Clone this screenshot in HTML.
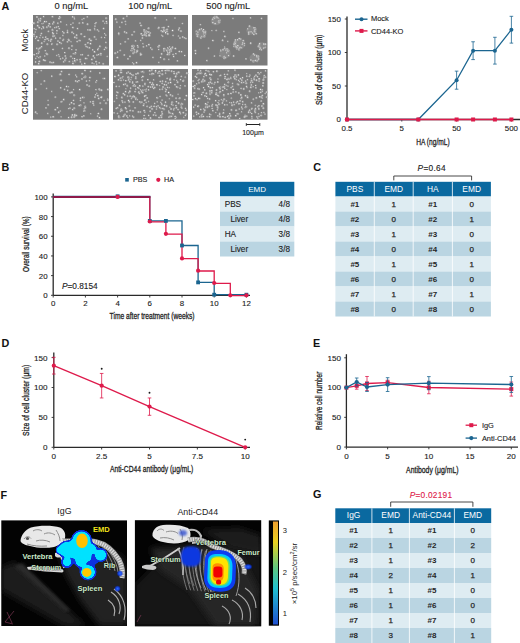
<!DOCTYPE html>
<html><head><meta charset="utf-8"><style>
html,body{margin:0;padding:0;background:#fff;}
svg{display:block;font-family:"Liberation Sans",sans-serif;}
</style></head><body>
<svg width="520" height="643" viewBox="0 0 520 643" font-family="Liberation Sans, sans-serif">
<clipPath id="c1"><rect x="1.3" y="520.4" width="125.7" height="105.6"/></clipPath>
<clipPath id="c2"><rect x="134.9" y="520.2" width="126.3" height="106.1"/></clipPath>
<defs>
<radialGradient id="bl"><stop offset="0" stop-color="#2a6cff"/><stop offset="0.55" stop-color="#1040f0" stop-opacity="0.85"/><stop offset="1" stop-color="#0020c0" stop-opacity="0"/></radialGradient>
<linearGradient id="cbar" x1="0" y1="0" x2="0" y2="1"><stop offset="0" stop-color="#f0a030"/><stop offset="0.2" stop-color="#e8d020"/><stop offset="0.45" stop-color="#60c880"/><stop offset="0.65" stop-color="#20c0d0"/><stop offset="1" stop-color="#2050d0"/></linearGradient>
<linearGradient id="bed1" x1="0" y1="0" x2="1" y2="1"><stop offset="0" stop-color="#2c2c2c"/><stop offset="1" stop-color="#0c0c0c"/></linearGradient>
<filter id="b15" x="-50%" y="-50%" width="200%" height="200%"><feGaussianBlur stdDeviation="1.5"/></filter>
<filter id="b1" x="-50%" y="-50%" width="200%" height="200%"><feGaussianBlur stdDeviation="1"/></filter>
<filter id="b06" x="-50%" y="-50%" width="200%" height="200%"><feGaussianBlur stdDeviation="0.6"/></filter>
<filter id="goo" x="-20%" y="-20%" width="140%" height="140%"><feGaussianBlur stdDeviation="1.6"/><feColorMatrix type="matrix" values="1 0 0 0 0  0 1 0 0 0  0 0 1 0 0  0 0 0 10 -4"/><feGaussianBlur stdDeviation="0.5"/></filter>
<filter id="b3" x="-50%" y="-50%" width="200%" height="200%"><feGaussianBlur stdDeviation="3"/></filter>
</defs>
<rect x="1.3" y="520.4" width="125.7" height="105.6" fill="#030303"/>
<g clip-path="url(#c1)">
<path d="M1,568 L14,562 L86,626 L64,626 L1,590 Z" fill="#1e1e1e" filter="url(#b3)"/>
<path d="M14,566 L22,563 L70,610 L66,612 Z" fill="#2c2c2c" filter="url(#b15)"/>
<path d="M58,552 L98,545 L122,556 L127,575 L127,626 L100,626 L80,600 L66,575 Z" fill="#242424" filter="url(#b3)"/>
<path d="M20.5,541 C21,535 25,530 31,527.5 C40,525 53,525.3 60,527.5 C64,529.5 66,533 65,538 C64,542 60,545 54,547 C46,548.5 37,548 30,546 C25,545 21.5,543.5 20.5,541 Z" fill="#e8e8e8" filter="url(#b06)"/>
<path d="M24,539 C26,536 29,536 31,538.5 M33,531 C36,529 40,529.5 42,531 M44,534 C48,532 52,533 55,535 M36,541 C40,539.5 46,540 50,542 M56,530 C58,533 60,537 60,541 M27,544 C33,546 40,546.5 47,546" stroke="#8c8c8c" stroke-width="1" fill="none" filter="url(#b06)"/>
<circle cx="27.5" cy="538.5" r="1.6" fill="#555" filter="url(#b06)"/>
<path d="M62,541 C72,542 85,540 96,542 C106,544 114,552 119,560 C122,566 123,572 122,578" stroke="#9a9a9a" stroke-width="5.5" fill="none" filter="url(#b06)"/>
<path d="M62,541 C72,542 85,540 96,542 C106,544 114,552 119,560 C122,566 123,572 122,578" stroke="#dddddd" stroke-width="4" fill="none" stroke-dasharray="1.3 1.1" filter="url(#b06)"/>
<path d="M55,553 C58,552 61,553 62,556 C60,558 57,558 55,556 Z" fill="#d8d8d8" filter="url(#b06)"/>
<path d="M98,546 C104,554 108,562 110,570 M103,547 C109,555 113,563 115,571 M108,550 C113,557 117,564 118,572" stroke="#8a8a8a" stroke-width="1" fill="none" filter="url(#b06)"/>
<path d="M27,567 C38,566 52,567 62,569 C64,570 64,572 62,572.5 C52,572 38,571 28,569.5 Z" fill="#d8d8d8" filter="url(#b06)"/>
<path d="M58,546 C60,552 62,560 64,568 M62,547 C66,553 68,560 68,568" stroke="#d0d0d0" stroke-width="1.6" fill="none" filter="url(#b06)"/>
<path d="M111,592 C119,597 122,606 119,614 M114,589 C124,596 127,608 124,620 M108,600 C114,604 116,610 114,616" stroke="#b0b0b0" stroke-width="1.1" fill="none" filter="url(#b06)"/>
<g filter="url(#goo)">
<circle cx="81.5" cy="540.5" r="10.5" fill="#0830e0"/>
<circle cx="67" cy="549.5" r="9" fill="#0830e0"/>
<circle cx="80" cy="550" r="7.5" fill="#0830e0"/>
<circle cx="91" cy="549" r="6.5" fill="#0830e0"/>
<circle cx="100.5" cy="555" r="7" fill="#0830e0"/>
<circle cx="81" cy="561" r="7" fill="#0830e0"/>
<circle cx="67" cy="562" r="6" fill="#0830e0"/>
<circle cx="88" cy="572" r="8.5" fill="#0830e0"/>
<circle cx="60" cy="550" r="4.5" fill="#0830e0"/>
<circle cx="93" cy="560" r="5" fill="#0830e0"/>
<circle cx="75" cy="553" r="7" fill="#0830e0"/>
<circle cx="87" cy="557" r="6" fill="#0830e0"/>
<circle cx="73" cy="545" r="6" fill="#0830e0"/>
</g><g filter="url(#goo)">
<circle cx="81.5" cy="540.5" r="9" fill="#00e2ff"/>
<circle cx="67" cy="549.5" r="7.5" fill="#00e2ff"/>
<circle cx="80" cy="550" r="6" fill="#00e2ff"/>
<circle cx="91" cy="549" r="5" fill="#00e2ff"/>
<circle cx="100.5" cy="555" r="5.5" fill="#00e2ff"/>
<circle cx="81" cy="561" r="5.5" fill="#00e2ff"/>
<circle cx="67" cy="562" r="4.3" fill="#00e2ff"/>
<circle cx="88" cy="572" r="6.8" fill="#00e2ff"/>
<circle cx="60" cy="550" r="3.5" fill="#00e2ff"/>
<circle cx="75" cy="553" r="5.5" fill="#00e2ff"/>
<circle cx="87" cy="557" r="4.5" fill="#00e2ff"/>
<circle cx="73" cy="545" r="4.5" fill="#00e2ff"/>
</g><g filter="url(#b06)">
<ellipse cx="82" cy="540.8" rx="5.8" ry="7.2" fill="#ffc000"/>
<ellipse cx="86.8" cy="572.4" rx="4.7" ry="4.5" fill="#ffc800"/>
</g>
<circle cx="119.9" cy="573.5" r="3.4" fill="url(#bl)"/>
<circle cx="117.5" cy="588.7" r="3.4" fill="url(#bl)"/>
</g>
<path d="M5,622 L14,611 M5,622 L13,624 M7,612 L12,623" stroke="#904060" stroke-width="0.6" fill="none"/>
<rect x="134.9" y="520.2" width="126.3" height="106.1" fill="#030303"/>
<g clip-path="url(#c2)">
<path d="M134.9,585 L160,560 L200,545 L240,540 L261,545 L261,626 L134.9,626 Z" fill="#141414" filter="url(#b3)"/>
<path d="M150,548 L200,545 L240,555 L258,590 L255,626 L215,626 L190,590 L160,570 Z" fill="#262626" filter="url(#b3)"/>
<path d="M200,530 L240,528 L261,535 L261,555 L230,548 Z" fill="#1a1a1a" filter="url(#b3)"/>
<path d="M152.5,536 C152,530 156,526 163,525 C172,524 182,525 188,528 C191,531 191.5,537 188.5,540 C184,543 176,544 168,543 C161,542 155,540 152.5,536 Z" fill="#e8e8e8" filter="url(#b06)"/>
<path d="M157,531 C159,528.5 162,528.5 164,530.5 M166,532 C170,530.5 175,531 178,533.5 M160,538 C165,537 170,538 174,540 M180,529 C182,532 183,536 182,540" stroke="#8c8c8c" stroke-width="1" fill="none" filter="url(#b06)"/>
<path d="M189,530 C194,529 199,531 201,536 C201,540 197,543 192,543" stroke="#bdbdbd" stroke-width="2.2" fill="none" filter="url(#b06)"/>
<ellipse cx="183" cy="533" rx="4" ry="3" fill="#3050d0" opacity="0.8" filter="url(#b1)"/>
<path d="M188,540 C196,538 204,540 212,546 C222,550 232,552 240,560 C244,565 245,570 244,574" stroke="#9a9a9a" stroke-width="5" fill="none" filter="url(#b06)"/>
<path d="M188,540 C196,538 204,540 212,546 C222,550 232,552 240,560 C244,565 245,570 244,574" stroke="#dddddd" stroke-width="3.6" fill="none" stroke-dasharray="1.3 1.1" filter="url(#b06)"/>
<path d="M184.0,547.0 C180.0,560.0 182.0,575.0 187.0,590.0 M187.6,547.6 C183.6,560.5 185.6,575.5 190.6,590.3 M191.2,548.2 C187.2,561.0 189.2,576.0 194.2,590.6 M194.8,548.8 C190.8,561.5 192.8,576.5 197.8,590.9 M198.4,549.4 C194.4,562.0 196.4,577.0 201.4,591.2 M202.0,550.0 C198.0,562.5 200.0,577.5 205.0,591.5 M205.6,550.6 C201.6,563.0 203.6,578.0 208.6,591.8 M209.2,551.2 C205.2,563.5 207.2,578.5 212.2,592.1" stroke="#a0a0a0" stroke-width="0.9" fill="none" opacity="0.75" filter="url(#b06)"/>
<path d="M148,567 C158,562 170,555 180,548" stroke="#d0d0d0" stroke-width="1.8" fill="none" filter="url(#b06)"/>
<path d="M186,549 C183,560 185,572 190,584 M190,548 C187,560 189,573 194,586 M211,550 C208,563 210,578 214,592" stroke="#8a8a8a" stroke-width="0.9" fill="none" opacity="0.8" filter="url(#b06)"/>
<path d="M197,548 C193,560 195,575 201,588 M202,549 C198,562 200,577 206,590 M207,549 C203,563 205,578 211,592 M236,560 C240,572 240,585 236,596" stroke="#9a9a9a" stroke-width="1" fill="none" filter="url(#b06)"/>
<path d="M142,566 C146,564 152,564.5 156,566.5 C157,568 156,569.5 153,570 C149,570 145,569 142,568 Z" fill="#c8c8c8" filter="url(#b06)"/>
<path d="M178,548 C182,556 184,565 183,575" stroke="#c0c0c0" stroke-width="1.5" fill="none" filter="url(#b06)"/>
<path d="M232,600 C240,604 244,612 242,620 M238,594 C248,600 252,610 250,622 M222,606 C230,610 232,618 229,624 M245,588 C252,592 256,600 256,608" stroke="#a8a8a8" stroke-width="1.1" fill="none" filter="url(#b06)"/>
<rect x="181" y="546.5" width="20" height="20" rx="8" fill="#1038e0" filter="url(#b1)"/>
<ellipse cx="248.2" cy="566.8" rx="4.5" ry="3.2" fill="url(#bl)"/>
<g filter="url(#b06)">
<path d="M205,560 C205,552 212,549.5 220,550 C230,550.5 236,556 236,566 L235.5,580 C235,588 229,592 220,591.8 C210,591.5 204,587 204,578 Z" fill="#0c3cf0"/>
<path d="M208,561 C208,555 213,553.5 220,554 C228,554.5 232.5,558 232.5,566 L232,579 C231.5,585 227,588 220,588 C212,588 207.5,585 207.3,578 Z" fill="#00c8ff"/>
<path d="M209.8,562 C209.8,557 214,555.8 219.5,556 C226,556.3 230,559.5 230,566 L229.6,578 C229.2,583 226,586 220,586 C213.5,586 209.5,583 209.4,577 Z" fill="#60e070"/>
<path d="M211,562.5 C211,558 214.5,557 219.5,557.2 C225,557.5 228.4,560 228.4,566 L228,577 C227.6,582 225,584.8 220,584.8 C214.5,584.8 211,582 210.8,577 Z" fill="#ffe400"/>
<path d="M212.5,567 C212.5,564 215,563 218,563.2 C222,563.5 224,565.5 223.8,569 L223.5,577 C223.2,580 221,581.5 218,581.5 C215,581.5 212.6,580 212.5,577 Z" fill="#ff9000"/>
</g>
<rect x="213.4" y="566.5" width="9" height="11" rx="3.2" fill="#f20000" filter="url(#b06)"/>
<circle cx="218.6" cy="582" r="2.6" fill="#f00000" filter="url(#b06)"/>
</g>
<path d="M137,622 L141,615" stroke="#904060" stroke-width="0.6" fill="none"/>
<text x="93" y="532.3" font-size="7.6" text-anchor="start" fill="#f2e21c" font-weight="bold" stroke="#000" stroke-width="0.6" paint-order="stroke" textLength="16.8" lengthAdjust="spacingAndGlyphs">EMD</text>
<text x="22.5" y="558.8" font-size="7.4" text-anchor="start" fill="#cdeccb" font-weight="bold" stroke="#000" stroke-width="0.6" paint-order="stroke" textLength="30" lengthAdjust="spacingAndGlyphs">Vertebra</text>
<text x="31.3" y="570" font-size="7.4" text-anchor="start" fill="#cdeccb" font-weight="bold" stroke="#000" stroke-width="0.6" paint-order="stroke" textLength="30" lengthAdjust="spacingAndGlyphs">Sternum</text>
<text x="103.7" y="568.2" font-size="7.2" text-anchor="start" fill="#cdeccb" font-weight="bold" stroke="#000" stroke-width="0.6" paint-order="stroke">Rib</text>
<text x="77.5" y="590.5" font-size="7.4" text-anchor="start" fill="#cdeccb" font-weight="bold" stroke="#000" stroke-width="0.6" paint-order="stroke" textLength="25" lengthAdjust="spacingAndGlyphs">Spleen</text>
<text x="195.2" y="544.9" font-size="7.4" text-anchor="start" fill="#cdeccb" font-weight="bold" stroke="#000" stroke-width="0.6" paint-order="stroke" textLength="30.8" lengthAdjust="spacingAndGlyphs">Vertebra</text>
<text x="150.4" y="561.6" font-size="7.4" text-anchor="start" fill="#cdeccb" font-weight="bold" stroke="#000" stroke-width="0.6" paint-order="stroke" textLength="30.3" lengthAdjust="spacingAndGlyphs">Sternum</text>
<text x="237.4" y="555.1" font-size="7.4" text-anchor="start" fill="#cdeccb" font-weight="bold" stroke="#000" stroke-width="0.6" paint-order="stroke" textLength="22.2" lengthAdjust="spacingAndGlyphs">Femur</text>
<text x="204.4" y="598.2" font-size="7.4" text-anchor="start" fill="#cdeccb" font-weight="bold" stroke="#000" stroke-width="0.6" paint-order="stroke" textLength="24.2" lengthAdjust="spacingAndGlyphs">Spleen</text>
<text x="64.4" y="513.9" font-size="8.8" text-anchor="middle" fill="#222" font-weight="normal" >IgG</text>
<text x="197.8" y="514.8" font-size="8.8" text-anchor="middle" fill="#222" font-weight="normal" >Anti-CD44</text>
<rect x="268.8" y="520.4" width="10.2" height="105.3" fill="#000"/>
<rect x="273" y="521.5" width="5" height="103" fill="url(#cbar)"/>
<text x="282.7" y="533" font-size="7.6" text-anchor="start" fill="#222" font-weight="normal" >3</text>
<text x="282.7" y="574.5" font-size="7.6" text-anchor="start" fill="#222" font-weight="normal" >2</text>
<text x="282.7" y="615.5" font-size="7.6" text-anchor="start" fill="#222" font-weight="normal" >1</text>
<text transform="translate(297,573.5) rotate(-90)" font-size="7.8" text-anchor="middle" fill="#222">×10<tspan font-size="5.5" dy="-3">5</tspan><tspan dy="3"> p/sec/cm</tspan><tspan font-size="5.5" dy="-3">2</tspan><tspan dy="3">/sr</tspan></text>
<text x="1.5" y="9.6" font-size="10.8" text-anchor="start" fill="#111" font-weight="bold" >A</text>
<text x="1.5" y="171.3" font-size="10.8" text-anchor="start" fill="#111" font-weight="bold" >B</text>
<text x="313.2" y="171.4" font-size="10.8" text-anchor="start" fill="#111" font-weight="bold" >C</text>
<text x="1.5" y="347.3" font-size="10.8" text-anchor="start" fill="#111" font-weight="bold" >D</text>
<text x="313" y="346.7" font-size="10.8" text-anchor="start" fill="#111" font-weight="bold" >E</text>
<text x="0.6" y="498.8" font-size="10.8" text-anchor="start" fill="#111" font-weight="bold" >F</text>
<text x="313" y="498" font-size="10.8" text-anchor="start" fill="#111" font-weight="bold" >G</text>
<rect x="33" y="15" width="76.0" height="50.5" fill="#7b7b7b"/>
<circle cx="58.0" cy="23.3" r="1.1" fill="#9a9a9a"/>
<circle cx="57.8" cy="23.1" r="0.55" fill="rgb(229,229,229)"/>
<circle cx="82.2" cy="19.5" r="0.9" fill="#9a9a9a"/>
<circle cx="82.0" cy="19.3" r="0.46" fill="rgb(217,217,217)"/>
<circle cx="73.7" cy="33.7" r="0.9" fill="#9a9a9a"/>
<circle cx="73.5" cy="33.5" r="0.47" fill="rgb(238,238,238)"/>
<circle cx="38.3" cy="40.6" r="1.2" fill="#9a9a9a"/>
<circle cx="38.1" cy="40.4" r="0.62" fill="rgb(239,239,239)"/>
<circle cx="36.8" cy="37.0" r="1.2" fill="#9a9a9a"/>
<circle cx="36.6" cy="36.8" r="0.60" fill="rgb(250,250,250)"/>
<circle cx="39.2" cy="20.4" r="0.9" fill="#9a9a9a"/>
<circle cx="39.0" cy="20.2" r="0.46" fill="rgb(216,216,216)"/>
<circle cx="65.4" cy="56.1" r="1.1" fill="#9a9a9a"/>
<circle cx="65.2" cy="55.9" r="0.56" fill="rgb(230,230,230)"/>
<circle cx="43.2" cy="26.8" r="1.1" fill="#9a9a9a"/>
<circle cx="43.0" cy="26.6" r="0.54" fill="rgb(215,215,215)"/>
<circle cx="80.4" cy="62.0" r="1.1" fill="#9a9a9a"/>
<circle cx="80.2" cy="61.8" r="0.53" fill="rgb(219,219,219)"/>
<circle cx="76.7" cy="35.2" r="1.2" fill="#9a9a9a"/>
<circle cx="76.5" cy="35.0" r="0.58" fill="rgb(247,247,247)"/>
<circle cx="106.2" cy="18.3" r="1.2" fill="#9a9a9a"/>
<circle cx="106.0" cy="18.1" r="0.61" fill="rgb(220,220,220)"/>
<circle cx="97.5" cy="30.0" r="1.1" fill="#9a9a9a"/>
<circle cx="97.3" cy="29.8" r="0.57" fill="rgb(219,219,219)"/>
<circle cx="44.7" cy="21.7" r="1.2" fill="#9a9a9a"/>
<circle cx="44.5" cy="21.5" r="0.58" fill="rgb(245,245,245)"/>
<circle cx="56.8" cy="55.6" r="1.0" fill="#9a9a9a"/>
<circle cx="56.6" cy="55.4" r="0.49" fill="rgb(219,219,219)"/>
<circle cx="47.4" cy="44.2" r="1.2" fill="#9a9a9a"/>
<circle cx="47.2" cy="44.0" r="0.60" fill="rgb(230,230,230)"/>
<circle cx="81.3" cy="34.1" r="1.2" fill="#9a9a9a"/>
<circle cx="81.1" cy="33.9" r="0.58" fill="rgb(228,228,228)"/>
<circle cx="74.5" cy="19.0" r="1.0" fill="#9a9a9a"/>
<circle cx="74.3" cy="18.8" r="0.49" fill="rgb(244,244,244)"/>
<circle cx="38.4" cy="26.0" r="1.1" fill="#9a9a9a"/>
<circle cx="38.2" cy="25.8" r="0.54" fill="rgb(239,239,239)"/>
<circle cx="84.3" cy="36.7" r="0.9" fill="#9a9a9a"/>
<circle cx="84.1" cy="36.5" r="0.46" fill="rgb(233,233,233)"/>
<circle cx="57.2" cy="44.4" r="1.2" fill="#9a9a9a"/>
<circle cx="57.0" cy="44.2" r="0.58" fill="rgb(227,227,227)"/>
<circle cx="67.5" cy="30.5" r="0.9" fill="#9a9a9a"/>
<circle cx="67.3" cy="30.3" r="0.46" fill="rgb(224,224,224)"/>
<circle cx="92.8" cy="49.9" r="1.0" fill="#9a9a9a"/>
<circle cx="92.6" cy="49.7" r="0.51" fill="rgb(234,234,234)"/>
<circle cx="52.1" cy="43.9" r="1.1" fill="#9a9a9a"/>
<circle cx="51.9" cy="43.7" r="0.56" fill="rgb(223,223,223)"/>
<circle cx="72.9" cy="58.4" r="0.9" fill="#9a9a9a"/>
<circle cx="72.7" cy="58.2" r="0.45" fill="rgb(218,218,218)"/>
<circle cx="88.0" cy="30.0" r="1.1" fill="#9a9a9a"/>
<circle cx="87.8" cy="29.8" r="0.54" fill="rgb(221,221,221)"/>
<circle cx="106.5" cy="21.7" r="1.1" fill="#9a9a9a"/>
<circle cx="106.3" cy="21.5" r="0.57" fill="rgb(246,246,246)"/>
<circle cx="64.9" cy="52.7" r="1.0" fill="#9a9a9a"/>
<circle cx="64.7" cy="52.5" r="0.50" fill="rgb(248,248,248)"/>
<circle cx="45.2" cy="39.7" r="1.0" fill="#9a9a9a"/>
<circle cx="45.0" cy="39.5" r="0.50" fill="rgb(244,244,244)"/>
<circle cx="36.9" cy="48.4" r="1.1" fill="#9a9a9a"/>
<circle cx="36.7" cy="48.2" r="0.53" fill="rgb(222,222,222)"/>
<circle cx="90.6" cy="43.8" r="1.2" fill="#9a9a9a"/>
<circle cx="90.4" cy="43.6" r="0.62" fill="rgb(250,250,250)"/>
<circle cx="98.8" cy="31.2" r="1.0" fill="#9a9a9a"/>
<circle cx="98.6" cy="31.0" r="0.48" fill="rgb(220,220,220)"/>
<circle cx="85.5" cy="44.8" r="1.2" fill="#9a9a9a"/>
<circle cx="85.3" cy="44.6" r="0.61" fill="rgb(216,216,216)"/>
<circle cx="76.9" cy="38.1" r="1.0" fill="#9a9a9a"/>
<circle cx="76.7" cy="37.9" r="0.50" fill="rgb(219,219,219)"/>
<circle cx="96.2" cy="61.8" r="1.2" fill="#9a9a9a"/>
<circle cx="96.0" cy="61.6" r="0.59" fill="rgb(243,243,243)"/>
<circle cx="69.1" cy="48.2" r="1.2" fill="#9a9a9a"/>
<circle cx="68.9" cy="48.0" r="0.62" fill="rgb(239,239,239)"/>
<circle cx="38.5" cy="50.0" r="1.0" fill="#9a9a9a"/>
<circle cx="38.3" cy="49.8" r="0.49" fill="rgb(228,228,228)"/>
<circle cx="81.9" cy="64.2" r="0.9" fill="#9a9a9a"/>
<circle cx="81.7" cy="64.0" r="0.46" fill="rgb(220,220,220)"/>
<circle cx="94.8" cy="29.8" r="0.9" fill="#9a9a9a"/>
<circle cx="94.6" cy="29.6" r="0.47" fill="rgb(248,248,248)"/>
<circle cx="62.5" cy="48.4" r="1.0" fill="#9a9a9a"/>
<circle cx="62.3" cy="48.2" r="0.50" fill="rgb(238,238,238)"/>
<circle cx="35.7" cy="38.4" r="0.9" fill="#9a9a9a"/>
<circle cx="35.5" cy="38.2" r="0.47" fill="rgb(247,247,247)"/>
<circle cx="46.4" cy="21.7" r="1.0" fill="#9a9a9a"/>
<circle cx="46.2" cy="21.5" r="0.50" fill="rgb(222,222,222)"/>
<circle cx="38.4" cy="53.3" r="1.1" fill="#9a9a9a"/>
<circle cx="38.2" cy="53.1" r="0.57" fill="rgb(229,229,229)"/>
<circle cx="43.6" cy="28.0" r="1.1" fill="#9a9a9a"/>
<circle cx="43.4" cy="27.8" r="0.54" fill="rgb(246,246,246)"/>
<circle cx="62.9" cy="58.3" r="1.0" fill="#9a9a9a"/>
<circle cx="62.7" cy="58.1" r="0.52" fill="rgb(225,225,225)"/>
<circle cx="40.0" cy="37.8" r="0.9" fill="#9a9a9a"/>
<circle cx="39.8" cy="37.6" r="0.45" fill="rgb(246,246,246)"/>
<circle cx="74.7" cy="58.8" r="1.1" fill="#9a9a9a"/>
<circle cx="74.5" cy="58.6" r="0.57" fill="rgb(240,240,240)"/>
<circle cx="94.6" cy="57.9" r="1.0" fill="#9a9a9a"/>
<circle cx="94.4" cy="57.7" r="0.50" fill="rgb(224,224,224)"/>
<circle cx="54.6" cy="36.1" r="1.0" fill="#9a9a9a"/>
<circle cx="54.4" cy="35.9" r="0.52" fill="rgb(239,239,239)"/>
<circle cx="60.5" cy="58.9" r="1.0" fill="#9a9a9a"/>
<circle cx="60.3" cy="58.7" r="0.51" fill="rgb(236,236,236)"/>
<circle cx="104.9" cy="23.3" r="0.9" fill="#9a9a9a"/>
<circle cx="104.7" cy="23.1" r="0.45" fill="rgb(236,236,236)"/>
<circle cx="47.0" cy="27.2" r="1.2" fill="#9a9a9a"/>
<circle cx="46.8" cy="27.0" r="0.60" fill="rgb(222,222,222)"/>
<circle cx="51.3" cy="39.5" r="1.2" fill="#9a9a9a"/>
<circle cx="51.1" cy="39.3" r="0.61" fill="rgb(227,227,227)"/>
<circle cx="77.6" cy="28.7" r="1.1" fill="#9a9a9a"/>
<circle cx="77.4" cy="28.5" r="0.57" fill="rgb(233,233,233)"/>
<circle cx="34.3" cy="36.3" r="1.0" fill="#9a9a9a"/>
<circle cx="34.1" cy="36.1" r="0.49" fill="rgb(219,219,219)"/>
<circle cx="61.3" cy="43.5" r="1.0" fill="#9a9a9a"/>
<circle cx="61.1" cy="43.3" r="0.52" fill="rgb(219,219,219)"/>
<circle cx="104.5" cy="49.5" r="1.0" fill="#9a9a9a"/>
<circle cx="104.3" cy="49.3" r="0.51" fill="rgb(242,242,242)"/>
<circle cx="72.1" cy="46.0" r="1.2" fill="#9a9a9a"/>
<circle cx="71.9" cy="45.8" r="0.58" fill="rgb(218,218,218)"/>
<circle cx="84.0" cy="18.6" r="1.0" fill="#9a9a9a"/>
<circle cx="83.8" cy="18.4" r="0.50" fill="rgb(218,218,218)"/>
<circle cx="100.6" cy="53.8" r="1.2" fill="#9a9a9a"/>
<circle cx="100.4" cy="53.6" r="0.60" fill="rgb(233,233,233)"/>
<circle cx="98.7" cy="54.7" r="1.1" fill="#9a9a9a"/>
<circle cx="98.5" cy="54.5" r="0.56" fill="rgb(224,224,224)"/>
<circle cx="63.0" cy="35.4" r="1.0" fill="#9a9a9a"/>
<circle cx="62.8" cy="35.2" r="0.49" fill="rgb(232,232,232)"/>
<circle cx="41.7" cy="46.8" r="1.1" fill="#9a9a9a"/>
<circle cx="41.5" cy="46.6" r="0.53" fill="rgb(235,235,235)"/>
<circle cx="38.6" cy="19.3" r="1.0" fill="#9a9a9a"/>
<circle cx="38.4" cy="19.1" r="0.48" fill="rgb(238,238,238)"/>
<circle cx="49.4" cy="23.9" r="1.2" fill="#9a9a9a"/>
<circle cx="49.2" cy="23.7" r="0.59" fill="rgb(242,242,242)"/>
<circle cx="59.2" cy="18.5" r="1.2" fill="#9a9a9a"/>
<circle cx="59.0" cy="18.3" r="0.60" fill="rgb(240,240,240)"/>
<circle cx="34.0" cy="23.3" r="1.2" fill="#9a9a9a"/>
<circle cx="33.8" cy="23.1" r="0.61" fill="rgb(250,250,250)"/>
<circle cx="41.5" cy="33.6" r="1.1" fill="#9a9a9a"/>
<circle cx="41.3" cy="33.4" r="0.55" fill="rgb(220,220,220)"/>
<circle cx="35.9" cy="58.4" r="0.9" fill="#9a9a9a"/>
<circle cx="35.7" cy="58.2" r="0.46" fill="rgb(241,241,241)"/>
<circle cx="79.4" cy="23.2" r="1.1" fill="#9a9a9a"/>
<circle cx="79.2" cy="23.0" r="0.53" fill="rgb(223,223,223)"/>
<circle cx="52.7" cy="32.8" r="1.1" fill="#9a9a9a"/>
<circle cx="52.5" cy="32.6" r="0.56" fill="rgb(233,233,233)"/>
<circle cx="60.9" cy="22.0" r="1.1" fill="#9a9a9a"/>
<circle cx="60.7" cy="21.8" r="0.53" fill="rgb(250,250,250)"/>
<circle cx="96.8" cy="64.2" r="0.9" fill="#9a9a9a"/>
<circle cx="96.6" cy="64.0" r="0.47" fill="rgb(245,245,245)"/>
<circle cx="68.5" cy="39.5" r="1.0" fill="#9a9a9a"/>
<circle cx="68.3" cy="39.3" r="0.52" fill="rgb(233,233,233)"/>
<circle cx="40.4" cy="21.0" r="1.0" fill="#9a9a9a"/>
<circle cx="40.2" cy="20.8" r="0.50" fill="rgb(231,231,231)"/>
<circle cx="59.4" cy="28.8" r="1.0" fill="#9a9a9a"/>
<circle cx="59.2" cy="28.6" r="0.52" fill="rgb(230,230,230)"/>
<circle cx="95.3" cy="23.8" r="1.0" fill="#9a9a9a"/>
<circle cx="95.1" cy="23.6" r="0.50" fill="rgb(250,250,250)"/>
<circle cx="35.7" cy="62.1" r="1.1" fill="#9a9a9a"/>
<circle cx="35.5" cy="61.9" r="0.57" fill="rgb(222,222,222)"/>
<circle cx="73.1" cy="23.1" r="1.0" fill="#9a9a9a"/>
<circle cx="72.9" cy="22.9" r="0.48" fill="rgb(225,225,225)"/>
<circle cx="74.2" cy="17.3" r="0.9" fill="#9a9a9a"/>
<circle cx="74.0" cy="17.1" r="0.46" fill="rgb(247,247,247)"/>
<circle cx="73.1" cy="63.5" r="1.2" fill="#9a9a9a"/>
<circle cx="72.9" cy="63.3" r="0.61" fill="rgb(246,246,246)"/>
<circle cx="97.9" cy="49.8" r="1.1" fill="#9a9a9a"/>
<circle cx="97.7" cy="49.6" r="0.55" fill="rgb(243,243,243)"/>
<circle cx="53.3" cy="33.8" r="1.2" fill="#9a9a9a"/>
<circle cx="53.1" cy="33.6" r="0.61" fill="rgb(243,243,243)"/>
<circle cx="46.4" cy="53.4" r="1.0" fill="#9a9a9a"/>
<circle cx="46.2" cy="53.2" r="0.52" fill="rgb(250,250,250)"/>
<circle cx="73.4" cy="53.8" r="1.0" fill="#9a9a9a"/>
<circle cx="73.2" cy="53.6" r="0.48" fill="rgb(220,220,220)"/>
<circle cx="58.4" cy="26.8" r="1.0" fill="#9a9a9a"/>
<circle cx="58.2" cy="26.6" r="0.48" fill="rgb(250,250,250)"/>
<circle cx="94.1" cy="63.8" r="0.9" fill="#9a9a9a"/>
<circle cx="93.9" cy="63.6" r="0.47" fill="rgb(230,230,230)"/>
<circle cx="97.1" cy="55.1" r="1.0" fill="#9a9a9a"/>
<circle cx="96.9" cy="54.9" r="0.51" fill="rgb(227,227,227)"/>
<circle cx="94.6" cy="51.9" r="1.2" fill="#9a9a9a"/>
<circle cx="94.4" cy="51.7" r="0.61" fill="rgb(241,241,241)"/>
<circle cx="50.8" cy="41.1" r="1.0" fill="#9a9a9a"/>
<circle cx="50.6" cy="40.9" r="0.52" fill="rgb(248,248,248)"/>
<circle cx="60.3" cy="17.4" r="1.0" fill="#9a9a9a"/>
<circle cx="60.1" cy="17.2" r="0.49" fill="rgb(232,232,232)"/>
<circle cx="36.1" cy="29.6" r="1.0" fill="#9a9a9a"/>
<circle cx="35.9" cy="29.4" r="0.51" fill="rgb(218,218,218)"/>
<circle cx="53.2" cy="49.6" r="1.1" fill="#9a9a9a"/>
<circle cx="53.0" cy="49.4" r="0.54" fill="rgb(238,238,238)"/>
<circle cx="104.8" cy="37.7" r="0.9" fill="#9a9a9a"/>
<circle cx="104.6" cy="37.5" r="0.47" fill="rgb(247,247,247)"/>
<circle cx="103.3" cy="63.9" r="1.1" fill="#9a9a9a"/>
<circle cx="103.1" cy="63.7" r="0.54" fill="rgb(228,228,228)"/>
<circle cx="104.7" cy="33.7" r="0.9" fill="#9a9a9a"/>
<circle cx="104.5" cy="33.5" r="0.47" fill="rgb(230,230,230)"/>
<circle cx="50.3" cy="27.0" r="1.0" fill="#9a9a9a"/>
<circle cx="50.1" cy="26.8" r="0.52" fill="rgb(243,243,243)"/>
<circle cx="48.6" cy="25.9" r="1.1" fill="#9a9a9a"/>
<circle cx="48.4" cy="25.7" r="0.53" fill="rgb(234,234,234)"/>
<circle cx="80.2" cy="59.7" r="1.2" fill="#9a9a9a"/>
<circle cx="80.0" cy="59.5" r="0.60" fill="rgb(216,216,216)"/>
<circle cx="96.2" cy="39.3" r="0.9" fill="#9a9a9a"/>
<circle cx="96.0" cy="39.1" r="0.47" fill="rgb(242,242,242)"/>
<circle cx="82.3" cy="54.8" r="1.1" fill="#9a9a9a"/>
<circle cx="82.1" cy="54.6" r="0.57" fill="rgb(245,245,245)"/>
<circle cx="40.3" cy="48.0" r="1.2" fill="#9a9a9a"/>
<circle cx="40.1" cy="47.8" r="0.62" fill="rgb(246,246,246)"/>
<circle cx="101.3" cy="53.9" r="0.9" fill="#9a9a9a"/>
<circle cx="101.1" cy="53.7" r="0.45" fill="rgb(240,240,240)"/>
<circle cx="89.5" cy="39.2" r="1.2" fill="#9a9a9a"/>
<circle cx="89.3" cy="39.0" r="0.61" fill="rgb(248,248,248)"/>
<circle cx="47.2" cy="54.3" r="1.2" fill="#9a9a9a"/>
<circle cx="47.0" cy="54.1" r="0.60" fill="rgb(243,243,243)"/>
<circle cx="58.6" cy="54.8" r="1.0" fill="#9a9a9a"/>
<circle cx="58.4" cy="54.6" r="0.49" fill="rgb(221,221,221)"/>
<circle cx="105.9" cy="35.2" r="1.0" fill="#9a9a9a"/>
<circle cx="105.7" cy="35.0" r="0.49" fill="rgb(224,224,224)"/>
<circle cx="63.7" cy="61.9" r="1.1" fill="#9a9a9a"/>
<circle cx="63.5" cy="61.7" r="0.54" fill="rgb(221,221,221)"/>
<circle cx="87.6" cy="24.2" r="1.2" fill="#9a9a9a"/>
<circle cx="87.4" cy="24.0" r="0.61" fill="rgb(244,244,244)"/>
<circle cx="43.4" cy="23.3" r="0.9" fill="#9a9a9a"/>
<circle cx="43.2" cy="23.1" r="0.46" fill="rgb(217,217,217)"/>
<circle cx="101.0" cy="55.1" r="0.9" fill="#9a9a9a"/>
<circle cx="100.8" cy="54.9" r="0.45" fill="rgb(223,223,223)"/>
<circle cx="44.8" cy="56.1" r="1.0" fill="#9a9a9a"/>
<circle cx="44.6" cy="55.9" r="0.49" fill="rgb(217,217,217)"/>
<circle cx="106.5" cy="47.9" r="1.1" fill="#9a9a9a"/>
<circle cx="106.3" cy="47.7" r="0.56" fill="rgb(234,234,234)"/>
<circle cx="59.9" cy="42.6" r="1.2" fill="#9a9a9a"/>
<circle cx="59.7" cy="42.4" r="0.62" fill="rgb(231,231,231)"/>
<circle cx="43.7" cy="16.7" r="1.1" fill="#9a9a9a"/>
<circle cx="43.5" cy="16.5" r="0.54" fill="rgb(242,242,242)"/>
<circle cx="105.8" cy="47.5" r="1.1" fill="#9a9a9a"/>
<circle cx="105.6" cy="47.3" r="0.57" fill="rgb(222,222,222)"/>
<circle cx="73.0" cy="61.3" r="0.9" fill="#9a9a9a"/>
<circle cx="72.8" cy="61.1" r="0.47" fill="rgb(234,234,234)"/>
<circle cx="66.1" cy="58.3" r="1.1" fill="#9a9a9a"/>
<circle cx="65.9" cy="58.1" r="0.54" fill="rgb(227,227,227)"/>
<circle cx="95.1" cy="26.2" r="1.0" fill="#9a9a9a"/>
<circle cx="94.9" cy="26.0" r="0.52" fill="rgb(229,229,229)"/>
<circle cx="52.6" cy="30.2" r="1.2" fill="#9a9a9a"/>
<circle cx="52.4" cy="30.0" r="0.59" fill="rgb(215,215,215)"/>
<circle cx="51.8" cy="44.4" r="0.9" fill="#9a9a9a"/>
<circle cx="51.6" cy="44.2" r="0.45" fill="rgb(234,234,234)"/>
<circle cx="53.2" cy="36.3" r="1.2" fill="#9a9a9a"/>
<circle cx="53.0" cy="36.1" r="0.62" fill="rgb(232,232,232)"/>
<circle cx="43.7" cy="60.1" r="1.2" fill="#9a9a9a"/>
<circle cx="43.5" cy="59.9" r="0.62" fill="rgb(230,230,230)"/>
<circle cx="60.2" cy="38.2" r="1.1" fill="#9a9a9a"/>
<circle cx="60.0" cy="38.0" r="0.53" fill="rgb(230,230,230)"/>
<circle cx="77.2" cy="59.9" r="1.1" fill="#9a9a9a"/>
<circle cx="77.0" cy="59.7" r="0.55" fill="rgb(216,216,216)"/>
<circle cx="65.1" cy="60.5" r="1.2" fill="#9a9a9a"/>
<circle cx="64.9" cy="60.3" r="0.62" fill="rgb(234,234,234)"/>
<circle cx="71.1" cy="41.8" r="0.9" fill="#9a9a9a"/>
<circle cx="70.9" cy="41.6" r="0.46" fill="rgb(227,227,227)"/>
<circle cx="72.7" cy="16.9" r="1.1" fill="#9a9a9a"/>
<circle cx="72.5" cy="16.7" r="0.54" fill="rgb(241,241,241)"/>
<circle cx="66.6" cy="24.9" r="0.9" fill="#9a9a9a"/>
<circle cx="66.4" cy="24.7" r="0.46" fill="rgb(229,229,229)"/>
<circle cx="34.3" cy="54.8" r="1.1" fill="#9a9a9a"/>
<circle cx="34.1" cy="54.6" r="0.57" fill="rgb(238,238,238)"/>
<circle cx="46.8" cy="39.0" r="1.0" fill="#9a9a9a"/>
<circle cx="46.6" cy="38.8" r="0.49" fill="rgb(217,217,217)"/>
<circle cx="87.7" cy="43.0" r="1.1" fill="#9a9a9a"/>
<circle cx="87.5" cy="42.8" r="0.57" fill="rgb(241,241,241)"/>
<circle cx="58.1" cy="41.1" r="1.0" fill="#9a9a9a"/>
<circle cx="57.9" cy="40.9" r="0.51" fill="rgb(240,240,240)"/>
<circle cx="75.1" cy="54.0" r="1.0" fill="#9a9a9a"/>
<circle cx="74.9" cy="53.8" r="0.48" fill="rgb(233,233,233)"/>
<circle cx="41.9" cy="43.2" r="1.2" fill="#9a9a9a"/>
<circle cx="41.7" cy="43.0" r="0.58" fill="rgb(247,247,247)"/>
<circle cx="52.4" cy="29.4" r="0.9" fill="#9a9a9a"/>
<circle cx="52.2" cy="29.2" r="0.46" fill="rgb(246,246,246)"/>
<circle cx="91.1" cy="40.6" r="1.2" fill="#9a9a9a"/>
<circle cx="90.9" cy="40.4" r="0.62" fill="rgb(234,234,234)"/>
<circle cx="75.6" cy="52.9" r="1.2" fill="#9a9a9a"/>
<circle cx="75.4" cy="52.7" r="0.58" fill="rgb(227,227,227)"/>
<circle cx="101.5" cy="37.5" r="1.0" fill="#9a9a9a"/>
<circle cx="101.3" cy="37.3" r="0.49" fill="rgb(229,229,229)"/>
<circle cx="79.3" cy="40.5" r="1.0" fill="#9a9a9a"/>
<circle cx="79.1" cy="40.3" r="0.50" fill="rgb(233,233,233)"/>
<circle cx="71.9" cy="49.6" r="0.9" fill="#9a9a9a"/>
<circle cx="71.7" cy="49.4" r="0.47" fill="rgb(246,246,246)"/>
<circle cx="67.5" cy="41.9" r="1.1" fill="#9a9a9a"/>
<circle cx="67.3" cy="41.7" r="0.56" fill="rgb(229,229,229)"/>
<circle cx="69.4" cy="61.7" r="1.1" fill="#9a9a9a"/>
<circle cx="69.2" cy="61.5" r="0.53" fill="rgb(218,218,218)"/>
<circle cx="85.7" cy="58.5" r="1.2" fill="#9a9a9a"/>
<circle cx="85.5" cy="58.3" r="0.62" fill="rgb(224,224,224)"/>
<circle cx="103.7" cy="28.6" r="1.2" fill="#9a9a9a"/>
<circle cx="103.5" cy="28.4" r="0.61" fill="rgb(218,218,218)"/>
<circle cx="75.4" cy="61.7" r="1.0" fill="#9a9a9a"/>
<circle cx="75.2" cy="61.5" r="0.49" fill="rgb(224,224,224)"/>
<circle cx="96.2" cy="22.7" r="1.0" fill="#9a9a9a"/>
<circle cx="96.0" cy="22.5" r="0.52" fill="rgb(218,218,218)"/>
<circle cx="43.0" cy="37.4" r="1.0" fill="#9a9a9a"/>
<circle cx="42.8" cy="37.2" r="0.48" fill="rgb(243,243,243)"/>
<circle cx="39.4" cy="27.7" r="1.2" fill="#9a9a9a"/>
<circle cx="39.2" cy="27.5" r="0.61" fill="rgb(235,235,235)"/>
<circle cx="39.4" cy="48.5" r="1.2" fill="#9a9a9a"/>
<circle cx="39.2" cy="48.3" r="0.58" fill="rgb(220,220,220)"/>
<circle cx="92.0" cy="59.5" r="1.2" fill="#9a9a9a"/>
<circle cx="91.8" cy="59.3" r="0.61" fill="rgb(236,236,236)"/>
<circle cx="45.4" cy="50.7" r="1.0" fill="#9a9a9a"/>
<circle cx="45.2" cy="50.5" r="0.48" fill="rgb(248,248,248)"/>
<circle cx="82.9" cy="22.9" r="1.2" fill="#9a9a9a"/>
<circle cx="82.7" cy="22.7" r="0.58" fill="rgb(217,217,217)"/>
<circle cx="99.3" cy="62.9" r="1.0" fill="#9a9a9a"/>
<circle cx="99.1" cy="62.7" r="0.50" fill="rgb(239,239,239)"/>
<circle cx="50.2" cy="62.2" r="1.2" fill="#9a9a9a"/>
<circle cx="50.0" cy="62.0" r="0.60" fill="rgb(236,236,236)"/>
<circle cx="63.5" cy="39.6" r="1.1" fill="#9a9a9a"/>
<circle cx="63.3" cy="39.4" r="0.53" fill="rgb(221,221,221)"/>
<circle cx="107.3" cy="56.4" r="0.9" fill="#9a9a9a"/>
<circle cx="107.1" cy="56.2" r="0.45" fill="rgb(232,232,232)"/>
<circle cx="45.9" cy="36.9" r="0.9" fill="#9a9a9a"/>
<circle cx="45.7" cy="36.7" r="0.46" fill="rgb(241,241,241)"/>
<circle cx="72.2" cy="32.4" r="1.2" fill="#9a9a9a"/>
<circle cx="72.0" cy="32.2" r="0.62" fill="rgb(222,222,222)"/>
<circle cx="48.5" cy="31.4" r="1.1" fill="#9a9a9a"/>
<circle cx="48.3" cy="31.2" r="0.55" fill="rgb(228,228,228)"/>
<circle cx="87.4" cy="16.9" r="1.0" fill="#9a9a9a"/>
<circle cx="87.2" cy="16.7" r="0.52" fill="rgb(234,234,234)"/>
<circle cx="75.0" cy="37.4" r="1.2" fill="#9a9a9a"/>
<circle cx="74.8" cy="37.2" r="0.59" fill="rgb(242,242,242)"/>
<circle cx="35.3" cy="32.1" r="0.9" fill="#9a9a9a"/>
<circle cx="35.1" cy="31.9" r="0.47" fill="rgb(245,245,245)"/>
<circle cx="80.2" cy="40.8" r="1.0" fill="#9a9a9a"/>
<circle cx="80.0" cy="40.6" r="0.48" fill="rgb(249,249,249)"/>
<circle cx="38.8" cy="63.8" r="1.2" fill="#9a9a9a"/>
<circle cx="38.6" cy="63.6" r="0.61" fill="rgb(227,227,227)"/>
<circle cx="92.3" cy="63.1" r="1.0" fill="#9a9a9a"/>
<circle cx="92.1" cy="62.9" r="0.51" fill="rgb(245,245,245)"/>
<circle cx="41.8" cy="28.9" r="0.9" fill="#9a9a9a"/>
<circle cx="41.6" cy="28.7" r="0.46" fill="rgb(241,241,241)"/>
<circle cx="36.9" cy="53.8" r="1.0" fill="#9a9a9a"/>
<circle cx="36.7" cy="53.6" r="0.49" fill="rgb(240,240,240)"/>
<circle cx="54.0" cy="22.3" r="0.9" fill="#9a9a9a"/>
<circle cx="53.8" cy="22.1" r="0.46" fill="rgb(217,217,217)"/>
<circle cx="65.2" cy="60.2" r="1.1" fill="#9a9a9a"/>
<circle cx="65.0" cy="60.0" r="0.53" fill="rgb(218,218,218)"/>
<circle cx="94.6" cy="28.5" r="1.0" fill="#9a9a9a"/>
<circle cx="94.4" cy="28.3" r="0.49" fill="rgb(219,219,219)"/>
<circle cx="45.1" cy="60.6" r="1.2" fill="#9a9a9a"/>
<circle cx="44.9" cy="60.4" r="0.61" fill="rgb(236,236,236)"/>
<circle cx="76.2" cy="50.0" r="1.0" fill="#9a9a9a"/>
<circle cx="76.0" cy="49.8" r="0.51" fill="rgb(236,236,236)"/>
<circle cx="40.6" cy="18.8" r="1.2" fill="#9a9a9a"/>
<circle cx="40.4" cy="18.6" r="0.62" fill="rgb(217,217,217)"/>
<circle cx="84.9" cy="36.6" r="1.0" fill="#9a9a9a"/>
<circle cx="84.7" cy="36.4" r="0.50" fill="rgb(235,235,235)"/>
<circle cx="39.4" cy="61.5" r="1.2" fill="#9a9a9a"/>
<circle cx="39.2" cy="61.3" r="0.61" fill="rgb(234,234,234)"/>
<circle cx="80.9" cy="54.9" r="0.9" fill="#9a9a9a"/>
<circle cx="80.7" cy="54.7" r="0.45" fill="rgb(219,219,219)"/>
<circle cx="40.2" cy="57.5" r="0.9" fill="#9a9a9a"/>
<circle cx="40.0" cy="57.3" r="0.45" fill="rgb(229,229,229)"/>
<circle cx="38.9" cy="57.8" r="0.9" fill="#9a9a9a"/>
<circle cx="38.7" cy="57.6" r="0.47" fill="rgb(244,244,244)"/>
<circle cx="67.6" cy="32.4" r="1.2" fill="#9a9a9a"/>
<circle cx="67.4" cy="32.2" r="0.62" fill="rgb(239,239,239)"/>
<circle cx="74.9" cy="60.9" r="1.2" fill="#9a9a9a"/>
<circle cx="74.7" cy="60.7" r="0.59" fill="rgb(242,242,242)"/>
<circle cx="53.8" cy="22.3" r="1.2" fill="#9a9a9a"/>
<circle cx="53.6" cy="22.1" r="0.59" fill="rgb(223,223,223)"/>
<circle cx="73.0" cy="27.6" r="1.2" fill="#9a9a9a"/>
<circle cx="72.8" cy="27.4" r="0.61" fill="rgb(226,226,226)"/>
<circle cx="42.1" cy="23.8" r="0.9" fill="#9a9a9a"/>
<circle cx="41.9" cy="23.6" r="0.45" fill="rgb(234,234,234)"/>
<circle cx="37.7" cy="25.8" r="1.2" fill="#9a9a9a"/>
<circle cx="37.5" cy="25.6" r="0.59" fill="rgb(224,224,224)"/>
<circle cx="57.1" cy="30.8" r="1.1" fill="#9a9a9a"/>
<circle cx="56.9" cy="30.6" r="0.56" fill="rgb(235,235,235)"/>
<circle cx="90.2" cy="30.1" r="1.2" fill="#9a9a9a"/>
<circle cx="90.0" cy="29.9" r="0.60" fill="rgb(244,244,244)"/>
<circle cx="71.0" cy="24.6" r="1.0" fill="#9a9a9a"/>
<circle cx="70.8" cy="24.4" r="0.51" fill="rgb(220,220,220)"/>
<circle cx="59.7" cy="16.9" r="1.1" fill="#9a9a9a"/>
<circle cx="59.5" cy="16.7" r="0.54" fill="rgb(240,240,240)"/>
<circle cx="52.5" cy="16.7" r="1.2" fill="#9a9a9a"/>
<circle cx="52.3" cy="16.5" r="0.58" fill="rgb(230,230,230)"/>
<circle cx="88.2" cy="42.7" r="1.0" fill="#9a9a9a"/>
<circle cx="88.0" cy="42.5" r="0.52" fill="rgb(217,217,217)"/>
<circle cx="48.0" cy="39.0" r="1.1" fill="#9a9a9a"/>
<circle cx="47.8" cy="38.8" r="0.53" fill="rgb(249,249,249)"/>
<circle cx="103.2" cy="21.2" r="1.0" fill="#9a9a9a"/>
<circle cx="103.0" cy="21.0" r="0.51" fill="rgb(242,242,242)"/>
<circle cx="94.6" cy="37.0" r="1.2" fill="#9a9a9a"/>
<circle cx="94.4" cy="36.8" r="0.60" fill="rgb(219,219,219)"/>
<circle cx="70.6" cy="56.5" r="1.0" fill="#9a9a9a"/>
<circle cx="70.4" cy="56.3" r="0.50" fill="rgb(220,220,220)"/>
<circle cx="63.1" cy="40.6" r="1.0" fill="#9a9a9a"/>
<circle cx="62.9" cy="40.4" r="0.49" fill="rgb(241,241,241)"/>
<circle cx="84.9" cy="63.6" r="1.1" fill="#9a9a9a"/>
<circle cx="84.7" cy="63.4" r="0.54" fill="rgb(243,243,243)"/>
<circle cx="59.4" cy="56.4" r="1.0" fill="#9a9a9a"/>
<circle cx="59.2" cy="56.2" r="0.48" fill="rgb(223,223,223)"/>
<circle cx="86.3" cy="46.8" r="1.0" fill="#9a9a9a"/>
<circle cx="86.1" cy="46.6" r="0.52" fill="rgb(230,230,230)"/>
<circle cx="63.9" cy="32.9" r="1.2" fill="#9a9a9a"/>
<circle cx="63.7" cy="32.7" r="0.58" fill="rgb(222,222,222)"/>
<circle cx="38.0" cy="22.3" r="1.2" fill="#9a9a9a"/>
<circle cx="37.8" cy="22.1" r="0.59" fill="rgb(233,233,233)"/>
<circle cx="39.2" cy="51.9" r="1.0" fill="#9a9a9a"/>
<circle cx="39.0" cy="51.7" r="0.50" fill="rgb(232,232,232)"/>
<circle cx="52.9" cy="23.9" r="1.0" fill="#9a9a9a"/>
<circle cx="52.7" cy="23.7" r="0.52" fill="rgb(231,231,231)"/>
<circle cx="40.3" cy="56.8" r="1.0" fill="#9a9a9a"/>
<circle cx="40.1" cy="56.6" r="0.48" fill="rgb(230,230,230)"/>
<circle cx="98.4" cy="48.5" r="1.0" fill="#9a9a9a"/>
<circle cx="98.2" cy="48.3" r="0.48" fill="rgb(230,230,230)"/>
<circle cx="54.9" cy="27.7" r="1.0" fill="#9a9a9a"/>
<circle cx="54.7" cy="27.5" r="0.48" fill="rgb(227,227,227)"/>
<circle cx="55.7" cy="38.3" r="1.0" fill="#9a9a9a"/>
<circle cx="55.5" cy="38.1" r="0.51" fill="rgb(240,240,240)"/>
<circle cx="45.7" cy="37.6" r="1.0" fill="#9a9a9a"/>
<circle cx="45.5" cy="37.4" r="0.49" fill="rgb(230,230,230)"/>
<circle cx="53.5" cy="62.6" r="1.1" fill="#9a9a9a"/>
<circle cx="53.3" cy="62.4" r="0.54" fill="rgb(229,229,229)"/>
<circle cx="106.0" cy="42.5" r="1.1" fill="#9a9a9a"/>
<circle cx="105.8" cy="42.3" r="0.56" fill="rgb(221,221,221)"/>
<circle cx="52.1" cy="62.8" r="1.1" fill="#9a9a9a"/>
<circle cx="51.9" cy="62.6" r="0.56" fill="rgb(217,217,217)"/>
<circle cx="56.9" cy="33.3" r="0.9" fill="#9a9a9a"/>
<circle cx="56.7" cy="33.1" r="0.47" fill="rgb(245,245,245)"/>
<circle cx="34.1" cy="34.5" r="1.2" fill="#9a9a9a"/>
<circle cx="33.9" cy="34.3" r="0.60" fill="rgb(229,229,229)"/>
<circle cx="69.1" cy="40.4" r="1.2" fill="#9a9a9a"/>
<circle cx="68.9" cy="40.2" r="0.60" fill="rgb(238,238,238)"/>
<circle cx="48.9" cy="40.5" r="0.9" fill="#9a9a9a"/>
<circle cx="48.7" cy="40.3" r="0.46" fill="rgb(233,233,233)"/>
<circle cx="34.4" cy="28.8" r="1.0" fill="#9a9a9a"/>
<circle cx="34.2" cy="28.6" r="0.49" fill="rgb(218,218,218)"/>
<circle cx="40.6" cy="35.4" r="1.0" fill="#9a9a9a"/>
<circle cx="40.4" cy="35.2" r="0.48" fill="rgb(227,227,227)"/>
<circle cx="37.1" cy="17.1" r="1.2" fill="#9a9a9a"/>
<circle cx="36.9" cy="16.9" r="0.61" fill="rgb(238,238,238)"/>
<circle cx="56.5" cy="27.3" r="1.1" fill="#9a9a9a"/>
<circle cx="56.3" cy="27.1" r="0.54" fill="rgb(226,226,226)"/>
<circle cx="77.3" cy="41.7" r="1.1" fill="#9a9a9a"/>
<circle cx="77.1" cy="41.5" r="0.53" fill="rgb(231,231,231)"/>
<circle cx="89.5" cy="47.9" r="1.2" fill="#9a9a9a"/>
<circle cx="89.3" cy="47.7" r="0.59" fill="rgb(215,215,215)"/>
<circle cx="87.0" cy="58.6" r="0.9" fill="#9a9a9a"/>
<circle cx="86.8" cy="58.4" r="0.47" fill="rgb(237,237,237)"/>
<circle cx="62.8" cy="31.8" r="1.0" fill="#9a9a9a"/>
<circle cx="62.6" cy="31.6" r="0.49" fill="rgb(238,238,238)"/>
<circle cx="106.9" cy="23.2" r="1.0" fill="#9a9a9a"/>
<circle cx="106.7" cy="23.0" r="0.51" fill="rgb(217,217,217)"/>
<circle cx="87.6" cy="47.2" r="1.0" fill="#9a9a9a"/>
<circle cx="87.4" cy="47.0" r="0.49" fill="rgb(231,231,231)"/>
<circle cx="37.2" cy="56.5" r="0.9" fill="#9a9a9a"/>
<circle cx="37.0" cy="56.3" r="0.46" fill="rgb(228,228,228)"/>
<circle cx="100.0" cy="46.4" r="1.2" fill="#9a9a9a"/>
<circle cx="99.8" cy="46.2" r="0.59" fill="rgb(235,235,235)"/>
<circle cx="88.3" cy="55.4" r="1.0" fill="#9a9a9a"/>
<circle cx="88.1" cy="55.2" r="0.52" fill="rgb(238,238,238)"/>
<circle cx="44.3" cy="41.4" r="1.0" fill="#9a9a9a"/>
<circle cx="44.1" cy="41.2" r="0.48" fill="rgb(234,234,234)"/>
<circle cx="71.3" cy="56.5" r="0.9" fill="#9a9a9a"/>
<circle cx="71.1" cy="56.3" r="0.46" fill="rgb(217,217,217)"/>
<circle cx="93.5" cy="56.1" r="1.2" fill="#9a9a9a"/>
<circle cx="93.3" cy="55.9" r="0.59" fill="rgb(250,250,250)"/>
<rect x="113" y="15" width="75.0" height="50.5" fill="#7b7b7b"/>
<circle cx="149.3" cy="35.8" r="1.2" fill="#9a9a9a"/>
<circle cx="149.1" cy="35.6" r="0.58" fill="rgb(220,220,220)"/>
<circle cx="172.1" cy="48.2" r="1.2" fill="#9a9a9a"/>
<circle cx="171.9" cy="48.0" r="0.59" fill="rgb(233,233,233)"/>
<circle cx="125.3" cy="41.9" r="1.1" fill="#9a9a9a"/>
<circle cx="125.1" cy="41.7" r="0.53" fill="rgb(223,223,223)"/>
<circle cx="161.7" cy="35.3" r="0.9" fill="#9a9a9a"/>
<circle cx="161.5" cy="35.1" r="0.47" fill="rgb(228,228,228)"/>
<circle cx="133.8" cy="63.9" r="1.0" fill="#9a9a9a"/>
<circle cx="133.6" cy="63.7" r="0.50" fill="rgb(236,236,236)"/>
<circle cx="162.8" cy="36.3" r="1.0" fill="#9a9a9a"/>
<circle cx="162.6" cy="36.1" r="0.52" fill="rgb(216,216,216)"/>
<circle cx="117.7" cy="52.1" r="1.0" fill="#9a9a9a"/>
<circle cx="117.5" cy="51.9" r="0.51" fill="rgb(233,233,233)"/>
<circle cx="178.5" cy="36.1" r="0.9" fill="#9a9a9a"/>
<circle cx="178.3" cy="35.9" r="0.46" fill="rgb(238,238,238)"/>
<circle cx="115.3" cy="53.2" r="1.2" fill="#9a9a9a"/>
<circle cx="115.1" cy="53.0" r="0.61" fill="rgb(247,247,247)"/>
<circle cx="172.6" cy="47.3" r="1.1" fill="#9a9a9a"/>
<circle cx="172.4" cy="47.1" r="0.53" fill="rgb(233,233,233)"/>
<circle cx="142.5" cy="35.6" r="1.1" fill="#9a9a9a"/>
<circle cx="142.3" cy="35.4" r="0.56" fill="rgb(216,216,216)"/>
<circle cx="182.8" cy="37.1" r="1.2" fill="#9a9a9a"/>
<circle cx="182.6" cy="36.9" r="0.59" fill="rgb(216,216,216)"/>
<circle cx="125.4" cy="21.5" r="1.1" fill="#9a9a9a"/>
<circle cx="125.2" cy="21.3" r="0.53" fill="rgb(221,221,221)"/>
<circle cx="120.6" cy="44.0" r="1.0" fill="#9a9a9a"/>
<circle cx="120.4" cy="43.8" r="0.51" fill="rgb(218,218,218)"/>
<circle cx="140.6" cy="53.5" r="1.1" fill="#9a9a9a"/>
<circle cx="140.4" cy="53.3" r="0.54" fill="rgb(228,228,228)"/>
<circle cx="123.5" cy="18.5" r="1.2" fill="#9a9a9a"/>
<circle cx="123.3" cy="18.3" r="0.58" fill="rgb(220,220,220)"/>
<circle cx="124.4" cy="55.1" r="1.1" fill="#9a9a9a"/>
<circle cx="124.2" cy="54.9" r="0.55" fill="rgb(233,233,233)"/>
<circle cx="143.0" cy="43.8" r="1.0" fill="#9a9a9a"/>
<circle cx="142.8" cy="43.6" r="0.48" fill="rgb(215,215,215)"/>
<circle cx="181.7" cy="51.8" r="1.1" fill="#9a9a9a"/>
<circle cx="181.5" cy="51.6" r="0.54" fill="rgb(233,233,233)"/>
<circle cx="126.5" cy="32.9" r="1.2" fill="#9a9a9a"/>
<circle cx="126.3" cy="32.7" r="0.58" fill="rgb(218,218,218)"/>
<circle cx="125.8" cy="24.3" r="0.9" fill="#9a9a9a"/>
<circle cx="125.6" cy="24.1" r="0.45" fill="rgb(246,246,246)"/>
<circle cx="118.9" cy="34.6" r="0.9" fill="#9a9a9a"/>
<circle cx="118.7" cy="34.4" r="0.47" fill="rgb(226,226,226)"/>
<circle cx="169.0" cy="54.4" r="1.2" fill="#9a9a9a"/>
<circle cx="168.8" cy="54.2" r="0.62" fill="rgb(237,237,237)"/>
<circle cx="172.7" cy="30.6" r="1.2" fill="#9a9a9a"/>
<circle cx="172.5" cy="30.4" r="0.62" fill="rgb(247,247,247)"/>
<circle cx="175.1" cy="18.1" r="1.0" fill="#9a9a9a"/>
<circle cx="174.9" cy="17.9" r="0.50" fill="rgb(225,225,225)"/>
<circle cx="180.6" cy="31.3" r="1.0" fill="#9a9a9a"/>
<circle cx="180.4" cy="31.1" r="0.50" fill="rgb(228,228,228)"/>
<circle cx="158.4" cy="46.9" r="1.2" fill="#9a9a9a"/>
<circle cx="158.2" cy="46.7" r="0.61" fill="rgb(229,229,229)"/>
<circle cx="120.3" cy="50.5" r="1.1" fill="#9a9a9a"/>
<circle cx="120.1" cy="50.3" r="0.54" fill="rgb(222,222,222)"/>
<circle cx="164.2" cy="59.2" r="1.2" fill="#9a9a9a"/>
<circle cx="164.0" cy="59.0" r="0.61" fill="rgb(220,220,220)"/>
<circle cx="160.7" cy="57.5" r="1.1" fill="#9a9a9a"/>
<circle cx="160.5" cy="57.3" r="0.54" fill="rgb(250,250,250)"/>
<circle cx="159.3" cy="45.8" r="1.2" fill="#9a9a9a"/>
<circle cx="159.1" cy="45.6" r="0.59" fill="rgb(235,235,235)"/>
<circle cx="128.3" cy="38.9" r="1.0" fill="#9a9a9a"/>
<circle cx="128.1" cy="38.7" r="0.51" fill="rgb(240,240,240)"/>
<circle cx="155.3" cy="18.0" r="1.2" fill="#9a9a9a"/>
<circle cx="155.1" cy="17.8" r="0.61" fill="rgb(220,220,220)"/>
<circle cx="182.5" cy="23.6" r="1.0" fill="#9a9a9a"/>
<circle cx="182.3" cy="23.4" r="0.52" fill="rgb(216,216,216)"/>
<circle cx="140.2" cy="23.2" r="1.0" fill="#9a9a9a"/>
<circle cx="140.0" cy="23.0" r="0.52" fill="rgb(234,234,234)"/>
<circle cx="184.9" cy="55.6" r="1.0" fill="#9a9a9a"/>
<circle cx="184.7" cy="55.4" r="0.50" fill="rgb(249,249,249)"/>
<circle cx="128.1" cy="58.9" r="1.1" fill="#9a9a9a"/>
<circle cx="127.9" cy="58.7" r="0.54" fill="rgb(239,239,239)"/>
<circle cx="175.5" cy="48.6" r="1.2" fill="#9a9a9a"/>
<circle cx="175.3" cy="48.4" r="0.62" fill="rgb(229,229,229)"/>
<circle cx="162.8" cy="31.7" r="1.2" fill="#9a9a9a"/>
<circle cx="162.6" cy="31.5" r="0.62" fill="rgb(223,223,223)"/>
<circle cx="142.5" cy="38.1" r="1.1" fill="#9a9a9a"/>
<circle cx="142.3" cy="37.9" r="0.54" fill="rgb(217,217,217)"/>
<circle cx="176.0" cy="53.7" r="1.0" fill="#9a9a9a"/>
<circle cx="175.8" cy="53.5" r="0.51" fill="rgb(235,235,235)"/>
<circle cx="161.4" cy="30.9" r="1.1" fill="#9a9a9a"/>
<circle cx="161.2" cy="30.7" r="0.54" fill="rgb(243,243,243)"/>
<circle cx="132.2" cy="34.9" r="1.1" fill="#9a9a9a"/>
<circle cx="132.0" cy="34.7" r="0.57" fill="rgb(235,235,235)"/>
<circle cx="140.8" cy="40.4" r="1.0" fill="#9a9a9a"/>
<circle cx="140.6" cy="40.2" r="0.48" fill="rgb(243,243,243)"/>
<circle cx="127.0" cy="16.2" r="1.1" fill="#9a9a9a"/>
<circle cx="126.8" cy="16.0" r="0.57" fill="rgb(231,231,231)"/>
<circle cx="186.0" cy="38.6" r="1.1" fill="#9a9a9a"/>
<circle cx="185.8" cy="38.4" r="0.55" fill="rgb(223,223,223)"/>
<circle cx="146.6" cy="46.0" r="1.0" fill="#9a9a9a"/>
<circle cx="146.4" cy="45.8" r="0.51" fill="rgb(230,230,230)"/>
<circle cx="173.8" cy="56.6" r="1.1" fill="#9a9a9a"/>
<circle cx="173.6" cy="56.4" r="0.54" fill="rgb(232,232,232)"/>
<circle cx="173.2" cy="35.4" r="1.0" fill="#9a9a9a"/>
<circle cx="173.0" cy="35.2" r="0.50" fill="rgb(224,224,224)"/>
<circle cx="118.9" cy="33.4" r="1.2" fill="#9a9a9a"/>
<circle cx="118.7" cy="33.2" r="0.58" fill="rgb(230,230,230)"/>
<circle cx="140.7" cy="54.9" r="1.2" fill="#9a9a9a"/>
<circle cx="140.5" cy="54.7" r="0.58" fill="rgb(248,248,248)"/>
<circle cx="150.8" cy="47.9" r="1.0" fill="#9a9a9a"/>
<circle cx="150.6" cy="47.7" r="0.51" fill="rgb(230,230,230)"/>
<circle cx="117.0" cy="22.3" r="1.0" fill="#9a9a9a"/>
<circle cx="116.8" cy="22.1" r="0.51" fill="rgb(227,227,227)"/>
<circle cx="181.3" cy="31.2" r="1.0" fill="#9a9a9a"/>
<circle cx="181.1" cy="31.0" r="0.50" fill="rgb(221,221,221)"/>
<circle cx="166.6" cy="19.9" r="1.0" fill="#9a9a9a"/>
<circle cx="166.4" cy="19.7" r="0.48" fill="rgb(221,221,221)"/>
<circle cx="168.9" cy="59.4" r="1.0" fill="#9a9a9a"/>
<circle cx="168.7" cy="59.2" r="0.48" fill="rgb(224,224,224)"/>
<circle cx="161.7" cy="54.0" r="1.2" fill="#9a9a9a"/>
<circle cx="161.5" cy="53.8" r="0.62" fill="rgb(234,234,234)"/>
<circle cx="115.9" cy="19.2" r="1.2" fill="#9a9a9a"/>
<circle cx="115.7" cy="19.0" r="0.58" fill="rgb(242,242,242)"/>
<circle cx="158.8" cy="49.6" r="1.0" fill="#9a9a9a"/>
<circle cx="158.6" cy="49.4" r="0.50" fill="rgb(221,221,221)"/>
<circle cx="122.0" cy="22.4" r="1.1" fill="#9a9a9a"/>
<circle cx="121.8" cy="22.2" r="0.56" fill="rgb(221,221,221)"/>
<circle cx="178.7" cy="30.0" r="1.0" fill="#9a9a9a"/>
<circle cx="178.5" cy="29.8" r="0.50" fill="rgb(239,239,239)"/>
<circle cx="173.2" cy="54.6" r="1.1" fill="#9a9a9a"/>
<circle cx="173.0" cy="54.4" r="0.53" fill="rgb(215,215,215)"/>
<circle cx="164.1" cy="51.0" r="1.0" fill="#9a9a9a"/>
<circle cx="163.9" cy="50.8" r="0.52" fill="rgb(242,242,242)"/>
<circle cx="130.1" cy="56.4" r="1.1" fill="#9a9a9a"/>
<circle cx="129.9" cy="56.2" r="0.57" fill="rgb(247,247,247)"/>
<circle cx="158.6" cy="28.2" r="1.2" fill="#9a9a9a"/>
<circle cx="158.4" cy="28.0" r="0.62" fill="rgb(233,233,233)"/>
<circle cx="137.6" cy="45.8" r="1.1" fill="#9a9a9a"/>
<circle cx="137.4" cy="45.6" r="0.53" fill="rgb(224,224,224)"/>
<circle cx="180.1" cy="38.1" r="1.0" fill="#9a9a9a"/>
<circle cx="179.9" cy="37.9" r="0.50" fill="rgb(240,240,240)"/>
<circle cx="132.6" cy="62.8" r="0.9" fill="#9a9a9a"/>
<circle cx="132.4" cy="62.6" r="0.45" fill="rgb(230,230,230)"/>
<circle cx="149.0" cy="44.7" r="1.2" fill="#9a9a9a"/>
<circle cx="148.8" cy="44.5" r="0.61" fill="rgb(242,242,242)"/>
<circle cx="159.0" cy="27.5" r="1.1" fill="#9a9a9a"/>
<circle cx="158.8" cy="27.3" r="0.57" fill="rgb(241,241,241)"/>
<circle cx="141.2" cy="25.6" r="1.2" fill="#9a9a9a"/>
<circle cx="141.0" cy="25.4" r="0.60" fill="rgb(229,229,229)"/>
<circle cx="143.5" cy="46.9" r="1.1" fill="#9a9a9a"/>
<circle cx="143.3" cy="46.7" r="0.57" fill="rgb(222,222,222)"/>
<circle cx="134.3" cy="31.9" r="1.1" fill="#9a9a9a"/>
<circle cx="134.1" cy="31.7" r="0.53" fill="rgb(235,235,235)"/>
<circle cx="141.5" cy="54.4" r="1.0" fill="#9a9a9a"/>
<circle cx="141.3" cy="54.2" r="0.50" fill="rgb(221,221,221)"/>
<circle cx="133.3" cy="53.3" r="1.2" fill="#9a9a9a"/>
<circle cx="133.1" cy="53.1" r="0.61" fill="rgb(230,230,230)"/>
<circle cx="117.5" cy="57.6" r="1.2" fill="#9a9a9a"/>
<circle cx="117.3" cy="57.4" r="0.59" fill="rgb(225,225,225)"/>
<circle cx="184.5" cy="38.0" r="1.0" fill="#9a9a9a"/>
<circle cx="184.3" cy="37.8" r="0.49" fill="rgb(242,242,242)"/>
<circle cx="152.1" cy="49.4" r="1.1" fill="#9a9a9a"/>
<circle cx="151.9" cy="49.2" r="0.53" fill="rgb(216,216,216)"/>
<circle cx="179.4" cy="28.2" r="1.1" fill="#9a9a9a"/>
<circle cx="179.2" cy="28.0" r="0.56" fill="rgb(241,241,241)"/>
<circle cx="153.1" cy="57.5" r="1.1" fill="#9a9a9a"/>
<circle cx="152.9" cy="57.3" r="0.54" fill="rgb(226,226,226)"/>
<circle cx="167.9" cy="34.0" r="1.2" fill="#9a9a9a"/>
<circle cx="167.7" cy="33.8" r="0.61" fill="rgb(235,235,235)"/>
<circle cx="141.4" cy="33.9" r="1.2" fill="#9a9a9a"/>
<circle cx="141.2" cy="33.7" r="0.59" fill="rgb(239,239,239)"/>
<circle cx="124.7" cy="32.0" r="1.2" fill="#9a9a9a"/>
<circle cx="124.5" cy="31.8" r="0.60" fill="rgb(221,221,221)"/>
<circle cx="119.9" cy="27.2" r="0.9" fill="#9a9a9a"/>
<circle cx="119.7" cy="27.0" r="0.46" fill="rgb(249,249,249)"/>
<circle cx="158.9" cy="62.5" r="1.0" fill="#9a9a9a"/>
<circle cx="158.7" cy="62.3" r="0.49" fill="rgb(227,227,227)"/>
<circle cx="135.6" cy="41.0" r="1.1" fill="#9a9a9a"/>
<circle cx="135.4" cy="40.8" r="0.54" fill="rgb(221,221,221)"/>
<circle cx="136.6" cy="62.8" r="1.2" fill="#9a9a9a"/>
<circle cx="136.4" cy="62.6" r="0.60" fill="rgb(244,244,244)"/>
<circle cx="177.5" cy="61.0" r="1.1" fill="#9a9a9a"/>
<circle cx="177.3" cy="60.8" r="0.54" fill="rgb(245,245,245)"/>
<circle cx="179.4" cy="51.6" r="1.1" fill="#9a9a9a"/>
<circle cx="179.2" cy="51.4" r="0.54" fill="rgb(238,238,238)"/>
<circle cx="168.5" cy="26.7" r="1.1" fill="#9a9a9a"/>
<circle cx="168.3" cy="26.5" r="0.54" fill="rgb(241,241,241)"/>
<circle cx="146.1" cy="35.4" r="1.2" fill="#9a9a9a"/>
<circle cx="145.9" cy="35.2" r="0.58" fill="rgb(244,244,244)"/>
<circle cx="144.6" cy="33.3" r="1.0" fill="#9a9a9a"/>
<circle cx="144.4" cy="33.1" r="0.49" fill="rgb(226,226,226)"/>
<circle cx="150.0" cy="32.9" r="1.0" fill="#9a9a9a"/>
<circle cx="149.8" cy="32.7" r="0.52" fill="rgb(222,222,222)"/>
<circle cx="146.3" cy="31.4" r="1.2" fill="#9a9a9a"/>
<circle cx="146.1" cy="31.2" r="0.58" fill="rgb(237,237,237)"/>
<circle cx="150.2" cy="33.1" r="1.1" fill="#9a9a9a"/>
<circle cx="150.0" cy="32.9" r="0.56" fill="rgb(231,231,231)"/>
<circle cx="145.9" cy="35.1" r="1.0" fill="#9a9a9a"/>
<circle cx="145.7" cy="34.9" r="0.50" fill="rgb(240,240,240)"/>
<circle cx="144.2" cy="31.4" r="0.9" fill="#9a9a9a"/>
<circle cx="144.0" cy="31.2" r="0.46" fill="rgb(219,219,219)"/>
<circle cx="146.5" cy="33.6" r="1.0" fill="#9a9a9a"/>
<circle cx="146.3" cy="33.4" r="0.52" fill="rgb(241,241,241)"/>
<circle cx="144.3" cy="35.1" r="1.1" fill="#9a9a9a"/>
<circle cx="144.1" cy="34.9" r="0.56" fill="rgb(237,237,237)"/>
<circle cx="147.3" cy="32.4" r="1.1" fill="#9a9a9a"/>
<circle cx="147.1" cy="32.2" r="0.55" fill="rgb(221,221,221)"/>
<circle cx="148.2" cy="28.4" r="1.0" fill="#9a9a9a"/>
<circle cx="148.0" cy="28.2" r="0.49" fill="rgb(240,240,240)"/>
<circle cx="145.9" cy="32.3" r="1.2" fill="#9a9a9a"/>
<circle cx="145.7" cy="32.1" r="0.61" fill="rgb(248,248,248)"/>
<circle cx="149.3" cy="34.9" r="1.2" fill="#9a9a9a"/>
<circle cx="149.1" cy="34.7" r="0.62" fill="rgb(240,240,240)"/>
<circle cx="146.5" cy="36.0" r="1.1" fill="#9a9a9a"/>
<circle cx="146.3" cy="35.8" r="0.53" fill="rgb(225,225,225)"/>
<circle cx="148.0" cy="31.8" r="0.9" fill="#9a9a9a"/>
<circle cx="147.8" cy="31.6" r="0.47" fill="rgb(219,219,219)"/>
<circle cx="148.8" cy="28.2" r="1.2" fill="#9a9a9a"/>
<circle cx="148.6" cy="28.0" r="0.59" fill="rgb(227,227,227)"/>
<circle cx="144.2" cy="30.1" r="1.1" fill="#9a9a9a"/>
<circle cx="144.0" cy="29.9" r="0.53" fill="rgb(250,250,250)"/>
<circle cx="144.4" cy="30.1" r="1.2" fill="#9a9a9a"/>
<circle cx="144.2" cy="29.9" r="0.58" fill="rgb(224,224,224)"/>
<circle cx="145.2" cy="32.1" r="1.0" fill="#9a9a9a"/>
<circle cx="145.0" cy="31.9" r="0.51" fill="rgb(241,241,241)"/>
<circle cx="148.1" cy="32.0" r="1.1" fill="#9a9a9a"/>
<circle cx="147.9" cy="31.8" r="0.53" fill="rgb(233,233,233)"/>
<circle cx="148.9" cy="32.3" r="1.2" fill="#9a9a9a"/>
<circle cx="148.7" cy="32.1" r="0.58" fill="rgb(223,223,223)"/>
<circle cx="149.3" cy="35.6" r="1.2" fill="#9a9a9a"/>
<circle cx="149.1" cy="35.4" r="0.59" fill="rgb(245,245,245)"/>
<circle cx="137.1" cy="50.9" r="1.0" fill="#9a9a9a"/>
<circle cx="136.9" cy="50.7" r="0.51" fill="rgb(229,229,229)"/>
<circle cx="133.6" cy="47.5" r="1.0" fill="#9a9a9a"/>
<circle cx="133.4" cy="47.3" r="0.50" fill="rgb(239,239,239)"/>
<circle cx="132.1" cy="50.5" r="1.1" fill="#9a9a9a"/>
<circle cx="131.9" cy="50.3" r="0.57" fill="rgb(242,242,242)"/>
<circle cx="132.6" cy="46.5" r="1.1" fill="#9a9a9a"/>
<circle cx="132.4" cy="46.3" r="0.57" fill="rgb(245,245,245)"/>
<circle cx="131.9" cy="50.6" r="0.9" fill="#9a9a9a"/>
<circle cx="131.7" cy="50.4" r="0.45" fill="rgb(232,232,232)"/>
<circle cx="133.6" cy="48.9" r="1.0" fill="#9a9a9a"/>
<circle cx="133.4" cy="48.7" r="0.51" fill="rgb(234,234,234)"/>
<circle cx="131.8" cy="46.2" r="1.0" fill="#9a9a9a"/>
<circle cx="131.6" cy="46.0" r="0.51" fill="rgb(246,246,246)"/>
<circle cx="134.2" cy="46.3" r="1.0" fill="#9a9a9a"/>
<circle cx="134.0" cy="46.1" r="0.52" fill="rgb(220,220,220)"/>
<circle cx="132.2" cy="48.4" r="1.1" fill="#9a9a9a"/>
<circle cx="132.0" cy="48.2" r="0.57" fill="rgb(238,238,238)"/>
<circle cx="131.1" cy="50.5" r="1.0" fill="#9a9a9a"/>
<circle cx="130.9" cy="50.3" r="0.48" fill="rgb(234,234,234)"/>
<circle cx="137.4" cy="50.6" r="1.2" fill="#9a9a9a"/>
<circle cx="137.2" cy="50.4" r="0.60" fill="rgb(218,218,218)"/>
<circle cx="136.4" cy="52.6" r="0.9" fill="#9a9a9a"/>
<circle cx="136.2" cy="52.4" r="0.46" fill="rgb(235,235,235)"/>
<circle cx="134.4" cy="52.2" r="1.2" fill="#9a9a9a"/>
<circle cx="134.2" cy="52.0" r="0.59" fill="rgb(223,223,223)"/>
<circle cx="137.3" cy="51.6" r="1.1" fill="#9a9a9a"/>
<circle cx="137.1" cy="51.4" r="0.54" fill="rgb(237,237,237)"/>
<circle cx="138.1" cy="47.2" r="1.1" fill="#9a9a9a"/>
<circle cx="137.9" cy="47.0" r="0.56" fill="rgb(215,215,215)"/>
<circle cx="134.5" cy="49.9" r="1.1" fill="#9a9a9a"/>
<circle cx="134.3" cy="49.7" r="0.57" fill="rgb(228,228,228)"/>
<circle cx="132.4" cy="46.5" r="1.2" fill="#9a9a9a"/>
<circle cx="132.2" cy="46.3" r="0.62" fill="rgb(233,233,233)"/>
<circle cx="133.1" cy="45.5" r="1.0" fill="#9a9a9a"/>
<circle cx="132.9" cy="45.3" r="0.49" fill="rgb(221,221,221)"/>
<circle cx="169.4" cy="50.1" r="1.1" fill="#9a9a9a"/>
<circle cx="169.2" cy="49.9" r="0.55" fill="rgb(229,229,229)"/>
<circle cx="170.8" cy="48.7" r="1.0" fill="#9a9a9a"/>
<circle cx="170.6" cy="48.5" r="0.48" fill="rgb(243,243,243)"/>
<circle cx="169.8" cy="52.1" r="1.0" fill="#9a9a9a"/>
<circle cx="169.6" cy="51.9" r="0.51" fill="rgb(224,224,224)"/>
<circle cx="169.1" cy="54.2" r="1.0" fill="#9a9a9a"/>
<circle cx="168.9" cy="54.0" r="0.49" fill="rgb(240,240,240)"/>
<circle cx="168.1" cy="48.8" r="1.2" fill="#9a9a9a"/>
<circle cx="167.9" cy="48.6" r="0.59" fill="rgb(225,225,225)"/>
<circle cx="169.3" cy="54.1" r="1.1" fill="#9a9a9a"/>
<circle cx="169.1" cy="53.9" r="0.56" fill="rgb(220,220,220)"/>
<circle cx="168.0" cy="53.1" r="1.1" fill="#9a9a9a"/>
<circle cx="167.8" cy="52.9" r="0.57" fill="rgb(250,250,250)"/>
<circle cx="164.8" cy="48.9" r="1.2" fill="#9a9a9a"/>
<circle cx="164.6" cy="48.7" r="0.59" fill="rgb(234,234,234)"/>
<circle cx="169.6" cy="47.0" r="1.0" fill="#9a9a9a"/>
<circle cx="169.4" cy="46.8" r="0.48" fill="rgb(228,228,228)"/>
<circle cx="171.1" cy="50.0" r="1.1" fill="#9a9a9a"/>
<circle cx="170.9" cy="49.8" r="0.54" fill="rgb(243,243,243)"/>
<circle cx="164.0" cy="49.8" r="1.1" fill="#9a9a9a"/>
<circle cx="163.8" cy="49.6" r="0.57" fill="rgb(222,222,222)"/>
<circle cx="166.6" cy="50.4" r="1.1" fill="#9a9a9a"/>
<circle cx="166.4" cy="50.2" r="0.55" fill="rgb(231,231,231)"/>
<circle cx="171.3" cy="51.2" r="1.0" fill="#9a9a9a"/>
<circle cx="171.1" cy="51.0" r="0.52" fill="rgb(223,223,223)"/>
<circle cx="167.4" cy="54.7" r="1.1" fill="#9a9a9a"/>
<circle cx="167.2" cy="54.5" r="0.53" fill="rgb(250,250,250)"/>
<circle cx="167.7" cy="47.8" r="0.9" fill="#9a9a9a"/>
<circle cx="167.5" cy="47.6" r="0.46" fill="rgb(244,244,244)"/>
<circle cx="164.1" cy="48.8" r="1.2" fill="#9a9a9a"/>
<circle cx="163.9" cy="48.6" r="0.61" fill="rgb(246,246,246)"/>
<circle cx="167.4" cy="51.2" r="1.0" fill="#9a9a9a"/>
<circle cx="167.2" cy="51.0" r="0.49" fill="rgb(225,225,225)"/>
<circle cx="169.7" cy="52.8" r="1.1" fill="#9a9a9a"/>
<circle cx="169.5" cy="52.6" r="0.54" fill="rgb(215,215,215)"/>
<circle cx="165.8" cy="33.4" r="1.0" fill="#9a9a9a"/>
<circle cx="165.6" cy="33.2" r="0.48" fill="rgb(235,235,235)"/>
<circle cx="163.8" cy="29.9" r="1.1" fill="#9a9a9a"/>
<circle cx="163.6" cy="29.7" r="0.53" fill="rgb(246,246,246)"/>
<circle cx="165.8" cy="32.6" r="1.1" fill="#9a9a9a"/>
<circle cx="165.6" cy="32.4" r="0.57" fill="rgb(244,244,244)"/>
<circle cx="164.9" cy="30.7" r="1.0" fill="#9a9a9a"/>
<circle cx="164.7" cy="30.5" r="0.52" fill="rgb(241,241,241)"/>
<circle cx="167.1" cy="31.4" r="1.2" fill="#9a9a9a"/>
<circle cx="166.9" cy="31.2" r="0.62" fill="rgb(219,219,219)"/>
<circle cx="164.1" cy="28.9" r="1.0" fill="#9a9a9a"/>
<circle cx="163.9" cy="28.7" r="0.48" fill="rgb(238,238,238)"/>
<circle cx="166.5" cy="29.8" r="1.1" fill="#9a9a9a"/>
<circle cx="166.3" cy="29.6" r="0.56" fill="rgb(216,216,216)"/>
<circle cx="162.3" cy="27.7" r="0.9" fill="#9a9a9a"/>
<circle cx="162.1" cy="27.5" r="0.45" fill="rgb(217,217,217)"/>
<circle cx="164.1" cy="27.6" r="1.1" fill="#9a9a9a"/>
<circle cx="163.9" cy="27.4" r="0.57" fill="rgb(236,236,236)"/>
<circle cx="162.7" cy="31.7" r="1.2" fill="#9a9a9a"/>
<circle cx="162.5" cy="31.5" r="0.59" fill="rgb(221,221,221)"/>
<circle cx="164.2" cy="31.1" r="1.1" fill="#9a9a9a"/>
<circle cx="164.0" cy="30.9" r="0.54" fill="rgb(246,246,246)"/>
<circle cx="167.2" cy="29.5" r="1.2" fill="#9a9a9a"/>
<circle cx="167.0" cy="29.3" r="0.58" fill="rgb(224,224,224)"/>
<rect x="192" y="15" width="75.5" height="50.5" fill="#7b7b7b"/>
<ellipse cx="200.8" cy="33.5" rx="5.8" ry="4.8" fill="#8a8a8a"/>
<ellipse cx="216" cy="21" rx="5.2" ry="4.3" fill="#8a8a8a"/>
<ellipse cx="225" cy="53.5" rx="5.8" ry="4.8" fill="#8a8a8a"/>
<ellipse cx="239" cy="44" rx="6.3" ry="5.2" fill="#8a8a8a"/>
<ellipse cx="251.5" cy="30.5" rx="5.2" ry="4.3" fill="#8a8a8a"/>
<ellipse cx="254.6" cy="58" rx="5.2" ry="4.3" fill="#8a8a8a"/>
<ellipse cx="262" cy="46" rx="4.6" ry="3.8" fill="#8a8a8a"/>
<circle cx="195.5" cy="50.8" r="1.2" fill="#9a9a9a"/>
<circle cx="195.3" cy="50.6" r="0.62" fill="rgb(218,218,218)"/>
<circle cx="239.0" cy="32.4" r="1.1" fill="#9a9a9a"/>
<circle cx="238.8" cy="32.2" r="0.56" fill="rgb(228,228,228)"/>
<circle cx="256.3" cy="33.8" r="1.1" fill="#9a9a9a"/>
<circle cx="256.1" cy="33.6" r="0.55" fill="rgb(233,233,233)"/>
<circle cx="227.9" cy="41.5" r="0.9" fill="#9a9a9a"/>
<circle cx="227.7" cy="41.3" r="0.47" fill="rgb(227,227,227)"/>
<circle cx="249.6" cy="26.2" r="1.2" fill="#9a9a9a"/>
<circle cx="249.4" cy="26.0" r="0.62" fill="rgb(242,242,242)"/>
<circle cx="225.0" cy="36.5" r="1.2" fill="#9a9a9a"/>
<circle cx="224.8" cy="36.3" r="0.62" fill="rgb(230,230,230)"/>
<circle cx="233.7" cy="56.1" r="1.2" fill="#9a9a9a"/>
<circle cx="233.5" cy="55.9" r="0.61" fill="rgb(221,221,221)"/>
<circle cx="214.5" cy="56.1" r="1.0" fill="#9a9a9a"/>
<circle cx="214.3" cy="55.9" r="0.52" fill="rgb(241,241,241)"/>
<circle cx="222.7" cy="40.4" r="1.2" fill="#9a9a9a"/>
<circle cx="222.5" cy="40.2" r="0.61" fill="rgb(218,218,218)"/>
<circle cx="213.0" cy="40.6" r="1.2" fill="#9a9a9a"/>
<circle cx="212.8" cy="40.4" r="0.60" fill="rgb(233,233,233)"/>
<circle cx="264.7" cy="47.7" r="1.0" fill="#9a9a9a"/>
<circle cx="264.5" cy="47.5" r="0.48" fill="rgb(216,216,216)"/>
<circle cx="251.2" cy="32.0" r="1.1" fill="#9a9a9a"/>
<circle cx="251.0" cy="31.8" r="0.53" fill="rgb(247,247,247)"/>
<circle cx="216.3" cy="30.5" r="1.0" fill="#9a9a9a"/>
<circle cx="216.1" cy="30.3" r="0.51" fill="rgb(223,223,223)"/>
<circle cx="236.1" cy="46.8" r="1.1" fill="#9a9a9a"/>
<circle cx="235.9" cy="46.6" r="0.53" fill="rgb(248,248,248)"/>
<circle cx="250.6" cy="17.9" r="1.0" fill="#9a9a9a"/>
<circle cx="250.4" cy="17.7" r="0.50" fill="rgb(238,238,238)"/>
<circle cx="246.1" cy="59.0" r="1.1" fill="#9a9a9a"/>
<circle cx="245.9" cy="58.8" r="0.53" fill="rgb(241,241,241)"/>
<circle cx="233.1" cy="18.4" r="1.0" fill="#9a9a9a"/>
<circle cx="232.9" cy="18.2" r="0.49" fill="rgb(226,226,226)"/>
<circle cx="215.1" cy="16.3" r="0.9" fill="#9a9a9a"/>
<circle cx="214.9" cy="16.1" r="0.47" fill="rgb(226,226,226)"/>
<circle cx="207.0" cy="60.7" r="1.1" fill="#9a9a9a"/>
<circle cx="206.8" cy="60.5" r="0.54" fill="rgb(229,229,229)"/>
<circle cx="237.7" cy="47.9" r="1.1" fill="#9a9a9a"/>
<circle cx="237.5" cy="47.7" r="0.57" fill="rgb(227,227,227)"/>
<circle cx="251.0" cy="60.1" r="1.1" fill="#9a9a9a"/>
<circle cx="250.8" cy="59.9" r="0.56" fill="rgb(220,220,220)"/>
<circle cx="238.0" cy="45.9" r="1.2" fill="#9a9a9a"/>
<circle cx="237.8" cy="45.7" r="0.61" fill="rgb(246,246,246)"/>
<circle cx="239.1" cy="49.8" r="1.2" fill="#9a9a9a"/>
<circle cx="238.9" cy="49.6" r="0.58" fill="rgb(226,226,226)"/>
<circle cx="236.8" cy="49.0" r="1.0" fill="#9a9a9a"/>
<circle cx="236.6" cy="48.8" r="0.49" fill="rgb(227,227,227)"/>
<circle cx="208.6" cy="48.3" r="1.1" fill="#9a9a9a"/>
<circle cx="208.4" cy="48.1" r="0.55" fill="rgb(227,227,227)"/>
<circle cx="226.7" cy="53.0" r="0.9" fill="#9a9a9a"/>
<circle cx="226.5" cy="52.8" r="0.45" fill="rgb(248,248,248)"/>
<circle cx="200.5" cy="24.8" r="1.0" fill="#9a9a9a"/>
<circle cx="200.3" cy="24.6" r="0.52" fill="rgb(218,218,218)"/>
<circle cx="195.7" cy="53.6" r="1.1" fill="#9a9a9a"/>
<circle cx="195.5" cy="53.4" r="0.54" fill="rgb(237,237,237)"/>
<circle cx="260.2" cy="47.8" r="1.0" fill="#9a9a9a"/>
<circle cx="260.0" cy="47.6" r="0.51" fill="rgb(246,246,246)"/>
<circle cx="220.1" cy="55.9" r="0.9" fill="#9a9a9a"/>
<circle cx="219.9" cy="55.7" r="0.47" fill="rgb(241,241,241)"/>
<circle cx="250.8" cy="43.3" r="1.2" fill="#9a9a9a"/>
<circle cx="250.6" cy="43.1" r="0.61" fill="rgb(245,245,245)"/>
<circle cx="212.0" cy="30.6" r="0.9" fill="#9a9a9a"/>
<circle cx="211.8" cy="30.4" r="0.47" fill="rgb(232,232,232)"/>
<circle cx="224.0" cy="31.4" r="1.0" fill="#9a9a9a"/>
<circle cx="223.8" cy="31.2" r="0.49" fill="rgb(238,238,238)"/>
<circle cx="224.7" cy="47.1" r="0.9" fill="#9a9a9a"/>
<circle cx="224.5" cy="46.9" r="0.46" fill="rgb(238,238,238)"/>
<circle cx="261.6" cy="18.6" r="1.1" fill="#9a9a9a"/>
<circle cx="261.4" cy="18.4" r="0.55" fill="rgb(215,215,215)"/>
<circle cx="198.0" cy="32.2" r="1.0" fill="#9a9a9a"/>
<circle cx="197.8" cy="32.0" r="0.51" fill="rgb(243,243,243)"/>
<circle cx="204.3" cy="36.8" r="1.2" fill="#9a9a9a"/>
<circle cx="204.1" cy="36.6" r="0.62" fill="rgb(219,219,219)"/>
<circle cx="196.3" cy="31.2" r="0.9" fill="#9a9a9a"/>
<circle cx="196.1" cy="31.0" r="0.47" fill="rgb(230,230,230)"/>
<circle cx="197.9" cy="34.5" r="1.2" fill="#9a9a9a"/>
<circle cx="197.7" cy="34.3" r="0.59" fill="rgb(235,235,235)"/>
<circle cx="197.5" cy="36.3" r="1.2" fill="#9a9a9a"/>
<circle cx="197.3" cy="36.1" r="0.59" fill="rgb(239,239,239)"/>
<circle cx="205.6" cy="31.5" r="1.1" fill="#9a9a9a"/>
<circle cx="205.4" cy="31.3" r="0.55" fill="rgb(218,218,218)"/>
<circle cx="196.9" cy="34.1" r="1.0" fill="#9a9a9a"/>
<circle cx="196.7" cy="33.9" r="0.50" fill="rgb(221,221,221)"/>
<circle cx="204.4" cy="36.2" r="1.2" fill="#9a9a9a"/>
<circle cx="204.2" cy="36.0" r="0.62" fill="rgb(246,246,246)"/>
<circle cx="201.6" cy="36.7" r="1.1" fill="#9a9a9a"/>
<circle cx="201.4" cy="36.5" r="0.53" fill="rgb(216,216,216)"/>
<circle cx="203.8" cy="33.8" r="1.1" fill="#9a9a9a"/>
<circle cx="203.6" cy="33.6" r="0.54" fill="rgb(249,249,249)"/>
<circle cx="199.5" cy="30.5" r="0.9" fill="#9a9a9a"/>
<circle cx="199.3" cy="30.3" r="0.47" fill="rgb(230,230,230)"/>
<circle cx="203.9" cy="32.8" r="1.2" fill="#9a9a9a"/>
<circle cx="203.7" cy="32.6" r="0.62" fill="rgb(229,229,229)"/>
<circle cx="203.0" cy="31.1" r="1.1" fill="#9a9a9a"/>
<circle cx="202.8" cy="30.9" r="0.56" fill="rgb(225,225,225)"/>
<circle cx="205.4" cy="34.0" r="0.9" fill="#9a9a9a"/>
<circle cx="205.2" cy="33.8" r="0.47" fill="rgb(231,231,231)"/>
<circle cx="201.0" cy="38.1" r="1.1" fill="#9a9a9a"/>
<circle cx="200.8" cy="37.9" r="0.55" fill="rgb(216,216,216)"/>
<circle cx="202.0" cy="36.4" r="0.9" fill="#9a9a9a"/>
<circle cx="201.8" cy="36.2" r="0.45" fill="rgb(227,227,227)"/>
<circle cx="201.5" cy="28.9" r="1.0" fill="#9a9a9a"/>
<circle cx="201.3" cy="28.7" r="0.50" fill="rgb(244,244,244)"/>
<circle cx="203.7" cy="29.8" r="1.1" fill="#9a9a9a"/>
<circle cx="203.5" cy="29.6" r="0.54" fill="rgb(243,243,243)"/>
<circle cx="204.6" cy="35.7" r="0.9" fill="#9a9a9a"/>
<circle cx="204.4" cy="35.5" r="0.47" fill="rgb(221,221,221)"/>
<circle cx="199.8" cy="29.6" r="1.2" fill="#9a9a9a"/>
<circle cx="199.6" cy="29.4" r="0.58" fill="rgb(217,217,217)"/>
<circle cx="204.1" cy="32.0" r="1.0" fill="#9a9a9a"/>
<circle cx="203.9" cy="31.8" r="0.50" fill="rgb(244,244,244)"/>
<circle cx="205.3" cy="32.5" r="1.1" fill="#9a9a9a"/>
<circle cx="205.1" cy="32.3" r="0.54" fill="rgb(247,247,247)"/>
<circle cx="218.7" cy="21.2" r="1.2" fill="#9a9a9a"/>
<circle cx="218.5" cy="21.0" r="0.58" fill="rgb(222,222,222)"/>
<circle cx="213.5" cy="17.5" r="0.9" fill="#9a9a9a"/>
<circle cx="213.3" cy="17.3" r="0.47" fill="rgb(240,240,240)"/>
<circle cx="218.9" cy="22.6" r="1.2" fill="#9a9a9a"/>
<circle cx="218.7" cy="22.4" r="0.60" fill="rgb(249,249,249)"/>
<circle cx="215.6" cy="18.0" r="1.1" fill="#9a9a9a"/>
<circle cx="215.4" cy="17.8" r="0.55" fill="rgb(229,229,229)"/>
<circle cx="218.4" cy="18.2" r="1.0" fill="#9a9a9a"/>
<circle cx="218.2" cy="18.0" r="0.48" fill="rgb(244,244,244)"/>
<circle cx="219.2" cy="22.3" r="1.2" fill="#9a9a9a"/>
<circle cx="219.0" cy="22.1" r="0.58" fill="rgb(225,225,225)"/>
<circle cx="212.8" cy="19.4" r="1.2" fill="#9a9a9a"/>
<circle cx="212.6" cy="19.2" r="0.62" fill="rgb(216,216,216)"/>
<circle cx="214.7" cy="18.3" r="1.2" fill="#9a9a9a"/>
<circle cx="214.5" cy="18.1" r="0.61" fill="rgb(239,239,239)"/>
<circle cx="217.0" cy="17.7" r="1.1" fill="#9a9a9a"/>
<circle cx="216.8" cy="17.5" r="0.57" fill="rgb(248,248,248)"/>
<circle cx="213.6" cy="17.9" r="0.9" fill="#9a9a9a"/>
<circle cx="213.4" cy="17.7" r="0.46" fill="rgb(218,218,218)"/>
<circle cx="213.0" cy="22.7" r="1.2" fill="#9a9a9a"/>
<circle cx="212.8" cy="22.5" r="0.59" fill="rgb(236,236,236)"/>
<circle cx="217.0" cy="16.5" r="1.0" fill="#9a9a9a"/>
<circle cx="216.8" cy="16.3" r="0.52" fill="rgb(236,236,236)"/>
<circle cx="216.8" cy="17.2" r="1.2" fill="#9a9a9a"/>
<circle cx="216.6" cy="17.0" r="0.58" fill="rgb(235,235,235)"/>
<circle cx="215.3" cy="23.7" r="1.2" fill="#9a9a9a"/>
<circle cx="215.1" cy="23.5" r="0.59" fill="rgb(250,250,250)"/>
<circle cx="220.1" cy="20.3" r="0.9" fill="#9a9a9a"/>
<circle cx="219.9" cy="20.1" r="0.46" fill="rgb(248,248,248)"/>
<circle cx="217.6" cy="18.0" r="1.0" fill="#9a9a9a"/>
<circle cx="217.4" cy="17.8" r="0.48" fill="rgb(237,237,237)"/>
<circle cx="220.9" cy="50.3" r="1.0" fill="#9a9a9a"/>
<circle cx="220.7" cy="50.1" r="0.49" fill="rgb(242,242,242)"/>
<circle cx="227.1" cy="49.7" r="1.1" fill="#9a9a9a"/>
<circle cx="226.9" cy="49.5" r="0.57" fill="rgb(215,215,215)"/>
<circle cx="223.6" cy="57.2" r="1.0" fill="#9a9a9a"/>
<circle cx="223.4" cy="57.0" r="0.51" fill="rgb(248,248,248)"/>
<circle cx="227.9" cy="51.0" r="1.0" fill="#9a9a9a"/>
<circle cx="227.7" cy="50.8" r="0.48" fill="rgb(235,235,235)"/>
<circle cx="223.3" cy="49.5" r="1.1" fill="#9a9a9a"/>
<circle cx="223.1" cy="49.3" r="0.53" fill="rgb(247,247,247)"/>
<circle cx="228.8" cy="50.6" r="1.1" fill="#9a9a9a"/>
<circle cx="228.6" cy="50.4" r="0.57" fill="rgb(229,229,229)"/>
<circle cx="224.4" cy="56.4" r="0.9" fill="#9a9a9a"/>
<circle cx="224.2" cy="56.2" r="0.47" fill="rgb(240,240,240)"/>
<circle cx="224.7" cy="57.4" r="1.2" fill="#9a9a9a"/>
<circle cx="224.5" cy="57.2" r="0.59" fill="rgb(244,244,244)"/>
<circle cx="220.9" cy="51.0" r="1.1" fill="#9a9a9a"/>
<circle cx="220.7" cy="50.8" r="0.56" fill="rgb(217,217,217)"/>
<circle cx="227.4" cy="51.5" r="0.9" fill="#9a9a9a"/>
<circle cx="227.2" cy="51.3" r="0.46" fill="rgb(232,232,232)"/>
<circle cx="227.4" cy="49.3" r="1.2" fill="#9a9a9a"/>
<circle cx="227.2" cy="49.1" r="0.61" fill="rgb(232,232,232)"/>
<circle cx="227.9" cy="50.3" r="1.1" fill="#9a9a9a"/>
<circle cx="227.7" cy="50.1" r="0.56" fill="rgb(217,217,217)"/>
<circle cx="224.3" cy="58.4" r="1.1" fill="#9a9a9a"/>
<circle cx="224.1" cy="58.2" r="0.56" fill="rgb(231,231,231)"/>
<circle cx="226.6" cy="49.2" r="0.9" fill="#9a9a9a"/>
<circle cx="226.4" cy="49.0" r="0.47" fill="rgb(215,215,215)"/>
<circle cx="228.2" cy="51.5" r="1.1" fill="#9a9a9a"/>
<circle cx="228.0" cy="51.3" r="0.53" fill="rgb(217,217,217)"/>
<circle cx="228.7" cy="55.7" r="1.0" fill="#9a9a9a"/>
<circle cx="228.5" cy="55.5" r="0.50" fill="rgb(234,234,234)"/>
<circle cx="226.0" cy="50.2" r="1.0" fill="#9a9a9a"/>
<circle cx="225.8" cy="50.0" r="0.51" fill="rgb(225,225,225)"/>
<circle cx="225.0" cy="48.4" r="0.9" fill="#9a9a9a"/>
<circle cx="224.8" cy="48.2" r="0.47" fill="rgb(247,247,247)"/>
<circle cx="225.4" cy="57.8" r="1.2" fill="#9a9a9a"/>
<circle cx="225.2" cy="57.6" r="0.61" fill="rgb(220,220,220)"/>
<circle cx="223.2" cy="49.9" r="1.1" fill="#9a9a9a"/>
<circle cx="223.0" cy="49.7" r="0.53" fill="rgb(249,249,249)"/>
<circle cx="240.1" cy="47.8" r="1.2" fill="#9a9a9a"/>
<circle cx="239.9" cy="47.6" r="0.61" fill="rgb(243,243,243)"/>
<circle cx="239.0" cy="38.7" r="0.9" fill="#9a9a9a"/>
<circle cx="238.8" cy="38.5" r="0.47" fill="rgb(223,223,223)"/>
<circle cx="235.6" cy="44.9" r="1.2" fill="#9a9a9a"/>
<circle cx="235.4" cy="44.7" r="0.60" fill="rgb(241,241,241)"/>
<circle cx="240.8" cy="39.1" r="1.1" fill="#9a9a9a"/>
<circle cx="240.6" cy="38.9" r="0.55" fill="rgb(232,232,232)"/>
<circle cx="239.5" cy="48.7" r="1.0" fill="#9a9a9a"/>
<circle cx="239.3" cy="48.5" r="0.49" fill="rgb(220,220,220)"/>
<circle cx="243.4" cy="40.7" r="1.2" fill="#9a9a9a"/>
<circle cx="243.2" cy="40.5" r="0.58" fill="rgb(233,233,233)"/>
<circle cx="234.6" cy="43.4" r="1.2" fill="#9a9a9a"/>
<circle cx="234.4" cy="43.2" r="0.60" fill="rgb(229,229,229)"/>
<circle cx="235.8" cy="42.0" r="1.1" fill="#9a9a9a"/>
<circle cx="235.6" cy="41.8" r="0.56" fill="rgb(227,227,227)"/>
<circle cx="240.3" cy="47.5" r="1.1" fill="#9a9a9a"/>
<circle cx="240.1" cy="47.3" r="0.55" fill="rgb(238,238,238)"/>
<circle cx="237.7" cy="40.0" r="1.1" fill="#9a9a9a"/>
<circle cx="237.5" cy="39.8" r="0.53" fill="rgb(250,250,250)"/>
<circle cx="235.1" cy="42.3" r="1.0" fill="#9a9a9a"/>
<circle cx="234.9" cy="42.1" r="0.50" fill="rgb(245,245,245)"/>
<circle cx="235.4" cy="43.6" r="1.1" fill="#9a9a9a"/>
<circle cx="235.2" cy="43.4" r="0.53" fill="rgb(234,234,234)"/>
<circle cx="244.5" cy="45.6" r="0.9" fill="#9a9a9a"/>
<circle cx="244.3" cy="45.4" r="0.46" fill="rgb(236,236,236)"/>
<circle cx="236.5" cy="46.5" r="1.0" fill="#9a9a9a"/>
<circle cx="236.3" cy="46.3" r="0.49" fill="rgb(247,247,247)"/>
<circle cx="235.5" cy="40.1" r="1.1" fill="#9a9a9a"/>
<circle cx="235.3" cy="39.9" r="0.55" fill="rgb(240,240,240)"/>
<circle cx="241.7" cy="48.0" r="0.9" fill="#9a9a9a"/>
<circle cx="241.5" cy="47.8" r="0.45" fill="rgb(237,237,237)"/>
<circle cx="236.4" cy="47.8" r="1.0" fill="#9a9a9a"/>
<circle cx="236.2" cy="47.6" r="0.48" fill="rgb(230,230,230)"/>
<circle cx="242.4" cy="44.4" r="1.0" fill="#9a9a9a"/>
<circle cx="242.2" cy="44.2" r="0.51" fill="rgb(235,235,235)"/>
<circle cx="244.4" cy="43.7" r="1.1" fill="#9a9a9a"/>
<circle cx="244.2" cy="43.5" r="0.54" fill="rgb(233,233,233)"/>
<circle cx="234.3" cy="44.4" r="1.2" fill="#9a9a9a"/>
<circle cx="234.1" cy="44.2" r="0.60" fill="rgb(228,228,228)"/>
<circle cx="238.6" cy="49.2" r="1.0" fill="#9a9a9a"/>
<circle cx="238.4" cy="49.0" r="0.50" fill="rgb(216,216,216)"/>
<circle cx="234.0" cy="46.5" r="1.0" fill="#9a9a9a"/>
<circle cx="233.8" cy="46.3" r="0.48" fill="rgb(219,219,219)"/>
<circle cx="239.6" cy="38.7" r="1.1" fill="#9a9a9a"/>
<circle cx="239.4" cy="38.5" r="0.56" fill="rgb(237,237,237)"/>
<circle cx="242.8" cy="43.1" r="1.1" fill="#9a9a9a"/>
<circle cx="242.6" cy="42.9" r="0.53" fill="rgb(218,218,218)"/>
<circle cx="254.5" cy="31.2" r="1.1" fill="#9a9a9a"/>
<circle cx="254.3" cy="31.0" r="0.54" fill="rgb(243,243,243)"/>
<circle cx="252.7" cy="33.1" r="1.0" fill="#9a9a9a"/>
<circle cx="252.5" cy="32.9" r="0.51" fill="rgb(221,221,221)"/>
<circle cx="255.1" cy="31.7" r="1.1" fill="#9a9a9a"/>
<circle cx="254.9" cy="31.5" r="0.54" fill="rgb(224,224,224)"/>
<circle cx="254.0" cy="27.9" r="1.0" fill="#9a9a9a"/>
<circle cx="253.8" cy="27.7" r="0.52" fill="rgb(237,237,237)"/>
<circle cx="255.8" cy="29.0" r="0.9" fill="#9a9a9a"/>
<circle cx="255.6" cy="28.8" r="0.47" fill="rgb(227,227,227)"/>
<circle cx="255.1" cy="32.0" r="1.1" fill="#9a9a9a"/>
<circle cx="254.9" cy="31.8" r="0.56" fill="rgb(232,232,232)"/>
<circle cx="249.1" cy="32.3" r="1.2" fill="#9a9a9a"/>
<circle cx="248.9" cy="32.1" r="0.59" fill="rgb(248,248,248)"/>
<circle cx="254.6" cy="29.7" r="0.9" fill="#9a9a9a"/>
<circle cx="254.4" cy="29.5" r="0.47" fill="rgb(245,245,245)"/>
<circle cx="247.8" cy="28.9" r="1.0" fill="#9a9a9a"/>
<circle cx="247.6" cy="28.7" r="0.50" fill="rgb(223,223,223)"/>
<circle cx="255.4" cy="29.4" r="1.0" fill="#9a9a9a"/>
<circle cx="255.2" cy="29.2" r="0.52" fill="rgb(221,221,221)"/>
<circle cx="248.7" cy="32.7" r="0.9" fill="#9a9a9a"/>
<circle cx="248.5" cy="32.5" r="0.45" fill="rgb(250,250,250)"/>
<circle cx="254.0" cy="34.4" r="1.1" fill="#9a9a9a"/>
<circle cx="253.8" cy="34.2" r="0.55" fill="rgb(246,246,246)"/>
<circle cx="254.6" cy="30.3" r="1.0" fill="#9a9a9a"/>
<circle cx="254.4" cy="30.1" r="0.52" fill="rgb(224,224,224)"/>
<circle cx="254.6" cy="31.3" r="1.0" fill="#9a9a9a"/>
<circle cx="254.4" cy="31.1" r="0.52" fill="rgb(232,232,232)"/>
<circle cx="248.8" cy="34.1" r="1.2" fill="#9a9a9a"/>
<circle cx="248.6" cy="33.9" r="0.60" fill="rgb(222,222,222)"/>
<circle cx="255.1" cy="28.0" r="1.0" fill="#9a9a9a"/>
<circle cx="254.9" cy="27.8" r="0.52" fill="rgb(243,243,243)"/>
<circle cx="258.7" cy="59.3" r="1.1" fill="#9a9a9a"/>
<circle cx="258.5" cy="59.1" r="0.57" fill="rgb(233,233,233)"/>
<circle cx="253.6" cy="54.1" r="1.2" fill="#9a9a9a"/>
<circle cx="253.4" cy="53.9" r="0.58" fill="rgb(233,233,233)"/>
<circle cx="257.4" cy="57.7" r="1.0" fill="#9a9a9a"/>
<circle cx="257.2" cy="57.5" r="0.51" fill="rgb(248,248,248)"/>
<circle cx="257.2" cy="61.3" r="1.1" fill="#9a9a9a"/>
<circle cx="257.0" cy="61.1" r="0.55" fill="rgb(239,239,239)"/>
<circle cx="258.4" cy="56.5" r="1.1" fill="#9a9a9a"/>
<circle cx="258.2" cy="56.3" r="0.56" fill="rgb(215,215,215)"/>
<circle cx="253.4" cy="61.7" r="1.2" fill="#9a9a9a"/>
<circle cx="253.2" cy="61.5" r="0.59" fill="rgb(246,246,246)"/>
<circle cx="254.7" cy="55.1" r="1.0" fill="#9a9a9a"/>
<circle cx="254.5" cy="54.9" r="0.52" fill="rgb(234,234,234)"/>
<circle cx="253.2" cy="60.9" r="1.0" fill="#9a9a9a"/>
<circle cx="253.0" cy="60.7" r="0.48" fill="rgb(234,234,234)"/>
<circle cx="257.2" cy="60.6" r="1.2" fill="#9a9a9a"/>
<circle cx="257.0" cy="60.4" r="0.59" fill="rgb(242,242,242)"/>
<circle cx="256.2" cy="60.8" r="1.1" fill="#9a9a9a"/>
<circle cx="256.0" cy="60.6" r="0.55" fill="rgb(229,229,229)"/>
<circle cx="257.1" cy="61.2" r="0.9" fill="#9a9a9a"/>
<circle cx="256.9" cy="61.0" r="0.47" fill="rgb(236,236,236)"/>
<circle cx="258.7" cy="58.3" r="1.0" fill="#9a9a9a"/>
<circle cx="258.5" cy="58.1" r="0.51" fill="rgb(230,230,230)"/>
<circle cx="255.5" cy="60.6" r="1.2" fill="#9a9a9a"/>
<circle cx="255.3" cy="60.4" r="0.62" fill="rgb(228,228,228)"/>
<circle cx="257.4" cy="56.6" r="1.2" fill="#9a9a9a"/>
<circle cx="257.2" cy="56.4" r="0.62" fill="rgb(215,215,215)"/>
<circle cx="258.7" cy="56.2" r="0.9" fill="#9a9a9a"/>
<circle cx="258.5" cy="56.0" r="0.45" fill="rgb(231,231,231)"/>
<circle cx="256.9" cy="56.1" r="1.1" fill="#9a9a9a"/>
<circle cx="256.7" cy="55.9" r="0.55" fill="rgb(246,246,246)"/>
<circle cx="259.6" cy="46.8" r="1.0" fill="#9a9a9a"/>
<circle cx="259.4" cy="46.6" r="0.50" fill="rgb(249,249,249)"/>
<circle cx="265.5" cy="44.3" r="1.2" fill="#9a9a9a"/>
<circle cx="265.3" cy="44.1" r="0.59" fill="rgb(249,249,249)"/>
<circle cx="259.8" cy="43.7" r="1.1" fill="#9a9a9a"/>
<circle cx="259.6" cy="43.5" r="0.56" fill="rgb(242,242,242)"/>
<circle cx="259.9" cy="49.3" r="1.1" fill="#9a9a9a"/>
<circle cx="259.7" cy="49.1" r="0.54" fill="rgb(248,248,248)"/>
<circle cx="258.5" cy="46.5" r="1.2" fill="#9a9a9a"/>
<circle cx="258.3" cy="46.3" r="0.58" fill="rgb(242,242,242)"/>
<circle cx="263.7" cy="48.2" r="1.0" fill="#9a9a9a"/>
<circle cx="263.5" cy="48.0" r="0.52" fill="rgb(237,237,237)"/>
<circle cx="265.5" cy="47.3" r="0.9" fill="#9a9a9a"/>
<circle cx="265.3" cy="47.1" r="0.46" fill="rgb(237,237,237)"/>
<circle cx="259.5" cy="45.1" r="1.1" fill="#9a9a9a"/>
<circle cx="259.3" cy="44.9" r="0.53" fill="rgb(215,215,215)"/>
<circle cx="264.0" cy="43.9" r="1.1" fill="#9a9a9a"/>
<circle cx="263.8" cy="43.7" r="0.57" fill="rgb(248,248,248)"/>
<circle cx="259.7" cy="47.4" r="1.0" fill="#9a9a9a"/>
<circle cx="259.5" cy="47.2" r="0.49" fill="rgb(241,241,241)"/>
<circle cx="261.5" cy="49.9" r="1.0" fill="#9a9a9a"/>
<circle cx="261.3" cy="49.7" r="0.52" fill="rgb(240,240,240)"/>
<circle cx="260.6" cy="48.3" r="1.1" fill="#9a9a9a"/>
<circle cx="260.4" cy="48.1" r="0.56" fill="rgb(224,224,224)"/>
<circle cx="259.0" cy="46.2" r="1.2" fill="#9a9a9a"/>
<circle cx="258.8" cy="46.0" r="0.60" fill="rgb(241,241,241)"/>
<circle cx="264.1" cy="44.5" r="1.1" fill="#9a9a9a"/>
<circle cx="263.9" cy="44.3" r="0.54" fill="rgb(243,243,243)"/>
<rect x="33" y="69" width="76.0" height="50.7" fill="#7b7b7b"/>
<circle cx="90.8" cy="113.8" r="0.9" fill="#9a9a9a"/>
<circle cx="90.6" cy="113.6" r="0.46" fill="rgb(228,228,228)"/>
<circle cx="85.2" cy="106.4" r="1.1" fill="#9a9a9a"/>
<circle cx="85.0" cy="106.2" r="0.53" fill="rgb(222,222,222)"/>
<circle cx="60.8" cy="87.9" r="1.1" fill="#9a9a9a"/>
<circle cx="60.6" cy="87.7" r="0.57" fill="rgb(242,242,242)"/>
<circle cx="71.7" cy="117.3" r="1.2" fill="#9a9a9a"/>
<circle cx="71.5" cy="117.1" r="0.61" fill="rgb(220,220,220)"/>
<circle cx="72.8" cy="109.7" r="1.1" fill="#9a9a9a"/>
<circle cx="72.6" cy="109.5" r="0.56" fill="rgb(227,227,227)"/>
<circle cx="100.1" cy="90.1" r="1.1" fill="#9a9a9a"/>
<circle cx="99.9" cy="89.9" r="0.55" fill="rgb(237,237,237)"/>
<circle cx="75.8" cy="75.2" r="1.0" fill="#9a9a9a"/>
<circle cx="75.6" cy="75.0" r="0.48" fill="rgb(236,236,236)"/>
<circle cx="80.7" cy="105.2" r="1.2" fill="#9a9a9a"/>
<circle cx="80.5" cy="105.0" r="0.59" fill="rgb(215,215,215)"/>
<circle cx="74.9" cy="114.7" r="1.2" fill="#9a9a9a"/>
<circle cx="74.7" cy="114.5" r="0.59" fill="rgb(222,222,222)"/>
<circle cx="41.3" cy="70.8" r="1.0" fill="#9a9a9a"/>
<circle cx="41.1" cy="70.6" r="0.49" fill="rgb(247,247,247)"/>
<circle cx="98.5" cy="113.6" r="1.2" fill="#9a9a9a"/>
<circle cx="98.3" cy="113.4" r="0.58" fill="rgb(237,237,237)"/>
<circle cx="70.3" cy="92.8" r="1.2" fill="#9a9a9a"/>
<circle cx="70.1" cy="92.6" r="0.58" fill="rgb(217,217,217)"/>
<circle cx="93.2" cy="101.7" r="1.2" fill="#9a9a9a"/>
<circle cx="93.0" cy="101.5" r="0.59" fill="rgb(237,237,237)"/>
<circle cx="76.8" cy="77.0" r="0.9" fill="#9a9a9a"/>
<circle cx="76.6" cy="76.8" r="0.47" fill="rgb(250,250,250)"/>
<circle cx="97.6" cy="116.2" r="1.0" fill="#9a9a9a"/>
<circle cx="97.4" cy="116.0" r="0.51" fill="rgb(222,222,222)"/>
<circle cx="48.2" cy="100.4" r="0.9" fill="#9a9a9a"/>
<circle cx="48.0" cy="100.2" r="0.46" fill="rgb(230,230,230)"/>
<circle cx="37.3" cy="72.7" r="1.0" fill="#9a9a9a"/>
<circle cx="37.1" cy="72.5" r="0.49" fill="rgb(227,227,227)"/>
<circle cx="67.7" cy="90.4" r="1.1" fill="#9a9a9a"/>
<circle cx="67.5" cy="90.2" r="0.57" fill="rgb(216,216,216)"/>
<circle cx="99.6" cy="117.7" r="1.2" fill="#9a9a9a"/>
<circle cx="99.4" cy="117.5" r="0.60" fill="rgb(243,243,243)"/>
<circle cx="84.1" cy="102.9" r="0.9" fill="#9a9a9a"/>
<circle cx="83.9" cy="102.7" r="0.47" fill="rgb(216,216,216)"/>
<circle cx="64.6" cy="89.4" r="1.1" fill="#9a9a9a"/>
<circle cx="64.4" cy="89.2" r="0.54" fill="rgb(219,219,219)"/>
<circle cx="35.7" cy="112.3" r="1.2" fill="#9a9a9a"/>
<circle cx="35.5" cy="112.1" r="0.59" fill="rgb(226,226,226)"/>
<circle cx="46.6" cy="88.5" r="1.0" fill="#9a9a9a"/>
<circle cx="46.4" cy="88.3" r="0.48" fill="rgb(233,233,233)"/>
<circle cx="99.3" cy="89.3" r="1.2" fill="#9a9a9a"/>
<circle cx="99.1" cy="89.1" r="0.60" fill="rgb(239,239,239)"/>
<circle cx="58.8" cy="112.4" r="1.2" fill="#9a9a9a"/>
<circle cx="58.6" cy="112.2" r="0.60" fill="rgb(231,231,231)"/>
<circle cx="82.2" cy="116.8" r="1.1" fill="#9a9a9a"/>
<circle cx="82.0" cy="116.6" r="0.54" fill="rgb(232,232,232)"/>
<circle cx="101.6" cy="97.0" r="1.2" fill="#9a9a9a"/>
<circle cx="101.4" cy="96.8" r="0.62" fill="rgb(215,215,215)"/>
<circle cx="68.6" cy="86.8" r="0.9" fill="#9a9a9a"/>
<circle cx="68.4" cy="86.6" r="0.45" fill="rgb(224,224,224)"/>
<circle cx="51.9" cy="76.3" r="1.1" fill="#9a9a9a"/>
<circle cx="51.7" cy="76.1" r="0.54" fill="rgb(245,245,245)"/>
<circle cx="74.3" cy="108.3" r="1.2" fill="#9a9a9a"/>
<circle cx="74.1" cy="108.1" r="0.60" fill="rgb(217,217,217)"/>
<circle cx="68.6" cy="108.7" r="0.9" fill="#9a9a9a"/>
<circle cx="68.4" cy="108.5" r="0.46" fill="rgb(240,240,240)"/>
<circle cx="61.2" cy="80.5" r="1.2" fill="#9a9a9a"/>
<circle cx="61.0" cy="80.3" r="0.60" fill="rgb(225,225,225)"/>
<circle cx="80.6" cy="98.3" r="1.1" fill="#9a9a9a"/>
<circle cx="80.4" cy="98.1" r="0.57" fill="rgb(243,243,243)"/>
<circle cx="84.0" cy="115.9" r="1.0" fill="#9a9a9a"/>
<circle cx="83.8" cy="115.7" r="0.52" fill="rgb(248,248,248)"/>
<circle cx="73.6" cy="89.7" r="0.9" fill="#9a9a9a"/>
<circle cx="73.4" cy="89.5" r="0.46" fill="rgb(236,236,236)"/>
<circle cx="90.6" cy="71.4" r="1.1" fill="#9a9a9a"/>
<circle cx="90.4" cy="71.2" r="0.54" fill="rgb(234,234,234)"/>
<circle cx="85.4" cy="107.8" r="1.2" fill="#9a9a9a"/>
<circle cx="85.2" cy="107.6" r="0.61" fill="rgb(217,217,217)"/>
<circle cx="47.9" cy="113.4" r="1.0" fill="#9a9a9a"/>
<circle cx="47.7" cy="113.2" r="0.49" fill="rgb(238,238,238)"/>
<circle cx="101.6" cy="109.2" r="1.2" fill="#9a9a9a"/>
<circle cx="101.4" cy="109.0" r="0.58" fill="rgb(236,236,236)"/>
<circle cx="48.3" cy="105.0" r="1.1" fill="#9a9a9a"/>
<circle cx="48.1" cy="104.8" r="0.55" fill="rgb(239,239,239)"/>
<circle cx="55.4" cy="109.8" r="1.2" fill="#9a9a9a"/>
<circle cx="55.2" cy="109.6" r="0.61" fill="rgb(235,235,235)"/>
<circle cx="60.3" cy="111.1" r="0.9" fill="#9a9a9a"/>
<circle cx="60.1" cy="110.9" r="0.45" fill="rgb(245,245,245)"/>
<circle cx="80.5" cy="100.6" r="1.0" fill="#9a9a9a"/>
<circle cx="80.3" cy="100.4" r="0.51" fill="rgb(216,216,216)"/>
<circle cx="103.3" cy="78.6" r="1.0" fill="#9a9a9a"/>
<circle cx="103.1" cy="78.4" r="0.49" fill="rgb(217,217,217)"/>
<circle cx="93.2" cy="103.6" r="1.1" fill="#9a9a9a"/>
<circle cx="93.0" cy="103.4" r="0.56" fill="rgb(224,224,224)"/>
<circle cx="108.0" cy="89.5" r="1.0" fill="#9a9a9a"/>
<circle cx="107.8" cy="89.3" r="0.50" fill="rgb(232,232,232)"/>
<circle cx="41.2" cy="84.2" r="0.9" fill="#9a9a9a"/>
<circle cx="41.0" cy="84.0" r="0.46" fill="rgb(231,231,231)"/>
<circle cx="79.1" cy="80.7" r="1.0" fill="#9a9a9a"/>
<circle cx="78.9" cy="80.5" r="0.51" fill="rgb(248,248,248)"/>
<circle cx="63.9" cy="99.6" r="1.1" fill="#9a9a9a"/>
<circle cx="63.7" cy="99.4" r="0.55" fill="rgb(223,223,223)"/>
<circle cx="90.0" cy="77.6" r="1.2" fill="#9a9a9a"/>
<circle cx="89.8" cy="77.4" r="0.62" fill="rgb(217,217,217)"/>
<circle cx="75.8" cy="81.1" r="1.2" fill="#9a9a9a"/>
<circle cx="75.6" cy="80.9" r="0.61" fill="rgb(221,221,221)"/>
<circle cx="72.5" cy="115.1" r="1.2" fill="#9a9a9a"/>
<circle cx="72.3" cy="114.9" r="0.60" fill="rgb(242,242,242)"/>
<circle cx="76.6" cy="115.6" r="1.1" fill="#9a9a9a"/>
<circle cx="76.4" cy="115.4" r="0.56" fill="rgb(221,221,221)"/>
<circle cx="90.5" cy="101.9" r="1.0" fill="#9a9a9a"/>
<circle cx="90.3" cy="101.7" r="0.51" fill="rgb(233,233,233)"/>
<circle cx="98.8" cy="98.5" r="1.2" fill="#9a9a9a"/>
<circle cx="98.6" cy="98.3" r="0.59" fill="rgb(230,230,230)"/>
<circle cx="106.1" cy="103.2" r="1.2" fill="#9a9a9a"/>
<circle cx="105.9" cy="103.0" r="0.60" fill="rgb(224,224,224)"/>
<circle cx="57.6" cy="107.8" r="1.1" fill="#9a9a9a"/>
<circle cx="57.4" cy="107.6" r="0.57" fill="rgb(234,234,234)"/>
<circle cx="101.6" cy="90.3" r="1.2" fill="#9a9a9a"/>
<circle cx="101.4" cy="90.1" r="0.62" fill="rgb(236,236,236)"/>
<circle cx="107.9" cy="100.0" r="1.2" fill="#9a9a9a"/>
<circle cx="107.7" cy="99.8" r="0.58" fill="rgb(247,247,247)"/>
<circle cx="66.7" cy="86.6" r="1.2" fill="#9a9a9a"/>
<circle cx="66.5" cy="86.4" r="0.60" fill="rgb(230,230,230)"/>
<circle cx="84.9" cy="110.9" r="1.0" fill="#9a9a9a"/>
<circle cx="84.7" cy="110.7" r="0.51" fill="rgb(250,250,250)"/>
<circle cx="71.6" cy="102.9" r="1.2" fill="#9a9a9a"/>
<circle cx="71.4" cy="102.7" r="0.58" fill="rgb(236,236,236)"/>
<circle cx="83.8" cy="111.2" r="0.9" fill="#9a9a9a"/>
<circle cx="83.6" cy="111.0" r="0.46" fill="rgb(236,236,236)"/>
<circle cx="95.1" cy="97.2" r="1.1" fill="#9a9a9a"/>
<circle cx="94.9" cy="97.0" r="0.57" fill="rgb(245,245,245)"/>
<circle cx="46.1" cy="108.0" r="1.1" fill="#9a9a9a"/>
<circle cx="45.9" cy="107.8" r="0.54" fill="rgb(230,230,230)"/>
<circle cx="53.3" cy="116.9" r="1.2" fill="#9a9a9a"/>
<circle cx="53.1" cy="116.7" r="0.59" fill="rgb(237,237,237)"/>
<circle cx="59.7" cy="74.5" r="1.0" fill="#9a9a9a"/>
<circle cx="59.5" cy="74.3" r="0.48" fill="rgb(228,228,228)"/>
<circle cx="69.7" cy="104.4" r="0.9" fill="#9a9a9a"/>
<circle cx="69.5" cy="104.2" r="0.45" fill="rgb(244,244,244)"/>
<circle cx="85.2" cy="76.5" r="1.0" fill="#9a9a9a"/>
<circle cx="85.0" cy="76.3" r="0.52" fill="rgb(240,240,240)"/>
<circle cx="85.7" cy="76.5" r="1.1" fill="#9a9a9a"/>
<circle cx="85.5" cy="76.3" r="0.55" fill="rgb(234,234,234)"/>
<circle cx="77.5" cy="81.7" r="1.2" fill="#9a9a9a"/>
<circle cx="77.3" cy="81.5" r="0.61" fill="rgb(219,219,219)"/>
<circle cx="84.1" cy="77.5" r="1.0" fill="#9a9a9a"/>
<circle cx="83.9" cy="77.3" r="0.48" fill="rgb(234,234,234)"/>
<circle cx="96.1" cy="89.8" r="1.0" fill="#9a9a9a"/>
<circle cx="95.9" cy="89.6" r="0.49" fill="rgb(250,250,250)"/>
<circle cx="85.1" cy="70.6" r="1.1" fill="#9a9a9a"/>
<circle cx="84.9" cy="70.4" r="0.57" fill="rgb(236,236,236)"/>
<circle cx="37.2" cy="113.6" r="0.9" fill="#9a9a9a"/>
<circle cx="37.0" cy="113.4" r="0.46" fill="rgb(227,227,227)"/>
<circle cx="55.4" cy="97.2" r="1.1" fill="#9a9a9a"/>
<circle cx="55.2" cy="97.0" r="0.55" fill="rgb(220,220,220)"/>
<circle cx="68.7" cy="117.7" r="1.1" fill="#9a9a9a"/>
<circle cx="68.5" cy="117.5" r="0.55" fill="rgb(234,234,234)"/>
<circle cx="89.3" cy="86.2" r="1.1" fill="#9a9a9a"/>
<circle cx="89.1" cy="86.0" r="0.55" fill="rgb(244,244,244)"/>
<circle cx="70.1" cy="108.2" r="1.0" fill="#9a9a9a"/>
<circle cx="69.9" cy="108.0" r="0.51" fill="rgb(242,242,242)"/>
<circle cx="60.6" cy="74.4" r="1.2" fill="#9a9a9a"/>
<circle cx="60.4" cy="74.2" r="0.58" fill="rgb(219,219,219)"/>
<circle cx="79.4" cy="105.6" r="1.2" fill="#9a9a9a"/>
<circle cx="79.2" cy="105.4" r="0.60" fill="rgb(235,235,235)"/>
<circle cx="82.3" cy="73.8" r="1.2" fill="#9a9a9a"/>
<circle cx="82.1" cy="73.6" r="0.61" fill="rgb(232,232,232)"/>
<circle cx="35.9" cy="89.2" r="1.2" fill="#9a9a9a"/>
<circle cx="35.7" cy="89.0" r="0.61" fill="rgb(249,249,249)"/>
<circle cx="61.2" cy="116.9" r="0.9" fill="#9a9a9a"/>
<circle cx="61.0" cy="116.7" r="0.45" fill="rgb(225,225,225)"/>
<circle cx="100.3" cy="103.2" r="1.1" fill="#9a9a9a"/>
<circle cx="100.1" cy="103.0" r="0.56" fill="rgb(230,230,230)"/>
<circle cx="87.2" cy="85.1" r="1.1" fill="#9a9a9a"/>
<circle cx="87.0" cy="84.9" r="0.57" fill="rgb(228,228,228)"/>
<circle cx="62.1" cy="101.5" r="0.9" fill="#9a9a9a"/>
<circle cx="61.9" cy="101.3" r="0.46" fill="rgb(243,243,243)"/>
<circle cx="96.0" cy="82.3" r="1.0" fill="#9a9a9a"/>
<circle cx="95.8" cy="82.1" r="0.49" fill="rgb(233,233,233)"/>
<circle cx="108.0" cy="89.6" r="1.2" fill="#9a9a9a"/>
<circle cx="107.8" cy="89.4" r="0.60" fill="rgb(221,221,221)"/>
<circle cx="107.7" cy="99.3" r="1.0" fill="#9a9a9a"/>
<circle cx="107.5" cy="99.1" r="0.48" fill="rgb(218,218,218)"/>
<circle cx="44.5" cy="81.1" r="1.2" fill="#9a9a9a"/>
<circle cx="44.3" cy="80.9" r="0.62" fill="rgb(218,218,218)"/>
<circle cx="96.9" cy="93.3" r="0.9" fill="#9a9a9a"/>
<circle cx="96.7" cy="93.1" r="0.46" fill="rgb(236,236,236)"/>
<circle cx="61.6" cy="71.6" r="1.2" fill="#9a9a9a"/>
<circle cx="61.4" cy="71.4" r="0.58" fill="rgb(215,215,215)"/>
<circle cx="95.7" cy="94.9" r="1.0" fill="#9a9a9a"/>
<circle cx="95.5" cy="94.7" r="0.48" fill="rgb(249,249,249)"/>
<circle cx="99.9" cy="73.1" r="1.1" fill="#9a9a9a"/>
<circle cx="99.7" cy="72.9" r="0.56" fill="rgb(215,215,215)"/>
<circle cx="104.7" cy="78.6" r="1.1" fill="#9a9a9a"/>
<circle cx="104.5" cy="78.4" r="0.56" fill="rgb(216,216,216)"/>
<circle cx="84.0" cy="97.6" r="1.0" fill="#9a9a9a"/>
<circle cx="83.8" cy="97.4" r="0.49" fill="rgb(235,235,235)"/>
<circle cx="74.2" cy="95.2" r="1.2" fill="#9a9a9a"/>
<circle cx="74.0" cy="95.0" r="0.60" fill="rgb(216,216,216)"/>
<circle cx="73.6" cy="100.5" r="1.1" fill="#9a9a9a"/>
<circle cx="73.4" cy="100.3" r="0.56" fill="rgb(240,240,240)"/>
<circle cx="63.7" cy="99.7" r="1.1" fill="#9a9a9a"/>
<circle cx="63.5" cy="99.5" r="0.56" fill="rgb(236,236,236)"/>
<circle cx="93.9" cy="105.2" r="1.0" fill="#9a9a9a"/>
<circle cx="93.7" cy="105.0" r="0.48" fill="rgb(241,241,241)"/>
<circle cx="82.7" cy="97.5" r="1.2" fill="#9a9a9a"/>
<circle cx="82.5" cy="97.3" r="0.59" fill="rgb(220,220,220)"/>
<circle cx="61.3" cy="102.0" r="1.1" fill="#9a9a9a"/>
<circle cx="61.1" cy="101.8" r="0.56" fill="rgb(236,236,236)"/>
<circle cx="98.0" cy="95.8" r="1.2" fill="#9a9a9a"/>
<circle cx="97.8" cy="95.6" r="0.59" fill="rgb(240,240,240)"/>
<circle cx="96.8" cy="80.8" r="1.0" fill="#9a9a9a"/>
<circle cx="96.6" cy="80.6" r="0.49" fill="rgb(244,244,244)"/>
<circle cx="85.2" cy="77.2" r="1.2" fill="#9a9a9a"/>
<circle cx="85.0" cy="77.0" r="0.60" fill="rgb(216,216,216)"/>
<circle cx="75.1" cy="115.9" r="1.2" fill="#9a9a9a"/>
<circle cx="74.9" cy="115.7" r="0.61" fill="rgb(235,235,235)"/>
<circle cx="51.8" cy="91.5" r="0.9" fill="#9a9a9a"/>
<circle cx="51.6" cy="91.3" r="0.46" fill="rgb(236,236,236)"/>
<circle cx="50.8" cy="117.2" r="1.0" fill="#9a9a9a"/>
<circle cx="50.6" cy="117.0" r="0.48" fill="rgb(216,216,216)"/>
<circle cx="89.5" cy="80.8" r="1.0" fill="#9a9a9a"/>
<circle cx="89.3" cy="80.6" r="0.48" fill="rgb(224,224,224)"/>
<circle cx="82.1" cy="79.1" r="1.1" fill="#9a9a9a"/>
<circle cx="81.9" cy="78.9" r="0.54" fill="rgb(220,220,220)"/>
<circle cx="86.5" cy="81.1" r="1.0" fill="#9a9a9a"/>
<circle cx="86.3" cy="80.9" r="0.51" fill="rgb(238,238,238)"/>
<circle cx="74.1" cy="103.9" r="1.0" fill="#9a9a9a"/>
<circle cx="73.9" cy="103.7" r="0.52" fill="rgb(249,249,249)"/>
<circle cx="101.3" cy="97.6" r="1.1" fill="#9a9a9a"/>
<circle cx="101.1" cy="97.4" r="0.57" fill="rgb(250,250,250)"/>
<circle cx="84.3" cy="109.0" r="1.0" fill="#9a9a9a"/>
<circle cx="84.1" cy="108.8" r="0.48" fill="rgb(236,236,236)"/>
<circle cx="104.2" cy="100.5" r="1.0" fill="#9a9a9a"/>
<circle cx="104.0" cy="100.3" r="0.49" fill="rgb(231,231,231)"/>
<circle cx="72.1" cy="92.4" r="1.2" fill="#9a9a9a"/>
<circle cx="71.9" cy="92.2" r="0.59" fill="rgb(245,245,245)"/>
<circle cx="74.3" cy="117.1" r="1.2" fill="#9a9a9a"/>
<circle cx="74.1" cy="116.9" r="0.58" fill="rgb(234,234,234)"/>
<circle cx="69.2" cy="74.5" r="1.1" fill="#9a9a9a"/>
<circle cx="69.0" cy="74.3" r="0.56" fill="rgb(250,250,250)"/>
<circle cx="79.8" cy="89.7" r="1.2" fill="#9a9a9a"/>
<circle cx="79.6" cy="89.5" r="0.62" fill="rgb(244,244,244)"/>
<rect x="113" y="69" width="75.0" height="50.7" fill="#7b7b7b"/>
<circle cx="154.8" cy="87.6" r="1.2" fill="#9a9a9a"/>
<circle cx="154.6" cy="87.4" r="0.62" fill="rgb(226,226,226)"/>
<circle cx="152.7" cy="83.3" r="1.1" fill="#9a9a9a"/>
<circle cx="152.5" cy="83.1" r="0.57" fill="rgb(243,243,243)"/>
<circle cx="132.5" cy="97.2" r="1.0" fill="#9a9a9a"/>
<circle cx="132.3" cy="97.0" r="0.52" fill="rgb(249,249,249)"/>
<circle cx="121.3" cy="109.4" r="1.2" fill="#9a9a9a"/>
<circle cx="121.1" cy="109.2" r="0.59" fill="rgb(222,222,222)"/>
<circle cx="185.3" cy="77.3" r="1.0" fill="#9a9a9a"/>
<circle cx="185.1" cy="77.1" r="0.49" fill="rgb(217,217,217)"/>
<circle cx="159.9" cy="89.5" r="1.0" fill="#9a9a9a"/>
<circle cx="159.7" cy="89.3" r="0.52" fill="rgb(226,226,226)"/>
<circle cx="185.5" cy="115.6" r="1.0" fill="#9a9a9a"/>
<circle cx="185.3" cy="115.4" r="0.52" fill="rgb(236,236,236)"/>
<circle cx="159.6" cy="76.0" r="1.2" fill="#9a9a9a"/>
<circle cx="159.4" cy="75.8" r="0.62" fill="rgb(238,238,238)"/>
<circle cx="153.7" cy="80.0" r="1.0" fill="#9a9a9a"/>
<circle cx="153.5" cy="79.8" r="0.48" fill="rgb(237,237,237)"/>
<circle cx="170.7" cy="82.6" r="1.2" fill="#9a9a9a"/>
<circle cx="170.5" cy="82.4" r="0.61" fill="rgb(240,240,240)"/>
<circle cx="158.2" cy="105.9" r="1.0" fill="#9a9a9a"/>
<circle cx="158.0" cy="105.7" r="0.50" fill="rgb(235,235,235)"/>
<circle cx="179.9" cy="112.4" r="1.2" fill="#9a9a9a"/>
<circle cx="179.7" cy="112.2" r="0.62" fill="rgb(247,247,247)"/>
<circle cx="176.5" cy="107.9" r="1.2" fill="#9a9a9a"/>
<circle cx="176.3" cy="107.7" r="0.59" fill="rgb(227,227,227)"/>
<circle cx="152.6" cy="87.1" r="1.2" fill="#9a9a9a"/>
<circle cx="152.4" cy="86.9" r="0.60" fill="rgb(225,225,225)"/>
<circle cx="165.8" cy="91.5" r="1.0" fill="#9a9a9a"/>
<circle cx="165.6" cy="91.3" r="0.52" fill="rgb(215,215,215)"/>
<circle cx="176.8" cy="80.4" r="0.9" fill="#9a9a9a"/>
<circle cx="176.6" cy="80.2" r="0.45" fill="rgb(226,226,226)"/>
<circle cx="180.6" cy="113.9" r="0.9" fill="#9a9a9a"/>
<circle cx="180.4" cy="113.7" r="0.47" fill="rgb(230,230,230)"/>
<circle cx="142.4" cy="80.3" r="1.1" fill="#9a9a9a"/>
<circle cx="142.2" cy="80.1" r="0.53" fill="rgb(231,231,231)"/>
<circle cx="171.7" cy="71.3" r="1.2" fill="#9a9a9a"/>
<circle cx="171.5" cy="71.1" r="0.58" fill="rgb(221,221,221)"/>
<circle cx="162.2" cy="70.8" r="1.2" fill="#9a9a9a"/>
<circle cx="162.0" cy="70.6" r="0.62" fill="rgb(247,247,247)"/>
<circle cx="172.9" cy="114.5" r="1.1" fill="#9a9a9a"/>
<circle cx="172.7" cy="114.3" r="0.57" fill="rgb(223,223,223)"/>
<circle cx="163.2" cy="87.1" r="1.2" fill="#9a9a9a"/>
<circle cx="163.0" cy="86.9" r="0.61" fill="rgb(231,231,231)"/>
<circle cx="130.7" cy="88.3" r="1.1" fill="#9a9a9a"/>
<circle cx="130.5" cy="88.1" r="0.57" fill="rgb(219,219,219)"/>
<circle cx="180.2" cy="88.3" r="1.1" fill="#9a9a9a"/>
<circle cx="180.0" cy="88.1" r="0.54" fill="rgb(236,236,236)"/>
<circle cx="162.0" cy="111.9" r="1.1" fill="#9a9a9a"/>
<circle cx="161.8" cy="111.7" r="0.53" fill="rgb(233,233,233)"/>
<circle cx="116.2" cy="71.0" r="1.0" fill="#9a9a9a"/>
<circle cx="116.0" cy="70.8" r="0.51" fill="rgb(239,239,239)"/>
<circle cx="165.8" cy="81.8" r="1.2" fill="#9a9a9a"/>
<circle cx="165.6" cy="81.6" r="0.61" fill="rgb(218,218,218)"/>
<circle cx="139.9" cy="85.9" r="1.2" fill="#9a9a9a"/>
<circle cx="139.7" cy="85.7" r="0.61" fill="rgb(246,246,246)"/>
<circle cx="145.1" cy="83.6" r="1.1" fill="#9a9a9a"/>
<circle cx="144.9" cy="83.4" r="0.54" fill="rgb(216,216,216)"/>
<circle cx="178.2" cy="94.3" r="0.9" fill="#9a9a9a"/>
<circle cx="178.0" cy="94.1" r="0.46" fill="rgb(222,222,222)"/>
<circle cx="185.6" cy="108.5" r="1.1" fill="#9a9a9a"/>
<circle cx="185.4" cy="108.3" r="0.55" fill="rgb(243,243,243)"/>
<circle cx="148.8" cy="115.5" r="1.0" fill="#9a9a9a"/>
<circle cx="148.6" cy="115.3" r="0.50" fill="rgb(247,247,247)"/>
<circle cx="170.2" cy="116.5" r="1.2" fill="#9a9a9a"/>
<circle cx="170.0" cy="116.3" r="0.61" fill="rgb(244,244,244)"/>
<circle cx="124.0" cy="84.6" r="0.9" fill="#9a9a9a"/>
<circle cx="123.8" cy="84.4" r="0.46" fill="rgb(235,235,235)"/>
<circle cx="120.5" cy="70.2" r="1.1" fill="#9a9a9a"/>
<circle cx="120.3" cy="70.0" r="0.53" fill="rgb(215,215,215)"/>
<circle cx="177.7" cy="82.2" r="1.2" fill="#9a9a9a"/>
<circle cx="177.5" cy="82.0" r="0.62" fill="rgb(232,232,232)"/>
<circle cx="137.3" cy="99.7" r="1.0" fill="#9a9a9a"/>
<circle cx="137.1" cy="99.5" r="0.48" fill="rgb(247,247,247)"/>
<circle cx="183.8" cy="80.3" r="0.9" fill="#9a9a9a"/>
<circle cx="183.6" cy="80.1" r="0.46" fill="rgb(240,240,240)"/>
<circle cx="117.8" cy="108.1" r="1.0" fill="#9a9a9a"/>
<circle cx="117.6" cy="107.9" r="0.48" fill="rgb(232,232,232)"/>
<circle cx="176.1" cy="105.8" r="1.1" fill="#9a9a9a"/>
<circle cx="175.9" cy="105.6" r="0.56" fill="rgb(230,230,230)"/>
<circle cx="117.4" cy="107.7" r="1.0" fill="#9a9a9a"/>
<circle cx="117.2" cy="107.5" r="0.50" fill="rgb(249,249,249)"/>
<circle cx="146.1" cy="91.2" r="0.9" fill="#9a9a9a"/>
<circle cx="145.9" cy="91.0" r="0.45" fill="rgb(250,250,250)"/>
<circle cx="124.2" cy="115.6" r="1.2" fill="#9a9a9a"/>
<circle cx="124.0" cy="115.4" r="0.62" fill="rgb(220,220,220)"/>
<circle cx="164.0" cy="109.2" r="1.2" fill="#9a9a9a"/>
<circle cx="163.8" cy="109.0" r="0.59" fill="rgb(239,239,239)"/>
<circle cx="125.1" cy="114.4" r="1.1" fill="#9a9a9a"/>
<circle cx="124.9" cy="114.2" r="0.54" fill="rgb(238,238,238)"/>
<circle cx="123.7" cy="84.7" r="1.1" fill="#9a9a9a"/>
<circle cx="123.5" cy="84.5" r="0.57" fill="rgb(232,232,232)"/>
<circle cx="150.7" cy="87.1" r="1.0" fill="#9a9a9a"/>
<circle cx="150.5" cy="86.9" r="0.51" fill="rgb(246,246,246)"/>
<circle cx="168.8" cy="92.6" r="1.2" fill="#9a9a9a"/>
<circle cx="168.6" cy="92.4" r="0.59" fill="rgb(249,249,249)"/>
<circle cx="143.0" cy="90.2" r="1.0" fill="#9a9a9a"/>
<circle cx="142.8" cy="90.0" r="0.51" fill="rgb(223,223,223)"/>
<circle cx="160.9" cy="102.4" r="1.0" fill="#9a9a9a"/>
<circle cx="160.7" cy="102.2" r="0.49" fill="rgb(218,218,218)"/>
<circle cx="143.0" cy="86.3" r="1.0" fill="#9a9a9a"/>
<circle cx="142.8" cy="86.1" r="0.48" fill="rgb(248,248,248)"/>
<circle cx="179.3" cy="98.5" r="1.0" fill="#9a9a9a"/>
<circle cx="179.1" cy="98.3" r="0.48" fill="rgb(234,234,234)"/>
<circle cx="128.7" cy="100.6" r="1.2" fill="#9a9a9a"/>
<circle cx="128.5" cy="100.4" r="0.61" fill="rgb(234,234,234)"/>
<circle cx="115.1" cy="76.6" r="1.2" fill="#9a9a9a"/>
<circle cx="114.9" cy="76.4" r="0.62" fill="rgb(238,238,238)"/>
<circle cx="157.4" cy="98.0" r="1.2" fill="#9a9a9a"/>
<circle cx="157.2" cy="97.8" r="0.62" fill="rgb(226,226,226)"/>
<circle cx="165.0" cy="105.5" r="1.0" fill="#9a9a9a"/>
<circle cx="164.8" cy="105.3" r="0.50" fill="rgb(245,245,245)"/>
<circle cx="117.5" cy="113.5" r="1.0" fill="#9a9a9a"/>
<circle cx="117.3" cy="113.3" r="0.48" fill="rgb(235,235,235)"/>
<circle cx="118.7" cy="75.4" r="1.2" fill="#9a9a9a"/>
<circle cx="118.5" cy="75.2" r="0.61" fill="rgb(240,240,240)"/>
<circle cx="183.9" cy="117.3" r="0.9" fill="#9a9a9a"/>
<circle cx="183.7" cy="117.1" r="0.47" fill="rgb(231,231,231)"/>
<circle cx="152.4" cy="70.1" r="1.0" fill="#9a9a9a"/>
<circle cx="152.2" cy="69.9" r="0.51" fill="rgb(235,235,235)"/>
<circle cx="130.3" cy="96.3" r="1.0" fill="#9a9a9a"/>
<circle cx="130.1" cy="96.1" r="0.52" fill="rgb(245,245,245)"/>
<circle cx="160.2" cy="96.6" r="1.0" fill="#9a9a9a"/>
<circle cx="160.0" cy="96.4" r="0.50" fill="rgb(228,228,228)"/>
<circle cx="186.5" cy="95.8" r="1.2" fill="#9a9a9a"/>
<circle cx="186.3" cy="95.6" r="0.61" fill="rgb(243,243,243)"/>
<circle cx="175.3" cy="116.6" r="1.1" fill="#9a9a9a"/>
<circle cx="175.1" cy="116.4" r="0.54" fill="rgb(241,241,241)"/>
<circle cx="119.6" cy="117.3" r="1.1" fill="#9a9a9a"/>
<circle cx="119.4" cy="117.1" r="0.56" fill="rgb(235,235,235)"/>
<circle cx="176.3" cy="117.3" r="0.9" fill="#9a9a9a"/>
<circle cx="176.1" cy="117.1" r="0.46" fill="rgb(232,232,232)"/>
<circle cx="130.3" cy="73.5" r="1.2" fill="#9a9a9a"/>
<circle cx="130.1" cy="73.3" r="0.58" fill="rgb(245,245,245)"/>
<circle cx="165.4" cy="70.7" r="1.1" fill="#9a9a9a"/>
<circle cx="165.2" cy="70.5" r="0.57" fill="rgb(241,241,241)"/>
<circle cx="133.6" cy="117.1" r="1.2" fill="#9a9a9a"/>
<circle cx="133.4" cy="116.9" r="0.58" fill="rgb(232,232,232)"/>
<circle cx="128.3" cy="72.3" r="1.0" fill="#9a9a9a"/>
<circle cx="128.1" cy="72.1" r="0.52" fill="rgb(240,240,240)"/>
<circle cx="171.6" cy="116.4" r="1.1" fill="#9a9a9a"/>
<circle cx="171.4" cy="116.2" r="0.54" fill="rgb(233,233,233)"/>
<circle cx="133.5" cy="85.9" r="1.2" fill="#9a9a9a"/>
<circle cx="133.3" cy="85.7" r="0.60" fill="rgb(222,222,222)"/>
<circle cx="117.0" cy="92.1" r="1.0" fill="#9a9a9a"/>
<circle cx="116.8" cy="91.9" r="0.50" fill="rgb(215,215,215)"/>
<circle cx="134.6" cy="86.1" r="0.9" fill="#9a9a9a"/>
<circle cx="134.4" cy="85.9" r="0.46" fill="rgb(234,234,234)"/>
<circle cx="144.0" cy="118.4" r="1.0" fill="#9a9a9a"/>
<circle cx="143.8" cy="118.2" r="0.51" fill="rgb(238,238,238)"/>
<circle cx="168.4" cy="83.1" r="1.0" fill="#9a9a9a"/>
<circle cx="168.2" cy="82.9" r="0.50" fill="rgb(230,230,230)"/>
<circle cx="144.8" cy="96.3" r="1.2" fill="#9a9a9a"/>
<circle cx="144.6" cy="96.1" r="0.61" fill="rgb(250,250,250)"/>
<circle cx="142.0" cy="77.4" r="0.9" fill="#9a9a9a"/>
<circle cx="141.8" cy="77.2" r="0.47" fill="rgb(241,241,241)"/>
<circle cx="169.5" cy="112.9" r="1.2" fill="#9a9a9a"/>
<circle cx="169.3" cy="112.7" r="0.60" fill="rgb(222,222,222)"/>
<circle cx="172.7" cy="113.7" r="1.2" fill="#9a9a9a"/>
<circle cx="172.5" cy="113.5" r="0.61" fill="rgb(225,225,225)"/>
<circle cx="160.4" cy="81.6" r="1.1" fill="#9a9a9a"/>
<circle cx="160.2" cy="81.4" r="0.56" fill="rgb(222,222,222)"/>
<circle cx="150.6" cy="118.1" r="1.2" fill="#9a9a9a"/>
<circle cx="150.4" cy="117.9" r="0.59" fill="rgb(240,240,240)"/>
<circle cx="164.6" cy="105.6" r="1.2" fill="#9a9a9a"/>
<circle cx="164.4" cy="105.4" r="0.60" fill="rgb(236,236,236)"/>
<circle cx="186.3" cy="110.2" r="1.0" fill="#9a9a9a"/>
<circle cx="186.1" cy="110.0" r="0.52" fill="rgb(246,246,246)"/>
<circle cx="162.4" cy="74.2" r="1.2" fill="#9a9a9a"/>
<circle cx="162.2" cy="74.0" r="0.59" fill="rgb(237,237,237)"/>
<circle cx="159.3" cy="71.6" r="1.2" fill="#9a9a9a"/>
<circle cx="159.1" cy="71.4" r="0.60" fill="rgb(224,224,224)"/>
<circle cx="166.3" cy="89.8" r="1.1" fill="#9a9a9a"/>
<circle cx="166.1" cy="89.6" r="0.54" fill="rgb(248,248,248)"/>
<circle cx="154.8" cy="103.4" r="1.0" fill="#9a9a9a"/>
<circle cx="154.6" cy="103.2" r="0.52" fill="rgb(233,233,233)"/>
<circle cx="146.3" cy="102.5" r="0.9" fill="#9a9a9a"/>
<circle cx="146.1" cy="102.3" r="0.47" fill="rgb(236,236,236)"/>
<circle cx="147.3" cy="98.1" r="1.1" fill="#9a9a9a"/>
<circle cx="147.1" cy="97.9" r="0.57" fill="rgb(241,241,241)"/>
<circle cx="148.6" cy="101.5" r="0.9" fill="#9a9a9a"/>
<circle cx="148.4" cy="101.3" r="0.46" fill="rgb(215,215,215)"/>
<circle cx="148.4" cy="86.7" r="1.2" fill="#9a9a9a"/>
<circle cx="148.2" cy="86.5" r="0.60" fill="rgb(230,230,230)"/>
<circle cx="153.9" cy="88.5" r="1.1" fill="#9a9a9a"/>
<circle cx="153.7" cy="88.3" r="0.55" fill="rgb(240,240,240)"/>
<circle cx="174.2" cy="108.5" r="1.0" fill="#9a9a9a"/>
<circle cx="174.0" cy="108.3" r="0.49" fill="rgb(232,232,232)"/>
<circle cx="177.5" cy="87.3" r="1.2" fill="#9a9a9a"/>
<circle cx="177.3" cy="87.1" r="0.59" fill="rgb(223,223,223)"/>
<circle cx="118.7" cy="117.5" r="1.0" fill="#9a9a9a"/>
<circle cx="118.5" cy="117.3" r="0.48" fill="rgb(230,230,230)"/>
<circle cx="133.4" cy="102.1" r="1.1" fill="#9a9a9a"/>
<circle cx="133.2" cy="101.9" r="0.54" fill="rgb(233,233,233)"/>
<circle cx="174.3" cy="73.5" r="1.2" fill="#9a9a9a"/>
<circle cx="174.1" cy="73.3" r="0.61" fill="rgb(239,239,239)"/>
<circle cx="172.2" cy="102.3" r="1.2" fill="#9a9a9a"/>
<circle cx="172.0" cy="102.1" r="0.60" fill="rgb(223,223,223)"/>
<circle cx="181.4" cy="107.3" r="1.1" fill="#9a9a9a"/>
<circle cx="181.2" cy="107.1" r="0.56" fill="rgb(239,239,239)"/>
<circle cx="133.1" cy="111.0" r="1.1" fill="#9a9a9a"/>
<circle cx="132.9" cy="110.8" r="0.56" fill="rgb(232,232,232)"/>
<circle cx="176.6" cy="86.9" r="1.1" fill="#9a9a9a"/>
<circle cx="176.4" cy="86.7" r="0.57" fill="rgb(247,247,247)"/>
<circle cx="157.0" cy="97.8" r="1.0" fill="#9a9a9a"/>
<circle cx="156.8" cy="97.6" r="0.50" fill="rgb(228,228,228)"/>
<circle cx="187.0" cy="73.2" r="1.2" fill="#9a9a9a"/>
<circle cx="186.8" cy="73.0" r="0.61" fill="rgb(234,234,234)"/>
<circle cx="169.3" cy="87.7" r="0.9" fill="#9a9a9a"/>
<circle cx="169.1" cy="87.5" r="0.47" fill="rgb(220,220,220)"/>
<circle cx="129.0" cy="78.2" r="1.0" fill="#9a9a9a"/>
<circle cx="128.8" cy="78.0" r="0.51" fill="rgb(248,248,248)"/>
<circle cx="140.7" cy="102.8" r="0.9" fill="#9a9a9a"/>
<circle cx="140.5" cy="102.6" r="0.46" fill="rgb(235,235,235)"/>
<circle cx="125.1" cy="102.2" r="1.0" fill="#9a9a9a"/>
<circle cx="124.9" cy="102.0" r="0.49" fill="rgb(244,244,244)"/>
<circle cx="127.0" cy="116.1" r="1.1" fill="#9a9a9a"/>
<circle cx="126.8" cy="115.9" r="0.56" fill="rgb(223,223,223)"/>
<circle cx="176.5" cy="101.8" r="1.1" fill="#9a9a9a"/>
<circle cx="176.3" cy="101.6" r="0.53" fill="rgb(247,247,247)"/>
<circle cx="180.5" cy="85.7" r="0.9" fill="#9a9a9a"/>
<circle cx="180.3" cy="85.5" r="0.46" fill="rgb(243,243,243)"/>
<circle cx="140.4" cy="112.1" r="1.1" fill="#9a9a9a"/>
<circle cx="140.2" cy="111.9" r="0.55" fill="rgb(217,217,217)"/>
<circle cx="145.2" cy="90.0" r="0.9" fill="#9a9a9a"/>
<circle cx="145.0" cy="89.8" r="0.46" fill="rgb(244,244,244)"/>
<circle cx="165.3" cy="88.3" r="0.9" fill="#9a9a9a"/>
<circle cx="165.1" cy="88.1" r="0.47" fill="rgb(229,229,229)"/>
<circle cx="140.6" cy="102.3" r="1.0" fill="#9a9a9a"/>
<circle cx="140.4" cy="102.1" r="0.50" fill="rgb(236,236,236)"/>
<circle cx="152.1" cy="84.7" r="1.2" fill="#9a9a9a"/>
<circle cx="151.9" cy="84.5" r="0.62" fill="rgb(248,248,248)"/>
<circle cx="162.3" cy="83.4" r="1.1" fill="#9a9a9a"/>
<circle cx="162.1" cy="83.2" r="0.55" fill="rgb(228,228,228)"/>
<circle cx="135.2" cy="91.7" r="1.1" fill="#9a9a9a"/>
<circle cx="135.0" cy="91.5" r="0.55" fill="rgb(228,228,228)"/>
<circle cx="122.2" cy="100.9" r="1.0" fill="#9a9a9a"/>
<circle cx="122.0" cy="100.7" r="0.50" fill="rgb(249,249,249)"/>
<circle cx="167.3" cy="78.5" r="1.1" fill="#9a9a9a"/>
<circle cx="167.1" cy="78.3" r="0.57" fill="rgb(229,229,229)"/>
<circle cx="151.8" cy="70.3" r="1.2" fill="#9a9a9a"/>
<circle cx="151.6" cy="70.1" r="0.59" fill="rgb(216,216,216)"/>
<circle cx="123.5" cy="93.8" r="1.2" fill="#9a9a9a"/>
<circle cx="123.3" cy="93.6" r="0.59" fill="rgb(232,232,232)"/>
<circle cx="162.2" cy="100.3" r="1.0" fill="#9a9a9a"/>
<circle cx="162.0" cy="100.1" r="0.52" fill="rgb(219,219,219)"/>
<circle cx="152.2" cy="109.0" r="1.2" fill="#9a9a9a"/>
<circle cx="152.0" cy="108.8" r="0.62" fill="rgb(232,232,232)"/>
<circle cx="132.5" cy="97.1" r="1.2" fill="#9a9a9a"/>
<circle cx="132.3" cy="96.9" r="0.58" fill="rgb(222,222,222)"/>
<circle cx="114.1" cy="82.6" r="1.0" fill="#9a9a9a"/>
<circle cx="113.9" cy="82.4" r="0.52" fill="rgb(247,247,247)"/>
<circle cx="157.1" cy="84.9" r="1.2" fill="#9a9a9a"/>
<circle cx="156.9" cy="84.7" r="0.62" fill="rgb(241,241,241)"/>
<circle cx="153.8" cy="114.7" r="1.0" fill="#9a9a9a"/>
<circle cx="153.6" cy="114.5" r="0.49" fill="rgb(218,218,218)"/>
<circle cx="132.7" cy="82.9" r="1.2" fill="#9a9a9a"/>
<circle cx="132.5" cy="82.7" r="0.59" fill="rgb(249,249,249)"/>
<circle cx="146.0" cy="95.6" r="1.0" fill="#9a9a9a"/>
<circle cx="145.8" cy="95.4" r="0.51" fill="rgb(231,231,231)"/>
<circle cx="150.0" cy="74.3" r="0.9" fill="#9a9a9a"/>
<circle cx="149.8" cy="74.1" r="0.46" fill="rgb(245,245,245)"/>
<circle cx="123.4" cy="116.7" r="1.1" fill="#9a9a9a"/>
<circle cx="123.2" cy="116.5" r="0.55" fill="rgb(242,242,242)"/>
<circle cx="135.2" cy="108.0" r="1.1" fill="#9a9a9a"/>
<circle cx="135.0" cy="107.8" r="0.53" fill="rgb(244,244,244)"/>
<circle cx="181.2" cy="104.9" r="1.0" fill="#9a9a9a"/>
<circle cx="181.0" cy="104.7" r="0.48" fill="rgb(227,227,227)"/>
<circle cx="141.4" cy="72.0" r="0.9" fill="#9a9a9a"/>
<circle cx="141.2" cy="71.8" r="0.47" fill="rgb(225,225,225)"/>
<circle cx="169.0" cy="117.2" r="1.0" fill="#9a9a9a"/>
<circle cx="168.8" cy="117.0" r="0.50" fill="rgb(227,227,227)"/>
<circle cx="145.5" cy="99.6" r="0.9" fill="#9a9a9a"/>
<circle cx="145.3" cy="99.4" r="0.46" fill="rgb(248,248,248)"/>
<circle cx="132.7" cy="81.6" r="0.9" fill="#9a9a9a"/>
<circle cx="132.5" cy="81.4" r="0.45" fill="rgb(227,227,227)"/>
<circle cx="176.0" cy="76.3" r="1.2" fill="#9a9a9a"/>
<circle cx="175.8" cy="76.1" r="0.59" fill="rgb(227,227,227)"/>
<circle cx="159.2" cy="117.6" r="1.2" fill="#9a9a9a"/>
<circle cx="159.0" cy="117.4" r="0.59" fill="rgb(227,227,227)"/>
<circle cx="176.2" cy="98.3" r="1.1" fill="#9a9a9a"/>
<circle cx="176.0" cy="98.1" r="0.55" fill="rgb(233,233,233)"/>
<circle cx="118.6" cy="79.9" r="1.2" fill="#9a9a9a"/>
<circle cx="118.4" cy="79.7" r="0.58" fill="rgb(216,216,216)"/>
<circle cx="176.8" cy="73.9" r="1.2" fill="#9a9a9a"/>
<circle cx="176.6" cy="73.7" r="0.61" fill="rgb(216,216,216)"/>
<circle cx="146.5" cy="89.2" r="0.9" fill="#9a9a9a"/>
<circle cx="146.3" cy="89.0" r="0.46" fill="rgb(228,228,228)"/>
<circle cx="144.3" cy="115.6" r="1.0" fill="#9a9a9a"/>
<circle cx="144.1" cy="115.4" r="0.52" fill="rgb(249,249,249)"/>
<circle cx="160.9" cy="108.6" r="1.0" fill="#9a9a9a"/>
<circle cx="160.7" cy="108.4" r="0.50" fill="rgb(237,237,237)"/>
<circle cx="121.9" cy="97.4" r="1.1" fill="#9a9a9a"/>
<circle cx="121.7" cy="97.2" r="0.56" fill="rgb(235,235,235)"/>
<circle cx="182.3" cy="104.1" r="1.2" fill="#9a9a9a"/>
<circle cx="182.1" cy="103.9" r="0.62" fill="rgb(234,234,234)"/>
<circle cx="145.8" cy="118.5" r="0.9" fill="#9a9a9a"/>
<circle cx="145.6" cy="118.3" r="0.47" fill="rgb(226,226,226)"/>
<circle cx="126.9" cy="73.2" r="1.1" fill="#9a9a9a"/>
<circle cx="126.7" cy="73.0" r="0.57" fill="rgb(241,241,241)"/>
<circle cx="143.0" cy="76.6" r="1.2" fill="#9a9a9a"/>
<circle cx="142.8" cy="76.4" r="0.61" fill="rgb(244,244,244)"/>
<circle cx="169.0" cy="70.5" r="1.2" fill="#9a9a9a"/>
<circle cx="168.8" cy="70.3" r="0.59" fill="rgb(236,236,236)"/>
<circle cx="131.0" cy="79.8" r="0.9" fill="#9a9a9a"/>
<circle cx="130.8" cy="79.6" r="0.47" fill="rgb(224,224,224)"/>
<circle cx="153.5" cy="115.1" r="1.0" fill="#9a9a9a"/>
<circle cx="153.3" cy="114.9" r="0.51" fill="rgb(245,245,245)"/>
<circle cx="135.5" cy="86.1" r="1.1" fill="#9a9a9a"/>
<circle cx="135.3" cy="85.9" r="0.54" fill="rgb(220,220,220)"/>
<circle cx="142.3" cy="92.4" r="1.2" fill="#9a9a9a"/>
<circle cx="142.1" cy="92.2" r="0.61" fill="rgb(235,235,235)"/>
<circle cx="120.6" cy="111.3" r="1.1" fill="#9a9a9a"/>
<circle cx="120.4" cy="111.1" r="0.53" fill="rgb(223,223,223)"/>
<circle cx="155.7" cy="70.8" r="1.2" fill="#9a9a9a"/>
<circle cx="155.5" cy="70.6" r="0.60" fill="rgb(248,248,248)"/>
<circle cx="150.3" cy="111.3" r="1.1" fill="#9a9a9a"/>
<circle cx="150.1" cy="111.1" r="0.55" fill="rgb(247,247,247)"/>
<circle cx="129.7" cy="92.1" r="1.0" fill="#9a9a9a"/>
<circle cx="129.5" cy="91.9" r="0.52" fill="rgb(237,237,237)"/>
<circle cx="174.2" cy="79.7" r="1.0" fill="#9a9a9a"/>
<circle cx="174.0" cy="79.5" r="0.49" fill="rgb(216,216,216)"/>
<circle cx="138.5" cy="112.0" r="1.2" fill="#9a9a9a"/>
<circle cx="138.3" cy="111.8" r="0.61" fill="rgb(227,227,227)"/>
<circle cx="154.2" cy="106.4" r="1.1" fill="#9a9a9a"/>
<circle cx="154.0" cy="106.2" r="0.57" fill="rgb(248,248,248)"/>
<circle cx="175.6" cy="76.8" r="1.1" fill="#9a9a9a"/>
<circle cx="175.4" cy="76.6" r="0.53" fill="rgb(239,239,239)"/>
<circle cx="143.7" cy="72.4" r="1.0" fill="#9a9a9a"/>
<circle cx="143.5" cy="72.2" r="0.48" fill="rgb(242,242,242)"/>
<circle cx="159.7" cy="85.6" r="0.9" fill="#9a9a9a"/>
<circle cx="159.5" cy="85.4" r="0.47" fill="rgb(215,215,215)"/>
<circle cx="127.9" cy="117.8" r="0.9" fill="#9a9a9a"/>
<circle cx="127.7" cy="117.6" r="0.47" fill="rgb(249,249,249)"/>
<circle cx="127.6" cy="96.2" r="1.0" fill="#9a9a9a"/>
<circle cx="127.4" cy="96.0" r="0.52" fill="rgb(215,215,215)"/>
<circle cx="152.0" cy="74.2" r="1.2" fill="#9a9a9a"/>
<circle cx="151.8" cy="74.0" r="0.59" fill="rgb(220,220,220)"/>
<circle cx="142.0" cy="102.3" r="1.1" fill="#9a9a9a"/>
<circle cx="141.8" cy="102.1" r="0.53" fill="rgb(217,217,217)"/>
<circle cx="135.8" cy="89.2" r="1.0" fill="#9a9a9a"/>
<circle cx="135.6" cy="89.0" r="0.49" fill="rgb(249,249,249)"/>
<circle cx="178.7" cy="103.2" r="1.2" fill="#9a9a9a"/>
<circle cx="178.5" cy="103.0" r="0.61" fill="rgb(235,235,235)"/>
<circle cx="136.4" cy="82.1" r="1.0" fill="#9a9a9a"/>
<circle cx="136.2" cy="81.9" r="0.51" fill="rgb(250,250,250)"/>
<circle cx="141.8" cy="91.2" r="1.2" fill="#9a9a9a"/>
<circle cx="141.6" cy="91.0" r="0.60" fill="rgb(246,246,246)"/>
<circle cx="153.4" cy="84.9" r="1.2" fill="#9a9a9a"/>
<circle cx="153.2" cy="84.7" r="0.58" fill="rgb(228,228,228)"/>
<circle cx="123.6" cy="80.1" r="0.9" fill="#9a9a9a"/>
<circle cx="123.4" cy="79.9" r="0.45" fill="rgb(228,228,228)"/>
<circle cx="161.6" cy="115.4" r="1.2" fill="#9a9a9a"/>
<circle cx="161.4" cy="115.2" r="0.61" fill="rgb(239,239,239)"/>
<circle cx="161.9" cy="104.6" r="1.2" fill="#9a9a9a"/>
<circle cx="161.7" cy="104.4" r="0.60" fill="rgb(221,221,221)"/>
<circle cx="124.3" cy="115.3" r="1.1" fill="#9a9a9a"/>
<circle cx="124.1" cy="115.1" r="0.55" fill="rgb(223,223,223)"/>
<circle cx="138.9" cy="92.2" r="1.2" fill="#9a9a9a"/>
<circle cx="138.7" cy="92.0" r="0.62" fill="rgb(243,243,243)"/>
<circle cx="165.6" cy="102.3" r="1.1" fill="#9a9a9a"/>
<circle cx="165.4" cy="102.1" r="0.53" fill="rgb(243,243,243)"/>
<circle cx="167.2" cy="70.4" r="1.2" fill="#9a9a9a"/>
<circle cx="167.0" cy="70.2" r="0.58" fill="rgb(218,218,218)"/>
<circle cx="118.9" cy="116.3" r="1.2" fill="#9a9a9a"/>
<circle cx="118.7" cy="116.1" r="0.60" fill="rgb(225,225,225)"/>
<circle cx="174.1" cy="71.7" r="1.0" fill="#9a9a9a"/>
<circle cx="173.9" cy="71.5" r="0.52" fill="rgb(230,230,230)"/>
<circle cx="130.0" cy="91.4" r="1.2" fill="#9a9a9a"/>
<circle cx="129.8" cy="91.2" r="0.58" fill="rgb(245,245,245)"/>
<circle cx="128.6" cy="80.2" r="1.1" fill="#9a9a9a"/>
<circle cx="128.4" cy="80.0" r="0.57" fill="rgb(245,245,245)"/>
<circle cx="185.0" cy="99.7" r="1.1" fill="#9a9a9a"/>
<circle cx="184.8" cy="99.5" r="0.56" fill="rgb(222,222,222)"/>
<circle cx="143.6" cy="105.4" r="1.2" fill="#9a9a9a"/>
<circle cx="143.4" cy="105.2" r="0.61" fill="rgb(239,239,239)"/>
<circle cx="128.9" cy="79.9" r="0.9" fill="#9a9a9a"/>
<circle cx="128.7" cy="79.7" r="0.46" fill="rgb(230,230,230)"/>
<circle cx="127.1" cy="111.8" r="1.2" fill="#9a9a9a"/>
<circle cx="126.9" cy="111.6" r="0.59" fill="rgb(229,229,229)"/>
<circle cx="123.1" cy="76.7" r="0.9" fill="#9a9a9a"/>
<circle cx="122.9" cy="76.5" r="0.45" fill="rgb(229,229,229)"/>
<circle cx="178.2" cy="109.7" r="1.1" fill="#9a9a9a"/>
<circle cx="178.0" cy="109.5" r="0.56" fill="rgb(217,217,217)"/>
<circle cx="150.3" cy="70.7" r="1.0" fill="#9a9a9a"/>
<circle cx="150.1" cy="70.5" r="0.49" fill="rgb(227,227,227)"/>
<circle cx="166.7" cy="105.9" r="1.2" fill="#9a9a9a"/>
<circle cx="166.5" cy="105.7" r="0.59" fill="rgb(217,217,217)"/>
<circle cx="126.0" cy="80.8" r="1.1" fill="#9a9a9a"/>
<circle cx="125.8" cy="80.6" r="0.53" fill="rgb(240,240,240)"/>
<circle cx="166.6" cy="106.5" r="1.0" fill="#9a9a9a"/>
<circle cx="166.4" cy="106.3" r="0.49" fill="rgb(229,229,229)"/>
<circle cx="172.5" cy="96.0" r="1.2" fill="#9a9a9a"/>
<circle cx="172.3" cy="95.8" r="0.59" fill="rgb(217,217,217)"/>
<circle cx="125.6" cy="107.9" r="1.2" fill="#9a9a9a"/>
<circle cx="125.4" cy="107.7" r="0.61" fill="rgb(241,241,241)"/>
<circle cx="166.2" cy="95.1" r="1.0" fill="#9a9a9a"/>
<circle cx="166.0" cy="94.9" r="0.50" fill="rgb(224,224,224)"/>
<circle cx="148.0" cy="79.8" r="1.1" fill="#9a9a9a"/>
<circle cx="147.8" cy="79.6" r="0.53" fill="rgb(245,245,245)"/>
<circle cx="120.7" cy="72.5" r="1.2" fill="#9a9a9a"/>
<circle cx="120.5" cy="72.3" r="0.58" fill="rgb(221,221,221)"/>
<circle cx="130.3" cy="110.6" r="1.2" fill="#9a9a9a"/>
<circle cx="130.1" cy="110.4" r="0.58" fill="rgb(221,221,221)"/>
<circle cx="165.6" cy="91.5" r="1.0" fill="#9a9a9a"/>
<circle cx="165.4" cy="91.3" r="0.48" fill="rgb(248,248,248)"/>
<circle cx="145.0" cy="112.3" r="1.0" fill="#9a9a9a"/>
<circle cx="144.8" cy="112.1" r="0.48" fill="rgb(247,247,247)"/>
<circle cx="181.4" cy="76.5" r="1.0" fill="#9a9a9a"/>
<circle cx="181.2" cy="76.3" r="0.51" fill="rgb(247,247,247)"/>
<circle cx="125.7" cy="91.7" r="1.2" fill="#9a9a9a"/>
<circle cx="125.5" cy="91.5" r="0.59" fill="rgb(239,239,239)"/>
<circle cx="169.3" cy="112.6" r="1.2" fill="#9a9a9a"/>
<circle cx="169.1" cy="112.4" r="0.61" fill="rgb(215,215,215)"/>
<circle cx="172.2" cy="104.4" r="0.9" fill="#9a9a9a"/>
<circle cx="172.0" cy="104.2" r="0.46" fill="rgb(216,216,216)"/>
<circle cx="166.5" cy="85.1" r="1.1" fill="#9a9a9a"/>
<circle cx="166.3" cy="84.9" r="0.55" fill="rgb(220,220,220)"/>
<circle cx="132.8" cy="96.7" r="1.1" fill="#9a9a9a"/>
<circle cx="132.6" cy="96.5" r="0.54" fill="rgb(249,249,249)"/>
<circle cx="129.7" cy="116.0" r="0.9" fill="#9a9a9a"/>
<circle cx="129.5" cy="115.8" r="0.46" fill="rgb(218,218,218)"/>
<circle cx="162.6" cy="81.2" r="1.1" fill="#9a9a9a"/>
<circle cx="162.4" cy="81.0" r="0.57" fill="rgb(233,233,233)"/>
<circle cx="185.1" cy="86.0" r="1.1" fill="#9a9a9a"/>
<circle cx="184.9" cy="85.8" r="0.53" fill="rgb(215,215,215)"/>
<circle cx="125.4" cy="84.2" r="1.1" fill="#9a9a9a"/>
<circle cx="125.2" cy="84.0" r="0.55" fill="rgb(228,228,228)"/>
<circle cx="161.8" cy="103.8" r="0.9" fill="#9a9a9a"/>
<circle cx="161.6" cy="103.6" r="0.45" fill="rgb(247,247,247)"/>
<circle cx="128.5" cy="77.3" r="1.2" fill="#9a9a9a"/>
<circle cx="128.3" cy="77.1" r="0.59" fill="rgb(244,244,244)"/>
<circle cx="127.4" cy="86.2" r="1.0" fill="#9a9a9a"/>
<circle cx="127.2" cy="86.0" r="0.49" fill="rgb(228,228,228)"/>
<circle cx="143.3" cy="71.9" r="1.1" fill="#9a9a9a"/>
<circle cx="143.1" cy="71.7" r="0.57" fill="rgb(222,222,222)"/>
<circle cx="139.7" cy="102.0" r="1.1" fill="#9a9a9a"/>
<circle cx="139.5" cy="101.8" r="0.56" fill="rgb(220,220,220)"/>
<circle cx="129.4" cy="102.0" r="1.1" fill="#9a9a9a"/>
<circle cx="129.2" cy="101.8" r="0.55" fill="rgb(237,237,237)"/>
<circle cx="152.3" cy="73.6" r="1.1" fill="#9a9a9a"/>
<circle cx="152.1" cy="73.4" r="0.57" fill="rgb(220,220,220)"/>
<circle cx="149.8" cy="70.9" r="1.2" fill="#9a9a9a"/>
<circle cx="149.6" cy="70.7" r="0.58" fill="rgb(221,221,221)"/>
<circle cx="171.0" cy="113.3" r="0.9" fill="#9a9a9a"/>
<circle cx="170.8" cy="113.1" r="0.47" fill="rgb(232,232,232)"/>
<circle cx="180.6" cy="79.8" r="1.0" fill="#9a9a9a"/>
<circle cx="180.4" cy="79.6" r="0.50" fill="rgb(233,233,233)"/>
<circle cx="134.4" cy="84.8" r="1.0" fill="#9a9a9a"/>
<circle cx="134.2" cy="84.6" r="0.48" fill="rgb(236,236,236)"/>
<circle cx="156.6" cy="106.8" r="1.2" fill="#9a9a9a"/>
<circle cx="156.4" cy="106.6" r="0.58" fill="rgb(215,215,215)"/>
<circle cx="128.7" cy="92.9" r="0.9" fill="#9a9a9a"/>
<circle cx="128.5" cy="92.7" r="0.46" fill="rgb(217,217,217)"/>
<circle cx="170.0" cy="107.3" r="0.9" fill="#9a9a9a"/>
<circle cx="169.8" cy="107.1" r="0.47" fill="rgb(228,228,228)"/>
<circle cx="180.0" cy="98.2" r="1.1" fill="#9a9a9a"/>
<circle cx="179.8" cy="98.0" r="0.54" fill="rgb(244,244,244)"/>
<circle cx="135.9" cy="98.3" r="1.2" fill="#9a9a9a"/>
<circle cx="135.7" cy="98.1" r="0.62" fill="rgb(228,228,228)"/>
<circle cx="121.3" cy="70.1" r="1.2" fill="#9a9a9a"/>
<circle cx="121.1" cy="69.9" r="0.61" fill="rgb(220,220,220)"/>
<circle cx="128.2" cy="77.4" r="1.2" fill="#9a9a9a"/>
<circle cx="128.0" cy="77.2" r="0.61" fill="rgb(218,218,218)"/>
<circle cx="135.9" cy="78.4" r="1.2" fill="#9a9a9a"/>
<circle cx="135.7" cy="78.2" r="0.58" fill="rgb(216,216,216)"/>
<circle cx="139.6" cy="93.4" r="1.1" fill="#9a9a9a"/>
<circle cx="139.4" cy="93.2" r="0.57" fill="rgb(223,223,223)"/>
<circle cx="138.1" cy="87.7" r="1.2" fill="#9a9a9a"/>
<circle cx="137.9" cy="87.5" r="0.60" fill="rgb(242,242,242)"/>
<circle cx="122.0" cy="110.5" r="1.2" fill="#9a9a9a"/>
<circle cx="121.8" cy="110.3" r="0.59" fill="rgb(218,218,218)"/>
<circle cx="173.1" cy="105.2" r="1.0" fill="#9a9a9a"/>
<circle cx="172.9" cy="105.0" r="0.48" fill="rgb(233,233,233)"/>
<circle cx="147.2" cy="106.4" r="1.1" fill="#9a9a9a"/>
<circle cx="147.0" cy="106.2" r="0.53" fill="rgb(223,223,223)"/>
<circle cx="122.2" cy="77.9" r="1.0" fill="#9a9a9a"/>
<circle cx="122.0" cy="77.7" r="0.49" fill="rgb(234,234,234)"/>
<circle cx="142.7" cy="71.7" r="1.2" fill="#9a9a9a"/>
<circle cx="142.5" cy="71.5" r="0.60" fill="rgb(216,216,216)"/>
<circle cx="116.9" cy="98.2" r="1.0" fill="#9a9a9a"/>
<circle cx="116.7" cy="98.0" r="0.51" fill="rgb(221,221,221)"/>
<circle cx="144.1" cy="103.9" r="1.0" fill="#9a9a9a"/>
<circle cx="143.9" cy="103.7" r="0.48" fill="rgb(225,225,225)"/>
<circle cx="144.3" cy="110.8" r="1.2" fill="#9a9a9a"/>
<circle cx="144.1" cy="110.6" r="0.62" fill="rgb(245,245,245)"/>
<circle cx="119.6" cy="105.4" r="1.2" fill="#9a9a9a"/>
<circle cx="119.4" cy="105.2" r="0.58" fill="rgb(235,235,235)"/>
<circle cx="167.6" cy="87.5" r="1.0" fill="#9a9a9a"/>
<circle cx="167.4" cy="87.3" r="0.50" fill="rgb(230,230,230)"/>
<circle cx="162.4" cy="74.4" r="0.9" fill="#9a9a9a"/>
<circle cx="162.2" cy="74.2" r="0.45" fill="rgb(249,249,249)"/>
<circle cx="114.4" cy="101.4" r="0.9" fill="#9a9a9a"/>
<circle cx="114.2" cy="101.2" r="0.45" fill="rgb(229,229,229)"/>
<circle cx="175.1" cy="84.8" r="1.1" fill="#9a9a9a"/>
<circle cx="174.9" cy="84.6" r="0.55" fill="rgb(237,237,237)"/>
<circle cx="133.1" cy="75.2" r="1.2" fill="#9a9a9a"/>
<circle cx="132.9" cy="75.0" r="0.61" fill="rgb(236,236,236)"/>
<circle cx="131.4" cy="77.5" r="0.9" fill="#9a9a9a"/>
<circle cx="131.2" cy="77.3" r="0.45" fill="rgb(230,230,230)"/>
<circle cx="133.7" cy="96.3" r="1.2" fill="#9a9a9a"/>
<circle cx="133.5" cy="96.1" r="0.61" fill="rgb(220,220,220)"/>
<circle cx="137.7" cy="82.0" r="1.1" fill="#9a9a9a"/>
<circle cx="137.5" cy="81.8" r="0.54" fill="rgb(221,221,221)"/>
<circle cx="155.5" cy="72.0" r="0.9" fill="#9a9a9a"/>
<circle cx="155.3" cy="71.8" r="0.46" fill="rgb(235,235,235)"/>
<circle cx="132.7" cy="116.2" r="1.0" fill="#9a9a9a"/>
<circle cx="132.5" cy="116.0" r="0.52" fill="rgb(236,236,236)"/>
<circle cx="134.7" cy="97.0" r="1.0" fill="#9a9a9a"/>
<circle cx="134.5" cy="96.8" r="0.51" fill="rgb(249,249,249)"/>
<circle cx="186.1" cy="114.2" r="0.9" fill="#9a9a9a"/>
<circle cx="185.9" cy="114.0" r="0.47" fill="rgb(244,244,244)"/>
<circle cx="167.0" cy="96.0" r="1.0" fill="#9a9a9a"/>
<circle cx="166.8" cy="95.8" r="0.48" fill="rgb(248,248,248)"/>
<circle cx="131.5" cy="74.6" r="0.9" fill="#9a9a9a"/>
<circle cx="131.3" cy="74.4" r="0.46" fill="rgb(249,249,249)"/>
<circle cx="121.7" cy="72.6" r="1.0" fill="#9a9a9a"/>
<circle cx="121.5" cy="72.4" r="0.49" fill="rgb(241,241,241)"/>
<circle cx="171.8" cy="104.2" r="1.2" fill="#9a9a9a"/>
<circle cx="171.6" cy="104.0" r="0.61" fill="rgb(248,248,248)"/>
<circle cx="129.4" cy="106.2" r="1.1" fill="#9a9a9a"/>
<circle cx="129.2" cy="106.0" r="0.57" fill="rgb(220,220,220)"/>
<circle cx="120.4" cy="78.3" r="1.1" fill="#9a9a9a"/>
<circle cx="120.2" cy="78.1" r="0.56" fill="rgb(228,228,228)"/>
<circle cx="175.4" cy="118.6" r="1.0" fill="#9a9a9a"/>
<circle cx="175.2" cy="118.4" r="0.50" fill="rgb(215,215,215)"/>
<circle cx="145.0" cy="100.4" r="1.2" fill="#9a9a9a"/>
<circle cx="144.8" cy="100.2" r="0.58" fill="rgb(242,242,242)"/>
<circle cx="122.0" cy="97.7" r="1.2" fill="#9a9a9a"/>
<circle cx="121.8" cy="97.5" r="0.58" fill="rgb(226,226,226)"/>
<circle cx="122.8" cy="102.3" r="1.1" fill="#9a9a9a"/>
<circle cx="122.6" cy="102.1" r="0.56" fill="rgb(225,225,225)"/>
<circle cx="129.9" cy="81.9" r="1.1" fill="#9a9a9a"/>
<circle cx="129.7" cy="81.7" r="0.57" fill="rgb(233,233,233)"/>
<circle cx="170.6" cy="95.0" r="1.2" fill="#9a9a9a"/>
<circle cx="170.4" cy="94.8" r="0.58" fill="rgb(230,230,230)"/>
<circle cx="173.8" cy="110.0" r="1.0" fill="#9a9a9a"/>
<circle cx="173.6" cy="109.8" r="0.51" fill="rgb(216,216,216)"/>
<circle cx="119.3" cy="86.4" r="0.9" fill="#9a9a9a"/>
<circle cx="119.1" cy="86.2" r="0.47" fill="rgb(228,228,228)"/>
<circle cx="121.2" cy="80.5" r="1.1" fill="#9a9a9a"/>
<circle cx="121.0" cy="80.3" r="0.56" fill="rgb(224,224,224)"/>
<circle cx="170.4" cy="78.5" r="1.1" fill="#9a9a9a"/>
<circle cx="170.2" cy="78.3" r="0.56" fill="rgb(219,219,219)"/>
<circle cx="136.2" cy="74.1" r="1.1" fill="#9a9a9a"/>
<circle cx="136.0" cy="73.9" r="0.57" fill="rgb(234,234,234)"/>
<circle cx="169.4" cy="98.8" r="0.9" fill="#9a9a9a"/>
<circle cx="169.2" cy="98.6" r="0.46" fill="rgb(219,219,219)"/>
<circle cx="127.3" cy="85.5" r="1.1" fill="#9a9a9a"/>
<circle cx="127.1" cy="85.3" r="0.54" fill="rgb(219,219,219)"/>
<circle cx="182.0" cy="108.3" r="1.0" fill="#9a9a9a"/>
<circle cx="181.8" cy="108.1" r="0.51" fill="rgb(224,224,224)"/>
<circle cx="116.4" cy="108.4" r="1.1" fill="#9a9a9a"/>
<circle cx="116.2" cy="108.2" r="0.55" fill="rgb(246,246,246)"/>
<circle cx="124.8" cy="94.9" r="1.1" fill="#9a9a9a"/>
<circle cx="124.6" cy="94.7" r="0.56" fill="rgb(247,247,247)"/>
<circle cx="126.2" cy="108.8" r="1.1" fill="#9a9a9a"/>
<circle cx="126.0" cy="108.6" r="0.57" fill="rgb(232,232,232)"/>
<circle cx="170.2" cy="79.9" r="1.2" fill="#9a9a9a"/>
<circle cx="170.0" cy="79.7" r="0.61" fill="rgb(243,243,243)"/>
<circle cx="181.5" cy="103.4" r="1.0" fill="#9a9a9a"/>
<circle cx="181.3" cy="103.2" r="0.48" fill="rgb(221,221,221)"/>
<circle cx="165.7" cy="73.3" r="1.0" fill="#9a9a9a"/>
<circle cx="165.5" cy="73.1" r="0.49" fill="rgb(240,240,240)"/>
<circle cx="114.2" cy="112.9" r="1.0" fill="#9a9a9a"/>
<circle cx="114.0" cy="112.7" r="0.52" fill="rgb(226,226,226)"/>
<circle cx="116.8" cy="95.6" r="1.1" fill="#9a9a9a"/>
<circle cx="116.6" cy="95.4" r="0.53" fill="rgb(221,221,221)"/>
<circle cx="138.1" cy="73.4" r="1.2" fill="#9a9a9a"/>
<circle cx="137.9" cy="73.2" r="0.60" fill="rgb(244,244,244)"/>
<circle cx="158.1" cy="73.1" r="1.0" fill="#9a9a9a"/>
<circle cx="157.9" cy="72.9" r="0.51" fill="rgb(228,228,228)"/>
<circle cx="177.3" cy="72.5" r="0.9" fill="#9a9a9a"/>
<circle cx="177.1" cy="72.3" r="0.46" fill="rgb(229,229,229)"/>
<circle cx="140.7" cy="90.0" r="0.9" fill="#9a9a9a"/>
<circle cx="140.5" cy="89.8" r="0.47" fill="rgb(228,228,228)"/>
<circle cx="161.5" cy="117.3" r="1.2" fill="#9a9a9a"/>
<circle cx="161.3" cy="117.1" r="0.59" fill="rgb(236,236,236)"/>
<circle cx="156.5" cy="109.1" r="1.0" fill="#9a9a9a"/>
<circle cx="156.3" cy="108.9" r="0.50" fill="rgb(215,215,215)"/>
<circle cx="150.0" cy="107.6" r="1.2" fill="#9a9a9a"/>
<circle cx="149.8" cy="107.4" r="0.60" fill="rgb(219,219,219)"/>
<circle cx="150.2" cy="82.6" r="1.2" fill="#9a9a9a"/>
<circle cx="150.0" cy="82.4" r="0.61" fill="rgb(225,225,225)"/>
<circle cx="164.6" cy="84.8" r="1.2" fill="#9a9a9a"/>
<circle cx="164.4" cy="84.6" r="0.59" fill="rgb(234,234,234)"/>
<circle cx="117.9" cy="92.7" r="1.1" fill="#9a9a9a"/>
<circle cx="117.7" cy="92.5" r="0.57" fill="rgb(226,226,226)"/>
<circle cx="171.6" cy="103.1" r="0.9" fill="#9a9a9a"/>
<circle cx="171.4" cy="102.9" r="0.46" fill="rgb(245,245,245)"/>
<circle cx="126.0" cy="88.8" r="0.9" fill="#9a9a9a"/>
<circle cx="125.8" cy="88.6" r="0.47" fill="rgb(218,218,218)"/>
<circle cx="160.7" cy="115.7" r="1.0" fill="#9a9a9a"/>
<circle cx="160.5" cy="115.5" r="0.52" fill="rgb(220,220,220)"/>
<circle cx="151.4" cy="106.4" r="1.1" fill="#9a9a9a"/>
<circle cx="151.2" cy="106.2" r="0.55" fill="rgb(229,229,229)"/>
<circle cx="157.3" cy="101.9" r="0.9" fill="#9a9a9a"/>
<circle cx="157.1" cy="101.7" r="0.46" fill="rgb(233,233,233)"/>
<circle cx="160.2" cy="73.3" r="0.9" fill="#9a9a9a"/>
<circle cx="160.0" cy="73.1" r="0.45" fill="rgb(223,223,223)"/>
<circle cx="171.2" cy="109.1" r="1.2" fill="#9a9a9a"/>
<circle cx="171.0" cy="108.9" r="0.61" fill="rgb(237,237,237)"/>
<circle cx="168.8" cy="111.3" r="1.0" fill="#9a9a9a"/>
<circle cx="168.6" cy="111.1" r="0.51" fill="rgb(226,226,226)"/>
<circle cx="131.5" cy="98.6" r="0.9" fill="#9a9a9a"/>
<circle cx="131.3" cy="98.4" r="0.47" fill="rgb(231,231,231)"/>
<circle cx="155.0" cy="112.7" r="1.0" fill="#9a9a9a"/>
<circle cx="154.8" cy="112.5" r="0.51" fill="rgb(225,225,225)"/>
<circle cx="156.0" cy="115.4" r="1.1" fill="#9a9a9a"/>
<circle cx="155.8" cy="115.2" r="0.54" fill="rgb(222,222,222)"/>
<circle cx="178.9" cy="72.4" r="1.2" fill="#9a9a9a"/>
<circle cx="178.7" cy="72.2" r="0.60" fill="rgb(225,225,225)"/>
<circle cx="162.4" cy="89.2" r="1.0" fill="#9a9a9a"/>
<circle cx="162.2" cy="89.0" r="0.50" fill="rgb(239,239,239)"/>
<circle cx="159.8" cy="107.7" r="1.2" fill="#9a9a9a"/>
<circle cx="159.6" cy="107.5" r="0.61" fill="rgb(216,216,216)"/>
<circle cx="139.0" cy="88.5" r="1.0" fill="#9a9a9a"/>
<circle cx="138.8" cy="88.3" r="0.49" fill="rgb(227,227,227)"/>
<circle cx="183.2" cy="81.1" r="1.2" fill="#9a9a9a"/>
<circle cx="183.0" cy="80.9" r="0.61" fill="rgb(239,239,239)"/>
<circle cx="163.1" cy="108.6" r="1.2" fill="#9a9a9a"/>
<circle cx="162.9" cy="108.4" r="0.60" fill="rgb(230,230,230)"/>
<circle cx="162.4" cy="114.0" r="1.1" fill="#9a9a9a"/>
<circle cx="162.2" cy="113.8" r="0.56" fill="rgb(245,245,245)"/>
<circle cx="145.1" cy="84.8" r="1.0" fill="#9a9a9a"/>
<circle cx="144.9" cy="84.6" r="0.50" fill="rgb(215,215,215)"/>
<circle cx="135.9" cy="99.4" r="0.9" fill="#9a9a9a"/>
<circle cx="135.7" cy="99.2" r="0.46" fill="rgb(239,239,239)"/>
<circle cx="183.4" cy="112.8" r="1.2" fill="#9a9a9a"/>
<circle cx="183.2" cy="112.6" r="0.60" fill="rgb(230,230,230)"/>
<circle cx="148.7" cy="90.0" r="1.0" fill="#9a9a9a"/>
<circle cx="148.5" cy="89.8" r="0.50" fill="rgb(245,245,245)"/>
<circle cx="135.9" cy="77.1" r="1.1" fill="#9a9a9a"/>
<circle cx="135.7" cy="76.9" r="0.53" fill="rgb(222,222,222)"/>
<circle cx="153.8" cy="74.0" r="0.9" fill="#9a9a9a"/>
<circle cx="153.6" cy="73.8" r="0.47" fill="rgb(250,250,250)"/>
<circle cx="142.8" cy="92.7" r="1.1" fill="#9a9a9a"/>
<circle cx="142.6" cy="92.5" r="0.57" fill="rgb(220,220,220)"/>
<circle cx="116.4" cy="86.4" r="1.0" fill="#9a9a9a"/>
<circle cx="116.2" cy="86.2" r="0.52" fill="rgb(246,246,246)"/>
<rect x="192" y="69" width="75.5" height="50.7" fill="#7b7b7b"/>
<circle cx="228.2" cy="78.5" r="1.0" fill="#9a9a9a"/>
<circle cx="228.0" cy="78.3" r="0.48" fill="rgb(239,239,239)"/>
<circle cx="210.0" cy="91.4" r="0.9" fill="#9a9a9a"/>
<circle cx="209.8" cy="91.2" r="0.45" fill="rgb(227,227,227)"/>
<circle cx="201.7" cy="73.3" r="1.0" fill="#9a9a9a"/>
<circle cx="201.5" cy="73.1" r="0.49" fill="rgb(223,223,223)"/>
<circle cx="219.5" cy="92.8" r="1.0" fill="#9a9a9a"/>
<circle cx="219.3" cy="92.6" r="0.48" fill="rgb(229,229,229)"/>
<circle cx="261.8" cy="97.0" r="1.0" fill="#9a9a9a"/>
<circle cx="261.6" cy="96.8" r="0.49" fill="rgb(242,242,242)"/>
<circle cx="198.3" cy="80.8" r="1.0" fill="#9a9a9a"/>
<circle cx="198.1" cy="80.6" r="0.50" fill="rgb(221,221,221)"/>
<circle cx="247.7" cy="97.4" r="1.2" fill="#9a9a9a"/>
<circle cx="247.5" cy="97.2" r="0.62" fill="rgb(250,250,250)"/>
<circle cx="257.0" cy="116.9" r="1.1" fill="#9a9a9a"/>
<circle cx="256.8" cy="116.7" r="0.55" fill="rgb(220,220,220)"/>
<circle cx="256.1" cy="75.4" r="1.2" fill="#9a9a9a"/>
<circle cx="255.9" cy="75.2" r="0.59" fill="rgb(224,224,224)"/>
<circle cx="262.4" cy="95.6" r="1.1" fill="#9a9a9a"/>
<circle cx="262.2" cy="95.4" r="0.53" fill="rgb(227,227,227)"/>
<circle cx="210.6" cy="78.3" r="0.9" fill="#9a9a9a"/>
<circle cx="210.4" cy="78.1" r="0.46" fill="rgb(246,246,246)"/>
<circle cx="256.6" cy="80.3" r="1.2" fill="#9a9a9a"/>
<circle cx="256.4" cy="80.1" r="0.60" fill="rgb(239,239,239)"/>
<circle cx="199.1" cy="82.9" r="1.0" fill="#9a9a9a"/>
<circle cx="198.9" cy="82.7" r="0.52" fill="rgb(226,226,226)"/>
<circle cx="260.9" cy="92.4" r="1.1" fill="#9a9a9a"/>
<circle cx="260.7" cy="92.2" r="0.55" fill="rgb(234,234,234)"/>
<circle cx="246.8" cy="73.6" r="0.9" fill="#9a9a9a"/>
<circle cx="246.6" cy="73.4" r="0.46" fill="rgb(218,218,218)"/>
<circle cx="226.3" cy="85.5" r="1.0" fill="#9a9a9a"/>
<circle cx="226.1" cy="85.3" r="0.48" fill="rgb(217,217,217)"/>
<circle cx="208.1" cy="102.3" r="0.9" fill="#9a9a9a"/>
<circle cx="207.9" cy="102.1" r="0.45" fill="rgb(225,225,225)"/>
<circle cx="219.6" cy="75.8" r="0.9" fill="#9a9a9a"/>
<circle cx="219.4" cy="75.6" r="0.47" fill="rgb(225,225,225)"/>
<circle cx="265.3" cy="93.5" r="0.9" fill="#9a9a9a"/>
<circle cx="265.1" cy="93.3" r="0.47" fill="rgb(227,227,227)"/>
<circle cx="206.2" cy="70.5" r="1.1" fill="#9a9a9a"/>
<circle cx="206.0" cy="70.3" r="0.56" fill="rgb(227,227,227)"/>
<circle cx="241.0" cy="95.1" r="1.0" fill="#9a9a9a"/>
<circle cx="240.8" cy="94.9" r="0.51" fill="rgb(242,242,242)"/>
<circle cx="194.8" cy="92.9" r="1.0" fill="#9a9a9a"/>
<circle cx="194.6" cy="92.7" r="0.51" fill="rgb(241,241,241)"/>
<circle cx="247.4" cy="96.2" r="1.0" fill="#9a9a9a"/>
<circle cx="247.2" cy="96.0" r="0.49" fill="rgb(229,229,229)"/>
<circle cx="210.2" cy="94.3" r="1.1" fill="#9a9a9a"/>
<circle cx="210.0" cy="94.1" r="0.53" fill="rgb(216,216,216)"/>
<circle cx="237.5" cy="101.7" r="1.2" fill="#9a9a9a"/>
<circle cx="237.3" cy="101.5" r="0.62" fill="rgb(226,226,226)"/>
<circle cx="203.7" cy="109.1" r="1.0" fill="#9a9a9a"/>
<circle cx="203.5" cy="108.9" r="0.48" fill="rgb(224,224,224)"/>
<circle cx="262.5" cy="106.1" r="1.2" fill="#9a9a9a"/>
<circle cx="262.3" cy="105.9" r="0.59" fill="rgb(218,218,218)"/>
<circle cx="256.0" cy="87.9" r="1.1" fill="#9a9a9a"/>
<circle cx="255.8" cy="87.7" r="0.53" fill="rgb(217,217,217)"/>
<circle cx="259.3" cy="78.9" r="1.2" fill="#9a9a9a"/>
<circle cx="259.1" cy="78.7" r="0.59" fill="rgb(250,250,250)"/>
<circle cx="209.7" cy="99.1" r="1.2" fill="#9a9a9a"/>
<circle cx="209.5" cy="98.9" r="0.59" fill="rgb(215,215,215)"/>
<circle cx="259.3" cy="74.0" r="1.1" fill="#9a9a9a"/>
<circle cx="259.1" cy="73.8" r="0.53" fill="rgb(216,216,216)"/>
<circle cx="208.9" cy="71.7" r="1.1" fill="#9a9a9a"/>
<circle cx="208.7" cy="71.5" r="0.56" fill="rgb(236,236,236)"/>
<circle cx="225.3" cy="76.8" r="1.1" fill="#9a9a9a"/>
<circle cx="225.1" cy="76.6" r="0.57" fill="rgb(247,247,247)"/>
<circle cx="207.1" cy="106.5" r="1.2" fill="#9a9a9a"/>
<circle cx="206.9" cy="106.3" r="0.62" fill="rgb(218,218,218)"/>
<circle cx="235.9" cy="115.8" r="1.2" fill="#9a9a9a"/>
<circle cx="235.7" cy="115.6" r="0.61" fill="rgb(250,250,250)"/>
<circle cx="222.5" cy="103.1" r="1.1" fill="#9a9a9a"/>
<circle cx="222.3" cy="102.9" r="0.54" fill="rgb(246,246,246)"/>
<circle cx="193.9" cy="116.2" r="1.0" fill="#9a9a9a"/>
<circle cx="193.7" cy="116.0" r="0.48" fill="rgb(239,239,239)"/>
<circle cx="210.1" cy="93.2" r="1.0" fill="#9a9a9a"/>
<circle cx="209.9" cy="93.0" r="0.48" fill="rgb(215,215,215)"/>
<circle cx="230.6" cy="116.2" r="1.1" fill="#9a9a9a"/>
<circle cx="230.4" cy="116.0" r="0.54" fill="rgb(247,247,247)"/>
<circle cx="229.2" cy="118.3" r="1.2" fill="#9a9a9a"/>
<circle cx="229.0" cy="118.1" r="0.61" fill="rgb(238,238,238)"/>
<circle cx="238.7" cy="80.5" r="1.0" fill="#9a9a9a"/>
<circle cx="238.5" cy="80.3" r="0.52" fill="rgb(227,227,227)"/>
<circle cx="254.3" cy="79.8" r="1.1" fill="#9a9a9a"/>
<circle cx="254.1" cy="79.6" r="0.55" fill="rgb(241,241,241)"/>
<circle cx="266.5" cy="92.2" r="1.0" fill="#9a9a9a"/>
<circle cx="266.3" cy="92.0" r="0.51" fill="rgb(245,245,245)"/>
<circle cx="209.6" cy="116.8" r="1.2" fill="#9a9a9a"/>
<circle cx="209.4" cy="116.6" r="0.62" fill="rgb(225,225,225)"/>
<circle cx="216.7" cy="89.8" r="1.0" fill="#9a9a9a"/>
<circle cx="216.5" cy="89.6" r="0.51" fill="rgb(239,239,239)"/>
<circle cx="218.2" cy="102.6" r="1.0" fill="#9a9a9a"/>
<circle cx="218.0" cy="102.4" r="0.48" fill="rgb(228,228,228)"/>
<circle cx="194.7" cy="88.2" r="1.2" fill="#9a9a9a"/>
<circle cx="194.5" cy="88.0" r="0.59" fill="rgb(215,215,215)"/>
<circle cx="204.9" cy="110.3" r="1.2" fill="#9a9a9a"/>
<circle cx="204.7" cy="110.1" r="0.62" fill="rgb(235,235,235)"/>
<circle cx="193.0" cy="99.6" r="1.0" fill="#9a9a9a"/>
<circle cx="192.8" cy="99.4" r="0.51" fill="rgb(250,250,250)"/>
<circle cx="212.0" cy="92.1" r="1.0" fill="#9a9a9a"/>
<circle cx="211.8" cy="91.9" r="0.50" fill="rgb(236,236,236)"/>
<circle cx="234.3" cy="104.7" r="1.0" fill="#9a9a9a"/>
<circle cx="234.1" cy="104.5" r="0.48" fill="rgb(249,249,249)"/>
<circle cx="203.1" cy="81.7" r="1.1" fill="#9a9a9a"/>
<circle cx="202.9" cy="81.5" r="0.54" fill="rgb(232,232,232)"/>
<circle cx="201.9" cy="116.8" r="1.2" fill="#9a9a9a"/>
<circle cx="201.7" cy="116.6" r="0.60" fill="rgb(220,220,220)"/>
<circle cx="204.0" cy="76.7" r="1.1" fill="#9a9a9a"/>
<circle cx="203.8" cy="76.5" r="0.54" fill="rgb(217,217,217)"/>
<circle cx="231.4" cy="98.3" r="1.0" fill="#9a9a9a"/>
<circle cx="231.2" cy="98.1" r="0.48" fill="rgb(220,220,220)"/>
<circle cx="258.2" cy="72.8" r="1.1" fill="#9a9a9a"/>
<circle cx="258.0" cy="72.6" r="0.55" fill="rgb(233,233,233)"/>
<circle cx="210.2" cy="78.2" r="1.1" fill="#9a9a9a"/>
<circle cx="210.0" cy="78.0" r="0.55" fill="rgb(242,242,242)"/>
<circle cx="236.0" cy="92.0" r="1.1" fill="#9a9a9a"/>
<circle cx="235.8" cy="91.8" r="0.57" fill="rgb(215,215,215)"/>
<circle cx="223.1" cy="113.3" r="0.9" fill="#9a9a9a"/>
<circle cx="222.9" cy="113.1" r="0.47" fill="rgb(223,223,223)"/>
<circle cx="241.6" cy="111.9" r="0.9" fill="#9a9a9a"/>
<circle cx="241.4" cy="111.7" r="0.47" fill="rgb(232,232,232)"/>
<circle cx="263.3" cy="83.1" r="1.2" fill="#9a9a9a"/>
<circle cx="263.1" cy="82.9" r="0.60" fill="rgb(242,242,242)"/>
<circle cx="262.2" cy="89.9" r="1.1" fill="#9a9a9a"/>
<circle cx="262.0" cy="89.7" r="0.53" fill="rgb(231,231,231)"/>
<circle cx="196.8" cy="114.5" r="0.9" fill="#9a9a9a"/>
<circle cx="196.6" cy="114.3" r="0.46" fill="rgb(243,243,243)"/>
<circle cx="200.7" cy="70.9" r="1.1" fill="#9a9a9a"/>
<circle cx="200.5" cy="70.7" r="0.56" fill="rgb(221,221,221)"/>
<circle cx="214.3" cy="84.1" r="0.9" fill="#9a9a9a"/>
<circle cx="214.1" cy="83.9" r="0.46" fill="rgb(234,234,234)"/>
<circle cx="264.1" cy="112.4" r="1.0" fill="#9a9a9a"/>
<circle cx="263.9" cy="112.2" r="0.49" fill="rgb(231,231,231)"/>
<circle cx="223.9" cy="95.8" r="1.0" fill="#9a9a9a"/>
<circle cx="223.7" cy="95.6" r="0.50" fill="rgb(238,238,238)"/>
<circle cx="255.4" cy="109.3" r="1.0" fill="#9a9a9a"/>
<circle cx="255.2" cy="109.1" r="0.49" fill="rgb(247,247,247)"/>
<circle cx="241.0" cy="95.0" r="1.2" fill="#9a9a9a"/>
<circle cx="240.8" cy="94.8" r="0.62" fill="rgb(248,248,248)"/>
<circle cx="201.6" cy="81.9" r="1.0" fill="#9a9a9a"/>
<circle cx="201.4" cy="81.7" r="0.52" fill="rgb(232,232,232)"/>
<circle cx="241.4" cy="98.6" r="1.1" fill="#9a9a9a"/>
<circle cx="241.2" cy="98.4" r="0.53" fill="rgb(235,235,235)"/>
<circle cx="251.9" cy="113.8" r="1.0" fill="#9a9a9a"/>
<circle cx="251.7" cy="113.6" r="0.52" fill="rgb(245,245,245)"/>
<circle cx="263.7" cy="79.4" r="1.2" fill="#9a9a9a"/>
<circle cx="263.5" cy="79.2" r="0.62" fill="rgb(217,217,217)"/>
<circle cx="198.6" cy="113.7" r="1.2" fill="#9a9a9a"/>
<circle cx="198.4" cy="113.5" r="0.58" fill="rgb(224,224,224)"/>
<circle cx="234.9" cy="78.8" r="1.2" fill="#9a9a9a"/>
<circle cx="234.7" cy="78.6" r="0.59" fill="rgb(233,233,233)"/>
<circle cx="243.9" cy="82.5" r="0.9" fill="#9a9a9a"/>
<circle cx="243.7" cy="82.3" r="0.46" fill="rgb(249,249,249)"/>
<circle cx="210.4" cy="87.8" r="1.2" fill="#9a9a9a"/>
<circle cx="210.2" cy="87.6" r="0.58" fill="rgb(223,223,223)"/>
<circle cx="231.5" cy="103.0" r="1.0" fill="#9a9a9a"/>
<circle cx="231.3" cy="102.8" r="0.51" fill="rgb(239,239,239)"/>
<circle cx="198.4" cy="106.1" r="1.2" fill="#9a9a9a"/>
<circle cx="198.2" cy="105.9" r="0.60" fill="rgb(231,231,231)"/>
<circle cx="238.9" cy="93.0" r="1.2" fill="#9a9a9a"/>
<circle cx="238.7" cy="92.8" r="0.59" fill="rgb(217,217,217)"/>
<circle cx="242.4" cy="108.9" r="1.1" fill="#9a9a9a"/>
<circle cx="242.2" cy="108.7" r="0.53" fill="rgb(216,216,216)"/>
<circle cx="193.7" cy="93.1" r="0.9" fill="#9a9a9a"/>
<circle cx="193.5" cy="92.9" r="0.47" fill="rgb(217,217,217)"/>
<circle cx="242.8" cy="104.5" r="1.0" fill="#9a9a9a"/>
<circle cx="242.6" cy="104.3" r="0.49" fill="rgb(245,245,245)"/>
<circle cx="240.6" cy="78.8" r="1.2" fill="#9a9a9a"/>
<circle cx="240.4" cy="78.6" r="0.60" fill="rgb(220,220,220)"/>
<circle cx="263.4" cy="108.3" r="1.2" fill="#9a9a9a"/>
<circle cx="263.2" cy="108.1" r="0.58" fill="rgb(236,236,236)"/>
<circle cx="210.1" cy="91.0" r="1.2" fill="#9a9a9a"/>
<circle cx="209.9" cy="90.8" r="0.60" fill="rgb(226,226,226)"/>
<circle cx="263.4" cy="80.1" r="1.2" fill="#9a9a9a"/>
<circle cx="263.2" cy="79.9" r="0.62" fill="rgb(222,222,222)"/>
<circle cx="223.1" cy="116.8" r="1.1" fill="#9a9a9a"/>
<circle cx="222.9" cy="116.6" r="0.56" fill="rgb(247,247,247)"/>
<circle cx="259.2" cy="81.3" r="1.0" fill="#9a9a9a"/>
<circle cx="259.0" cy="81.1" r="0.50" fill="rgb(225,225,225)"/>
<circle cx="247.0" cy="87.5" r="1.0" fill="#9a9a9a"/>
<circle cx="246.8" cy="87.3" r="0.48" fill="rgb(229,229,229)"/>
<circle cx="241.8" cy="107.3" r="1.1" fill="#9a9a9a"/>
<circle cx="241.6" cy="107.1" r="0.53" fill="rgb(229,229,229)"/>
<circle cx="202.4" cy="80.8" r="1.0" fill="#9a9a9a"/>
<circle cx="202.2" cy="80.6" r="0.49" fill="rgb(218,218,218)"/>
<circle cx="208.8" cy="83.0" r="1.0" fill="#9a9a9a"/>
<circle cx="208.6" cy="82.8" r="0.49" fill="rgb(234,234,234)"/>
<circle cx="195.6" cy="76.6" r="1.2" fill="#9a9a9a"/>
<circle cx="195.4" cy="76.4" r="0.62" fill="rgb(219,219,219)"/>
<circle cx="222.9" cy="90.5" r="1.1" fill="#9a9a9a"/>
<circle cx="222.7" cy="90.3" r="0.56" fill="rgb(249,249,249)"/>
<circle cx="198.7" cy="98.4" r="1.1" fill="#9a9a9a"/>
<circle cx="198.5" cy="98.2" r="0.56" fill="rgb(243,243,243)"/>
<circle cx="262.3" cy="98.1" r="1.0" fill="#9a9a9a"/>
<circle cx="262.1" cy="97.9" r="0.49" fill="rgb(241,241,241)"/>
<circle cx="219.1" cy="104.3" r="1.2" fill="#9a9a9a"/>
<circle cx="218.9" cy="104.1" r="0.61" fill="rgb(235,235,235)"/>
<circle cx="225.1" cy="78.5" r="1.1" fill="#9a9a9a"/>
<circle cx="224.9" cy="78.3" r="0.57" fill="rgb(239,239,239)"/>
<circle cx="228.4" cy="70.9" r="1.0" fill="#9a9a9a"/>
<circle cx="228.2" cy="70.7" r="0.49" fill="rgb(244,244,244)"/>
<circle cx="242.7" cy="77.8" r="1.1" fill="#9a9a9a"/>
<circle cx="242.5" cy="77.6" r="0.53" fill="rgb(248,248,248)"/>
<circle cx="220.2" cy="116.9" r="1.2" fill="#9a9a9a"/>
<circle cx="220.0" cy="116.7" r="0.62" fill="rgb(231,231,231)"/>
<circle cx="249.4" cy="110.7" r="1.0" fill="#9a9a9a"/>
<circle cx="249.2" cy="110.5" r="0.48" fill="rgb(222,222,222)"/>
<circle cx="240.2" cy="100.9" r="1.1" fill="#9a9a9a"/>
<circle cx="240.0" cy="100.7" r="0.55" fill="rgb(240,240,240)"/>
<circle cx="244.8" cy="117.1" r="1.2" fill="#9a9a9a"/>
<circle cx="244.6" cy="116.9" r="0.61" fill="rgb(223,223,223)"/>
<circle cx="207.4" cy="107.3" r="1.2" fill="#9a9a9a"/>
<circle cx="207.2" cy="107.1" r="0.61" fill="rgb(245,245,245)"/>
<circle cx="215.1" cy="82.5" r="1.1" fill="#9a9a9a"/>
<circle cx="214.9" cy="82.3" r="0.54" fill="rgb(232,232,232)"/>
<circle cx="253.4" cy="99.3" r="1.1" fill="#9a9a9a"/>
<circle cx="253.2" cy="99.1" r="0.55" fill="rgb(221,221,221)"/>
<circle cx="255.4" cy="112.6" r="1.1" fill="#9a9a9a"/>
<circle cx="255.2" cy="112.4" r="0.55" fill="rgb(236,236,236)"/>
<circle cx="236.3" cy="79.7" r="1.0" fill="#9a9a9a"/>
<circle cx="236.1" cy="79.5" r="0.48" fill="rgb(221,221,221)"/>
<circle cx="194.1" cy="96.0" r="1.0" fill="#9a9a9a"/>
<circle cx="193.9" cy="95.8" r="0.51" fill="rgb(222,222,222)"/>
<circle cx="246.3" cy="83.3" r="1.2" fill="#9a9a9a"/>
<circle cx="246.1" cy="83.1" r="0.62" fill="rgb(223,223,223)"/>
<circle cx="198.1" cy="70.2" r="1.1" fill="#9a9a9a"/>
<circle cx="197.9" cy="70.0" r="0.54" fill="rgb(233,233,233)"/>
<circle cx="205.7" cy="103.9" r="1.2" fill="#9a9a9a"/>
<circle cx="205.5" cy="103.7" r="0.62" fill="rgb(239,239,239)"/>
<circle cx="193.3" cy="81.2" r="1.1" fill="#9a9a9a"/>
<circle cx="193.1" cy="81.0" r="0.55" fill="rgb(226,226,226)"/>
<circle cx="212.5" cy="104.6" r="1.0" fill="#9a9a9a"/>
<circle cx="212.3" cy="104.4" r="0.50" fill="rgb(216,216,216)"/>
<circle cx="265.6" cy="70.9" r="1.0" fill="#9a9a9a"/>
<circle cx="265.4" cy="70.7" r="0.51" fill="rgb(244,244,244)"/>
<circle cx="201.4" cy="115.5" r="0.9" fill="#9a9a9a"/>
<circle cx="201.2" cy="115.3" r="0.47" fill="rgb(233,233,233)"/>
<circle cx="264.3" cy="77.2" r="1.1" fill="#9a9a9a"/>
<circle cx="264.1" cy="77.0" r="0.53" fill="rgb(238,238,238)"/>
<circle cx="217.6" cy="95.4" r="1.1" fill="#9a9a9a"/>
<circle cx="217.4" cy="95.2" r="0.55" fill="rgb(238,238,238)"/>
<circle cx="216.5" cy="90.3" r="1.1" fill="#9a9a9a"/>
<circle cx="216.3" cy="90.1" r="0.53" fill="rgb(227,227,227)"/>
<circle cx="228.2" cy="82.6" r="1.1" fill="#9a9a9a"/>
<circle cx="228.0" cy="82.4" r="0.55" fill="rgb(226,226,226)"/>
<circle cx="197.0" cy="74.1" r="1.0" fill="#9a9a9a"/>
<circle cx="196.8" cy="73.9" r="0.51" fill="rgb(227,227,227)"/>
<circle cx="204.9" cy="74.5" r="1.0" fill="#9a9a9a"/>
<circle cx="204.7" cy="74.3" r="0.50" fill="rgb(230,230,230)"/>
<circle cx="238.9" cy="103.9" r="1.1" fill="#9a9a9a"/>
<circle cx="238.7" cy="103.7" r="0.57" fill="rgb(219,219,219)"/>
<circle cx="212.3" cy="108.6" r="1.0" fill="#9a9a9a"/>
<circle cx="212.1" cy="108.4" r="0.52" fill="rgb(228,228,228)"/>
<circle cx="246.6" cy="86.6" r="1.1" fill="#9a9a9a"/>
<circle cx="246.4" cy="86.4" r="0.55" fill="rgb(228,228,228)"/>
<circle cx="229.1" cy="79.2" r="1.1" fill="#9a9a9a"/>
<circle cx="228.9" cy="79.0" r="0.54" fill="rgb(222,222,222)"/>
<circle cx="261.3" cy="97.3" r="1.2" fill="#9a9a9a"/>
<circle cx="261.1" cy="97.1" r="0.58" fill="rgb(230,230,230)"/>
<circle cx="196.8" cy="77.5" r="1.1" fill="#9a9a9a"/>
<circle cx="196.6" cy="77.3" r="0.57" fill="rgb(233,233,233)"/>
<circle cx="243.9" cy="88.8" r="1.2" fill="#9a9a9a"/>
<circle cx="243.7" cy="88.6" r="0.61" fill="rgb(227,227,227)"/>
<circle cx="245.7" cy="81.2" r="1.1" fill="#9a9a9a"/>
<circle cx="245.5" cy="81.0" r="0.57" fill="rgb(215,215,215)"/>
<circle cx="251.6" cy="109.1" r="1.0" fill="#9a9a9a"/>
<circle cx="251.4" cy="108.9" r="0.50" fill="rgb(242,242,242)"/>
<circle cx="199.9" cy="98.5" r="0.9" fill="#9a9a9a"/>
<circle cx="199.7" cy="98.3" r="0.47" fill="rgb(232,232,232)"/>
<circle cx="207.1" cy="104.5" r="1.0" fill="#9a9a9a"/>
<circle cx="206.9" cy="104.3" r="0.50" fill="rgb(215,215,215)"/>
<circle cx="252.1" cy="108.5" r="1.1" fill="#9a9a9a"/>
<circle cx="251.9" cy="108.3" r="0.54" fill="rgb(237,237,237)"/>
<circle cx="210.0" cy="74.5" r="1.2" fill="#9a9a9a"/>
<circle cx="209.8" cy="74.3" r="0.61" fill="rgb(249,249,249)"/>
<circle cx="241.8" cy="97.5" r="1.2" fill="#9a9a9a"/>
<circle cx="241.6" cy="97.3" r="0.59" fill="rgb(215,215,215)"/>
<circle cx="203.2" cy="79.4" r="1.1" fill="#9a9a9a"/>
<circle cx="203.0" cy="79.2" r="0.55" fill="rgb(226,226,226)"/>
<circle cx="235.8" cy="75.3" r="1.2" fill="#9a9a9a"/>
<circle cx="235.6" cy="75.1" r="0.61" fill="rgb(229,229,229)"/>
<circle cx="239.6" cy="81.7" r="0.9" fill="#9a9a9a"/>
<circle cx="239.4" cy="81.5" r="0.47" fill="rgb(222,222,222)"/>
<circle cx="212.0" cy="90.6" r="1.0" fill="#9a9a9a"/>
<circle cx="211.8" cy="90.4" r="0.50" fill="rgb(247,247,247)"/>
<circle cx="232.2" cy="105.3" r="1.2" fill="#9a9a9a"/>
<circle cx="232.0" cy="105.1" r="0.62" fill="rgb(239,239,239)"/>
<circle cx="195.3" cy="105.3" r="1.0" fill="#9a9a9a"/>
<circle cx="195.1" cy="105.1" r="0.52" fill="rgb(216,216,216)"/>
<circle cx="209.2" cy="84.2" r="0.9" fill="#9a9a9a"/>
<circle cx="209.0" cy="84.0" r="0.46" fill="rgb(242,242,242)"/>
<circle cx="240.0" cy="103.7" r="0.9" fill="#9a9a9a"/>
<circle cx="239.8" cy="103.5" r="0.47" fill="rgb(232,232,232)"/>
<circle cx="238.2" cy="113.9" r="1.1" fill="#9a9a9a"/>
<circle cx="238.0" cy="113.7" r="0.54" fill="rgb(242,242,242)"/>
<circle cx="208.0" cy="85.2" r="1.0" fill="#9a9a9a"/>
<circle cx="207.8" cy="85.0" r="0.51" fill="rgb(216,216,216)"/>
<circle cx="241.7" cy="82.7" r="1.2" fill="#9a9a9a"/>
<circle cx="241.5" cy="82.5" r="0.62" fill="rgb(218,218,218)"/>
<circle cx="204.6" cy="81.0" r="1.2" fill="#9a9a9a"/>
<circle cx="204.4" cy="80.8" r="0.62" fill="rgb(249,249,249)"/>
<circle cx="249.7" cy="110.3" r="1.1" fill="#9a9a9a"/>
<circle cx="249.5" cy="110.1" r="0.56" fill="rgb(225,225,225)"/>
<circle cx="245.6" cy="116.7" r="1.0" fill="#9a9a9a"/>
<circle cx="245.4" cy="116.5" r="0.52" fill="rgb(238,238,238)"/>
<circle cx="251.4" cy="85.1" r="1.1" fill="#9a9a9a"/>
<circle cx="251.2" cy="84.9" r="0.55" fill="rgb(237,237,237)"/>
<circle cx="216.2" cy="105.1" r="1.2" fill="#9a9a9a"/>
<circle cx="216.0" cy="104.9" r="0.61" fill="rgb(238,238,238)"/>
<circle cx="197.1" cy="99.7" r="1.0" fill="#9a9a9a"/>
<circle cx="196.9" cy="99.5" r="0.49" fill="rgb(224,224,224)"/>
<circle cx="199.6" cy="72.4" r="1.0" fill="#9a9a9a"/>
<circle cx="199.4" cy="72.2" r="0.48" fill="rgb(224,224,224)"/>
<circle cx="230.8" cy="77.4" r="1.0" fill="#9a9a9a"/>
<circle cx="230.6" cy="77.2" r="0.48" fill="rgb(222,222,222)"/>
<circle cx="261.5" cy="112.7" r="1.0" fill="#9a9a9a"/>
<circle cx="261.3" cy="112.5" r="0.48" fill="rgb(247,247,247)"/>
<circle cx="226.9" cy="79.6" r="1.1" fill="#9a9a9a"/>
<circle cx="226.7" cy="79.4" r="0.55" fill="rgb(221,221,221)"/>
<circle cx="201.8" cy="94.7" r="1.1" fill="#9a9a9a"/>
<circle cx="201.6" cy="94.5" r="0.55" fill="rgb(241,241,241)"/>
<circle cx="231.3" cy="87.7" r="1.1" fill="#9a9a9a"/>
<circle cx="231.1" cy="87.5" r="0.53" fill="rgb(215,215,215)"/>
<circle cx="245.6" cy="95.8" r="1.2" fill="#9a9a9a"/>
<circle cx="245.4" cy="95.6" r="0.58" fill="rgb(230,230,230)"/>
<circle cx="250.0" cy="75.2" r="1.0" fill="#9a9a9a"/>
<circle cx="249.8" cy="75.0" r="0.52" fill="rgb(230,230,230)"/>
<circle cx="198.1" cy="88.8" r="1.2" fill="#9a9a9a"/>
<circle cx="197.9" cy="88.6" r="0.61" fill="rgb(215,215,215)"/>
<circle cx="228.5" cy="82.3" r="1.0" fill="#9a9a9a"/>
<circle cx="228.3" cy="82.1" r="0.49" fill="rgb(237,237,237)"/>
<circle cx="242.1" cy="80.8" r="1.0" fill="#9a9a9a"/>
<circle cx="241.9" cy="80.6" r="0.49" fill="rgb(220,220,220)"/>
<circle cx="216.4" cy="93.2" r="1.2" fill="#9a9a9a"/>
<circle cx="216.2" cy="93.0" r="0.60" fill="rgb(239,239,239)"/>
<circle cx="245.4" cy="107.5" r="1.1" fill="#9a9a9a"/>
<circle cx="245.2" cy="107.3" r="0.53" fill="rgb(245,245,245)"/>
<circle cx="220.3" cy="91.8" r="1.2" fill="#9a9a9a"/>
<circle cx="220.1" cy="91.6" r="0.58" fill="rgb(229,229,229)"/>
<circle cx="261.2" cy="115.5" r="1.2" fill="#9a9a9a"/>
<circle cx="261.0" cy="115.3" r="0.62" fill="rgb(218,218,218)"/>
<circle cx="238.5" cy="75.1" r="1.1" fill="#9a9a9a"/>
<circle cx="238.3" cy="74.9" r="0.53" fill="rgb(247,247,247)"/>
<circle cx="226.5" cy="101.0" r="1.0" fill="#9a9a9a"/>
<circle cx="226.3" cy="100.8" r="0.49" fill="rgb(217,217,217)"/>
<circle cx="213.5" cy="71.8" r="1.1" fill="#9a9a9a"/>
<circle cx="213.3" cy="71.6" r="0.56" fill="rgb(226,226,226)"/>
<circle cx="265.1" cy="114.3" r="1.0" fill="#9a9a9a"/>
<circle cx="264.9" cy="114.1" r="0.48" fill="rgb(231,231,231)"/>
<circle cx="202.5" cy="92.7" r="0.9" fill="#9a9a9a"/>
<circle cx="202.3" cy="92.5" r="0.46" fill="rgb(236,236,236)"/>
<circle cx="238.5" cy="84.6" r="1.2" fill="#9a9a9a"/>
<circle cx="238.3" cy="84.4" r="0.58" fill="rgb(236,236,236)"/>
<circle cx="198.0" cy="106.6" r="1.1" fill="#9a9a9a"/>
<circle cx="197.8" cy="106.4" r="0.56" fill="rgb(242,242,242)"/>
<circle cx="249.7" cy="91.3" r="1.2" fill="#9a9a9a"/>
<circle cx="249.5" cy="91.1" r="0.58" fill="rgb(219,219,219)"/>
<circle cx="199.3" cy="89.2" r="1.1" fill="#9a9a9a"/>
<circle cx="199.1" cy="89.0" r="0.54" fill="rgb(243,243,243)"/>
<circle cx="199.9" cy="116.9" r="1.0" fill="#9a9a9a"/>
<circle cx="199.7" cy="116.7" r="0.49" fill="rgb(224,224,224)"/>
<circle cx="196.8" cy="84.0" r="1.0" fill="#9a9a9a"/>
<circle cx="196.6" cy="83.8" r="0.48" fill="rgb(242,242,242)"/>
<circle cx="249.4" cy="76.6" r="1.0" fill="#9a9a9a"/>
<circle cx="249.2" cy="76.4" r="0.51" fill="rgb(221,221,221)"/>
<circle cx="200.8" cy="73.4" r="1.1" fill="#9a9a9a"/>
<circle cx="200.6" cy="73.2" r="0.57" fill="rgb(242,242,242)"/>
<circle cx="205.1" cy="95.9" r="1.2" fill="#9a9a9a"/>
<circle cx="204.9" cy="95.7" r="0.61" fill="rgb(217,217,217)"/>
<circle cx="254.2" cy="78.2" r="1.1" fill="#9a9a9a"/>
<circle cx="254.0" cy="78.0" r="0.54" fill="rgb(225,225,225)"/>
<circle cx="205.8" cy="107.3" r="1.2" fill="#9a9a9a"/>
<circle cx="205.6" cy="107.1" r="0.59" fill="rgb(218,218,218)"/>
<circle cx="224.3" cy="86.5" r="1.0" fill="#9a9a9a"/>
<circle cx="224.1" cy="86.3" r="0.50" fill="rgb(217,217,217)"/>
<circle cx="202.1" cy="81.8" r="1.0" fill="#9a9a9a"/>
<circle cx="201.9" cy="81.6" r="0.51" fill="rgb(221,221,221)"/>
<circle cx="264.4" cy="75.7" r="1.1" fill="#9a9a9a"/>
<circle cx="264.2" cy="75.5" r="0.54" fill="rgb(227,227,227)"/>
<circle cx="212.1" cy="106.1" r="1.1" fill="#9a9a9a"/>
<circle cx="211.9" cy="105.9" r="0.54" fill="rgb(225,225,225)"/>
<circle cx="258.5" cy="114.0" r="1.0" fill="#9a9a9a"/>
<circle cx="258.3" cy="113.8" r="0.49" fill="rgb(228,228,228)"/>
<circle cx="227.7" cy="116.6" r="1.1" fill="#9a9a9a"/>
<circle cx="227.5" cy="116.4" r="0.53" fill="rgb(244,244,244)"/>
<circle cx="237.4" cy="84.1" r="0.9" fill="#9a9a9a"/>
<circle cx="237.2" cy="83.9" r="0.47" fill="rgb(244,244,244)"/>
<circle cx="227.2" cy="104.9" r="0.9" fill="#9a9a9a"/>
<circle cx="227.0" cy="104.7" r="0.45" fill="rgb(229,229,229)"/>
<circle cx="246.9" cy="76.3" r="1.1" fill="#9a9a9a"/>
<circle cx="246.7" cy="76.1" r="0.57" fill="rgb(221,221,221)"/>
<circle cx="207.2" cy="116.7" r="1.0" fill="#9a9a9a"/>
<circle cx="207.0" cy="116.5" r="0.48" fill="rgb(220,220,220)"/>
<circle cx="200.9" cy="109.6" r="1.1" fill="#9a9a9a"/>
<circle cx="200.7" cy="109.4" r="0.54" fill="rgb(233,233,233)"/>
<circle cx="217.9" cy="82.1" r="1.2" fill="#9a9a9a"/>
<circle cx="217.7" cy="81.9" r="0.62" fill="rgb(236,236,236)"/>
<circle cx="211.8" cy="92.9" r="1.0" fill="#9a9a9a"/>
<circle cx="211.6" cy="92.7" r="0.49" fill="rgb(236,236,236)"/>
<circle cx="265.8" cy="77.2" r="1.0" fill="#9a9a9a"/>
<circle cx="265.6" cy="77.0" r="0.49" fill="rgb(240,240,240)"/>
<circle cx="255.8" cy="85.6" r="1.0" fill="#9a9a9a"/>
<circle cx="255.6" cy="85.4" r="0.52" fill="rgb(242,242,242)"/>
<circle cx="205.7" cy="106.3" r="0.9" fill="#9a9a9a"/>
<circle cx="205.5" cy="106.1" r="0.46" fill="rgb(220,220,220)"/>
<circle cx="218.1" cy="79.1" r="0.9" fill="#9a9a9a"/>
<circle cx="217.9" cy="78.9" r="0.46" fill="rgb(249,249,249)"/>
<circle cx="223.8" cy="110.0" r="1.0" fill="#9a9a9a"/>
<circle cx="223.6" cy="109.8" r="0.48" fill="rgb(231,231,231)"/>
<circle cx="256.4" cy="98.0" r="1.2" fill="#9a9a9a"/>
<circle cx="256.2" cy="97.8" r="0.61" fill="rgb(221,221,221)"/>
<circle cx="193.8" cy="107.2" r="1.0" fill="#9a9a9a"/>
<circle cx="193.6" cy="107.0" r="0.52" fill="rgb(246,246,246)"/>
<circle cx="237.6" cy="113.8" r="1.0" fill="#9a9a9a"/>
<circle cx="237.4" cy="113.6" r="0.49" fill="rgb(221,221,221)"/>
<circle cx="263.0" cy="85.9" r="1.1" fill="#9a9a9a"/>
<circle cx="262.8" cy="85.7" r="0.57" fill="rgb(246,246,246)"/>
<circle cx="255.4" cy="109.9" r="1.1" fill="#9a9a9a"/>
<circle cx="255.2" cy="109.7" r="0.55" fill="rgb(243,243,243)"/>
<circle cx="212.5" cy="87.8" r="1.0" fill="#9a9a9a"/>
<circle cx="212.3" cy="87.6" r="0.50" fill="rgb(245,245,245)"/>
<circle cx="220.5" cy="87.2" r="0.9" fill="#9a9a9a"/>
<circle cx="220.3" cy="87.0" r="0.47" fill="rgb(219,219,219)"/>
<circle cx="220.8" cy="75.4" r="1.1" fill="#9a9a9a"/>
<circle cx="220.6" cy="75.2" r="0.53" fill="rgb(223,223,223)"/>
<circle cx="209.7" cy="114.3" r="1.1" fill="#9a9a9a"/>
<circle cx="209.5" cy="114.1" r="0.57" fill="rgb(216,216,216)"/>
<circle cx="223.2" cy="101.0" r="1.1" fill="#9a9a9a"/>
<circle cx="223.0" cy="100.8" r="0.57" fill="rgb(217,217,217)"/>
<circle cx="258.2" cy="106.8" r="1.2" fill="#9a9a9a"/>
<circle cx="258.0" cy="106.6" r="0.59" fill="rgb(219,219,219)"/>
<circle cx="211.0" cy="114.8" r="0.9" fill="#9a9a9a"/>
<circle cx="210.8" cy="114.6" r="0.47" fill="rgb(235,235,235)"/>
<circle cx="252.1" cy="118.2" r="1.0" fill="#9a9a9a"/>
<circle cx="251.9" cy="118.0" r="0.49" fill="rgb(229,229,229)"/>
<circle cx="246.5" cy="106.8" r="1.1" fill="#9a9a9a"/>
<circle cx="246.3" cy="106.6" r="0.55" fill="rgb(232,232,232)"/>
<circle cx="252.8" cy="82.3" r="1.0" fill="#9a9a9a"/>
<circle cx="252.6" cy="82.1" r="0.51" fill="rgb(238,238,238)"/>
<circle cx="241.2" cy="88.5" r="1.0" fill="#9a9a9a"/>
<circle cx="241.0" cy="88.3" r="0.52" fill="rgb(232,232,232)"/>
<circle cx="254.7" cy="76.5" r="1.0" fill="#9a9a9a"/>
<circle cx="254.5" cy="76.3" r="0.48" fill="rgb(243,243,243)"/>
<circle cx="232.6" cy="86.4" r="1.1" fill="#9a9a9a"/>
<circle cx="232.4" cy="86.2" r="0.53" fill="rgb(215,215,215)"/>
<circle cx="253.3" cy="86.8" r="0.9" fill="#9a9a9a"/>
<circle cx="253.1" cy="86.6" r="0.47" fill="rgb(249,249,249)"/>
<circle cx="255.0" cy="111.3" r="1.2" fill="#9a9a9a"/>
<circle cx="254.8" cy="111.1" r="0.58" fill="rgb(230,230,230)"/>
<circle cx="257.6" cy="76.8" r="1.1" fill="#9a9a9a"/>
<circle cx="257.4" cy="76.6" r="0.56" fill="rgb(224,224,224)"/>
<circle cx="262.0" cy="106.2" r="1.1" fill="#9a9a9a"/>
<circle cx="261.8" cy="106.0" r="0.57" fill="rgb(231,231,231)"/>
<circle cx="242.8" cy="101.8" r="1.2" fill="#9a9a9a"/>
<circle cx="242.6" cy="101.6" r="0.58" fill="rgb(222,222,222)"/>
<circle cx="196.5" cy="112.4" r="1.2" fill="#9a9a9a"/>
<circle cx="196.3" cy="112.2" r="0.59" fill="rgb(220,220,220)"/>
<circle cx="233.3" cy="92.2" r="1.1" fill="#9a9a9a"/>
<circle cx="233.1" cy="92.0" r="0.57" fill="rgb(215,215,215)"/>
<circle cx="217.9" cy="108.1" r="1.0" fill="#9a9a9a"/>
<circle cx="217.7" cy="107.9" r="0.48" fill="rgb(237,237,237)"/>
<circle cx="250.5" cy="112.4" r="0.9" fill="#9a9a9a"/>
<circle cx="250.3" cy="112.2" r="0.46" fill="rgb(234,234,234)"/>
<circle cx="208.7" cy="86.6" r="1.2" fill="#9a9a9a"/>
<circle cx="208.5" cy="86.4" r="0.62" fill="rgb(235,235,235)"/>
<circle cx="211.3" cy="74.9" r="1.2" fill="#9a9a9a"/>
<circle cx="211.1" cy="74.7" r="0.60" fill="rgb(250,250,250)"/>
<circle cx="217.0" cy="71.3" r="1.2" fill="#9a9a9a"/>
<circle cx="216.8" cy="71.1" r="0.60" fill="rgb(243,243,243)"/>
<circle cx="251.5" cy="81.1" r="1.2" fill="#9a9a9a"/>
<circle cx="251.3" cy="80.9" r="0.62" fill="rgb(249,249,249)"/>
<circle cx="198.2" cy="73.3" r="1.0" fill="#9a9a9a"/>
<circle cx="198.0" cy="73.1" r="0.48" fill="rgb(248,248,248)"/>
<circle cx="247.5" cy="79.7" r="1.0" fill="#9a9a9a"/>
<circle cx="247.3" cy="79.5" r="0.49" fill="rgb(236,236,236)"/>
<circle cx="227.0" cy="89.6" r="0.9" fill="#9a9a9a"/>
<circle cx="226.8" cy="89.4" r="0.47" fill="rgb(237,237,237)"/>
<circle cx="252.0" cy="116.5" r="1.1" fill="#9a9a9a"/>
<circle cx="251.8" cy="116.3" r="0.54" fill="rgb(229,229,229)"/>
<circle cx="215.8" cy="100.8" r="1.1" fill="#9a9a9a"/>
<circle cx="215.6" cy="100.6" r="0.56" fill="rgb(247,247,247)"/>
<circle cx="258.8" cy="92.9" r="0.9" fill="#9a9a9a"/>
<circle cx="258.6" cy="92.7" r="0.47" fill="rgb(216,216,216)"/>
<circle cx="259.1" cy="105.7" r="1.0" fill="#9a9a9a"/>
<circle cx="258.9" cy="105.5" r="0.52" fill="rgb(226,226,226)"/>
<circle cx="215.9" cy="112.6" r="0.9" fill="#9a9a9a"/>
<circle cx="215.7" cy="112.4" r="0.46" fill="rgb(233,233,233)"/>
<circle cx="235.1" cy="75.2" r="1.0" fill="#9a9a9a"/>
<circle cx="234.9" cy="75.0" r="0.50" fill="rgb(243,243,243)"/>
<circle cx="236.2" cy="110.4" r="1.2" fill="#9a9a9a"/>
<circle cx="236.0" cy="110.2" r="0.59" fill="rgb(248,248,248)"/>
<circle cx="231.1" cy="93.6" r="1.1" fill="#9a9a9a"/>
<circle cx="230.9" cy="93.4" r="0.53" fill="rgb(247,247,247)"/>
<circle cx="223.6" cy="112.9" r="1.1" fill="#9a9a9a"/>
<circle cx="223.4" cy="112.7" r="0.54" fill="rgb(249,249,249)"/>
<circle cx="241.9" cy="80.1" r="1.0" fill="#9a9a9a"/>
<circle cx="241.7" cy="79.9" r="0.50" fill="rgb(240,240,240)"/>
<circle cx="219.6" cy="87.7" r="1.2" fill="#9a9a9a"/>
<circle cx="219.4" cy="87.5" r="0.60" fill="rgb(217,217,217)"/>
<circle cx="263.5" cy="103.9" r="1.2" fill="#9a9a9a"/>
<circle cx="263.3" cy="103.7" r="0.59" fill="rgb(245,245,245)"/>
<circle cx="202.2" cy="114.5" r="1.0" fill="#9a9a9a"/>
<circle cx="202.0" cy="114.3" r="0.51" fill="rgb(228,228,228)"/>
<circle cx="195.6" cy="98.8" r="1.2" fill="#9a9a9a"/>
<circle cx="195.4" cy="98.6" r="0.58" fill="rgb(237,237,237)"/>
<circle cx="224.8" cy="104.9" r="1.1" fill="#9a9a9a"/>
<circle cx="224.6" cy="104.7" r="0.57" fill="rgb(244,244,244)"/>
<circle cx="224.6" cy="74.5" r="1.0" fill="#9a9a9a"/>
<circle cx="224.4" cy="74.3" r="0.51" fill="rgb(238,238,238)"/>
<circle cx="231.5" cy="110.0" r="1.2" fill="#9a9a9a"/>
<circle cx="231.3" cy="109.8" r="0.58" fill="rgb(228,228,228)"/>
<circle cx="251.0" cy="87.4" r="1.2" fill="#9a9a9a"/>
<circle cx="250.8" cy="87.2" r="0.59" fill="rgb(242,242,242)"/>
<circle cx="209.3" cy="106.3" r="1.1" fill="#9a9a9a"/>
<circle cx="209.1" cy="106.1" r="0.56" fill="rgb(231,231,231)"/>
<circle cx="251.9" cy="80.7" r="1.1" fill="#9a9a9a"/>
<circle cx="251.7" cy="80.5" r="0.56" fill="rgb(216,216,216)"/>
<circle cx="257.9" cy="118.3" r="1.0" fill="#9a9a9a"/>
<circle cx="257.7" cy="118.1" r="0.50" fill="rgb(218,218,218)"/>
<circle cx="224.9" cy="88.5" r="1.0" fill="#9a9a9a"/>
<circle cx="224.7" cy="88.3" r="0.51" fill="rgb(241,241,241)"/>
<circle cx="245.2" cy="115.3" r="0.9" fill="#9a9a9a"/>
<circle cx="245.0" cy="115.1" r="0.46" fill="rgb(248,248,248)"/>
<circle cx="207.8" cy="84.7" r="1.2" fill="#9a9a9a"/>
<circle cx="207.6" cy="84.5" r="0.61" fill="rgb(234,234,234)"/>
<circle cx="217.2" cy="105.7" r="1.2" fill="#9a9a9a"/>
<circle cx="217.0" cy="105.5" r="0.59" fill="rgb(229,229,229)"/>
<circle cx="206.7" cy="96.6" r="1.0" fill="#9a9a9a"/>
<circle cx="206.5" cy="96.4" r="0.51" fill="rgb(245,245,245)"/>
<circle cx="229.8" cy="102.6" r="0.9" fill="#9a9a9a"/>
<circle cx="229.6" cy="102.4" r="0.47" fill="rgb(226,226,226)"/>
<circle cx="203.5" cy="116.6" r="1.1" fill="#9a9a9a"/>
<circle cx="203.3" cy="116.4" r="0.54" fill="rgb(238,238,238)"/>
<circle cx="266.5" cy="97.3" r="1.0" fill="#9a9a9a"/>
<circle cx="266.3" cy="97.1" r="0.48" fill="rgb(246,246,246)"/>
<circle cx="251.4" cy="78.9" r="0.9" fill="#9a9a9a"/>
<circle cx="251.2" cy="78.7" r="0.46" fill="rgb(223,223,223)"/>
<circle cx="259.9" cy="96.9" r="1.2" fill="#9a9a9a"/>
<circle cx="259.7" cy="96.7" r="0.61" fill="rgb(241,241,241)"/>
<circle cx="248.8" cy="112.3" r="1.2" fill="#9a9a9a"/>
<circle cx="248.6" cy="112.1" r="0.60" fill="rgb(243,243,243)"/>
<circle cx="219.6" cy="115.0" r="1.0" fill="#9a9a9a"/>
<circle cx="219.4" cy="114.8" r="0.50" fill="rgb(224,224,224)"/>
<circle cx="208.2" cy="71.1" r="1.0" fill="#9a9a9a"/>
<circle cx="208.0" cy="70.9" r="0.50" fill="rgb(226,226,226)"/>
<circle cx="229.9" cy="113.8" r="1.1" fill="#9a9a9a"/>
<circle cx="229.7" cy="113.6" r="0.57" fill="rgb(237,237,237)"/>
<circle cx="259.2" cy="116.5" r="1.0" fill="#9a9a9a"/>
<circle cx="259.0" cy="116.3" r="0.50" fill="rgb(230,230,230)"/>
<circle cx="230.5" cy="115.4" r="1.0" fill="#9a9a9a"/>
<circle cx="230.3" cy="115.2" r="0.51" fill="rgb(226,226,226)"/>
<circle cx="234.2" cy="77.0" r="1.2" fill="#9a9a9a"/>
<circle cx="234.0" cy="76.8" r="0.61" fill="rgb(242,242,242)"/>
<circle cx="239.4" cy="109.1" r="1.0" fill="#9a9a9a"/>
<circle cx="239.2" cy="108.9" r="0.52" fill="rgb(224,224,224)"/>
<circle cx="224.2" cy="99.3" r="1.2" fill="#9a9a9a"/>
<circle cx="224.0" cy="99.1" r="0.59" fill="rgb(238,238,238)"/>
<circle cx="212.0" cy="83.4" r="1.1" fill="#9a9a9a"/>
<circle cx="211.8" cy="83.2" r="0.54" fill="rgb(222,222,222)"/>
<circle cx="223.9" cy="95.0" r="1.2" fill="#9a9a9a"/>
<circle cx="223.7" cy="94.8" r="0.61" fill="rgb(243,243,243)"/>
<circle cx="227.4" cy="74.5" r="1.1" fill="#9a9a9a"/>
<circle cx="227.2" cy="74.3" r="0.54" fill="rgb(231,231,231)"/>
<circle cx="193.4" cy="86.6" r="1.2" fill="#9a9a9a"/>
<circle cx="193.2" cy="86.4" r="0.62" fill="rgb(240,240,240)"/>
<circle cx="245.7" cy="106.4" r="1.0" fill="#9a9a9a"/>
<circle cx="245.5" cy="106.2" r="0.52" fill="rgb(239,239,239)"/>
<circle cx="210.4" cy="82.4" r="1.2" fill="#9a9a9a"/>
<circle cx="210.2" cy="82.2" r="0.59" fill="rgb(238,238,238)"/>
<circle cx="231.0" cy="78.5" r="0.9" fill="#9a9a9a"/>
<circle cx="230.8" cy="78.3" r="0.47" fill="rgb(235,235,235)"/>
<circle cx="237.3" cy="114.0" r="1.0" fill="#9a9a9a"/>
<circle cx="237.1" cy="113.8" r="0.51" fill="rgb(217,217,217)"/>
<circle cx="207.8" cy="98.5" r="1.1" fill="#9a9a9a"/>
<circle cx="207.6" cy="98.3" r="0.56" fill="rgb(227,227,227)"/>
<circle cx="246.0" cy="106.5" r="1.0" fill="#9a9a9a"/>
<circle cx="245.8" cy="106.3" r="0.49" fill="rgb(229,229,229)"/>
<circle cx="245.3" cy="104.6" r="1.0" fill="#9a9a9a"/>
<circle cx="245.1" cy="104.4" r="0.50" fill="rgb(227,227,227)"/>
<circle cx="213.0" cy="110.8" r="1.1" fill="#9a9a9a"/>
<circle cx="212.8" cy="110.6" r="0.57" fill="rgb(230,230,230)"/>
<circle cx="261.0" cy="72.6" r="1.0" fill="#9a9a9a"/>
<circle cx="260.8" cy="72.4" r="0.49" fill="rgb(235,235,235)"/>
<circle cx="262.4" cy="91.6" r="0.9" fill="#9a9a9a"/>
<circle cx="262.2" cy="91.4" r="0.47" fill="rgb(235,235,235)"/>
<circle cx="199.3" cy="73.4" r="1.1" fill="#9a9a9a"/>
<circle cx="199.1" cy="73.2" r="0.54" fill="rgb(220,220,220)"/>
<circle cx="251.6" cy="103.0" r="1.1" fill="#9a9a9a"/>
<circle cx="251.4" cy="102.8" r="0.54" fill="rgb(222,222,222)"/>
<circle cx="203.4" cy="92.4" r="1.0" fill="#9a9a9a"/>
<circle cx="203.2" cy="92.2" r="0.49" fill="rgb(243,243,243)"/>
<circle cx="239.9" cy="118.6" r="1.0" fill="#9a9a9a"/>
<circle cx="239.7" cy="118.4" r="0.50" fill="rgb(241,241,241)"/>
<circle cx="217.7" cy="107.3" r="1.2" fill="#9a9a9a"/>
<circle cx="217.5" cy="107.1" r="0.61" fill="rgb(215,215,215)"/>
<circle cx="211.0" cy="79.7" r="1.2" fill="#9a9a9a"/>
<circle cx="210.8" cy="79.5" r="0.61" fill="rgb(222,222,222)"/>
<circle cx="204.9" cy="90.0" r="1.0" fill="#9a9a9a"/>
<circle cx="204.7" cy="89.8" r="0.51" fill="rgb(240,240,240)"/>
<circle cx="238.4" cy="84.8" r="1.0" fill="#9a9a9a"/>
<circle cx="238.2" cy="84.6" r="0.49" fill="rgb(242,242,242)"/>
<circle cx="204.9" cy="80.6" r="1.0" fill="#9a9a9a"/>
<circle cx="204.7" cy="80.4" r="0.49" fill="rgb(230,230,230)"/>
<circle cx="199.2" cy="79.4" r="1.0" fill="#9a9a9a"/>
<circle cx="199.0" cy="79.2" r="0.52" fill="rgb(217,217,217)"/>
<circle cx="216.2" cy="94.6" r="1.1" fill="#9a9a9a"/>
<circle cx="216.0" cy="94.4" r="0.54" fill="rgb(250,250,250)"/>
<circle cx="206.5" cy="93.4" r="1.2" fill="#9a9a9a"/>
<circle cx="206.3" cy="93.2" r="0.59" fill="rgb(232,232,232)"/>
<circle cx="225.3" cy="117.4" r="1.1" fill="#9a9a9a"/>
<circle cx="225.1" cy="117.2" r="0.53" fill="rgb(245,245,245)"/>
<circle cx="228.7" cy="116.0" r="1.1" fill="#9a9a9a"/>
<circle cx="228.5" cy="115.8" r="0.53" fill="rgb(215,215,215)"/>
<circle cx="227.6" cy="79.6" r="0.9" fill="#9a9a9a"/>
<circle cx="227.4" cy="79.4" r="0.46" fill="rgb(239,239,239)"/>
<circle cx="236.5" cy="77.0" r="1.1" fill="#9a9a9a"/>
<circle cx="236.3" cy="76.8" r="0.53" fill="rgb(226,226,226)"/>
<circle cx="205.4" cy="73.6" r="1.2" fill="#9a9a9a"/>
<circle cx="205.2" cy="73.4" r="0.59" fill="rgb(245,245,245)"/>
<circle cx="244.5" cy="117.1" r="1.1" fill="#9a9a9a"/>
<circle cx="244.3" cy="116.9" r="0.55" fill="rgb(239,239,239)"/>
<circle cx="222.6" cy="87.2" r="1.0" fill="#9a9a9a"/>
<circle cx="222.4" cy="87.0" r="0.48" fill="rgb(221,221,221)"/>
<circle cx="224.2" cy="87.1" r="1.2" fill="#9a9a9a"/>
<circle cx="224.0" cy="86.9" r="0.62" fill="rgb(243,243,243)"/>
<circle cx="243.8" cy="89.1" r="1.2" fill="#9a9a9a"/>
<circle cx="243.6" cy="88.9" r="0.61" fill="rgb(220,220,220)"/>
<circle cx="204.2" cy="112.1" r="1.0" fill="#9a9a9a"/>
<circle cx="204.0" cy="111.9" r="0.50" fill="rgb(228,228,228)"/>
<circle cx="235.1" cy="70.3" r="1.1" fill="#9a9a9a"/>
<circle cx="234.9" cy="70.1" r="0.57" fill="rgb(219,219,219)"/>
<circle cx="255.4" cy="105.5" r="0.9" fill="#9a9a9a"/>
<circle cx="255.2" cy="105.3" r="0.47" fill="rgb(220,220,220)"/>
<circle cx="219.1" cy="100.7" r="1.0" fill="#9a9a9a"/>
<circle cx="218.9" cy="100.5" r="0.48" fill="rgb(215,215,215)"/>
<circle cx="260.6" cy="89.6" r="1.1" fill="#9a9a9a"/>
<circle cx="260.4" cy="89.4" r="0.53" fill="rgb(247,247,247)"/>
<circle cx="224.8" cy="84.5" r="1.1" fill="#9a9a9a"/>
<circle cx="224.6" cy="84.3" r="0.53" fill="rgb(237,237,237)"/>
<circle cx="233.7" cy="102.3" r="1.1" fill="#9a9a9a"/>
<circle cx="233.5" cy="102.1" r="0.54" fill="rgb(225,225,225)"/>
<circle cx="247.0" cy="116.2" r="0.9" fill="#9a9a9a"/>
<circle cx="246.8" cy="116.0" r="0.47" fill="rgb(248,248,248)"/>
<circle cx="203.7" cy="87.8" r="1.1" fill="#9a9a9a"/>
<circle cx="203.5" cy="87.6" r="0.54" fill="rgb(238,238,238)"/>
<circle cx="255.6" cy="108.5" r="1.0" fill="#9a9a9a"/>
<circle cx="255.4" cy="108.3" r="0.50" fill="rgb(249,249,249)"/>
<circle cx="236.4" cy="103.0" r="1.0" fill="#9a9a9a"/>
<circle cx="236.2" cy="102.8" r="0.49" fill="rgb(239,239,239)"/>
<circle cx="218.0" cy="116.0" r="1.0" fill="#9a9a9a"/>
<circle cx="217.8" cy="115.8" r="0.51" fill="rgb(236,236,236)"/>
<circle cx="233.4" cy="89.6" r="1.1" fill="#9a9a9a"/>
<circle cx="233.2" cy="89.4" r="0.56" fill="rgb(250,250,250)"/>
<circle cx="206.4" cy="75.6" r="1.1" fill="#9a9a9a"/>
<circle cx="206.2" cy="75.4" r="0.55" fill="rgb(233,233,233)"/>
<circle cx="259.0" cy="109.0" r="1.2" fill="#9a9a9a"/>
<circle cx="258.8" cy="108.8" r="0.58" fill="rgb(238,238,238)"/>
<circle cx="195.0" cy="85.7" r="1.2" fill="#9a9a9a"/>
<circle cx="194.8" cy="85.5" r="0.60" fill="rgb(238,238,238)"/>
<circle cx="228.3" cy="94.1" r="1.1" fill="#9a9a9a"/>
<circle cx="228.1" cy="93.9" r="0.56" fill="rgb(249,249,249)"/>
<circle cx="219.7" cy="113.6" r="1.1" fill="#9a9a9a"/>
<circle cx="219.5" cy="113.4" r="0.56" fill="rgb(223,223,223)"/>
<circle cx="218.7" cy="95.9" r="1.0" fill="#9a9a9a"/>
<circle cx="218.5" cy="95.7" r="0.51" fill="rgb(222,222,222)"/>
<circle cx="261.3" cy="101.1" r="1.0" fill="#9a9a9a"/>
<circle cx="261.1" cy="100.9" r="0.51" fill="rgb(241,241,241)"/>
<circle cx="228.1" cy="86.2" r="0.9" fill="#9a9a9a"/>
<circle cx="227.9" cy="86.0" r="0.45" fill="rgb(238,238,238)"/>
<circle cx="221.5" cy="99.7" r="1.0" fill="#9a9a9a"/>
<circle cx="221.3" cy="99.5" r="0.49" fill="rgb(215,215,215)"/>
<circle cx="250.8" cy="82.7" r="1.0" fill="#9a9a9a"/>
<circle cx="250.6" cy="82.5" r="0.48" fill="rgb(227,227,227)"/>
<circle cx="220.2" cy="88.9" r="1.1" fill="#9a9a9a"/>
<circle cx="220.0" cy="88.7" r="0.57" fill="rgb(243,243,243)"/>
<circle cx="219.7" cy="114.5" r="1.0" fill="#9a9a9a"/>
<circle cx="219.5" cy="114.3" r="0.51" fill="rgb(231,231,231)"/>
<circle cx="232.6" cy="83.4" r="1.0" fill="#9a9a9a"/>
<circle cx="232.4" cy="83.2" r="0.49" fill="rgb(244,244,244)"/>
<circle cx="217.4" cy="110.0" r="1.0" fill="#9a9a9a"/>
<circle cx="217.2" cy="109.8" r="0.48" fill="rgb(238,238,238)"/>
<text x="71.4" y="8.5" font-size="9.3" text-anchor="middle" fill="#222" font-weight="normal"  stroke="#222" stroke-width="0.12">0 ng/mL</text>
<text x="150.3" y="8.5" font-size="9.3" text-anchor="middle" fill="#222" font-weight="normal"  stroke="#222" stroke-width="0.12">100 ng/mL</text>
<text x="228.3" y="8.5" font-size="9.3" text-anchor="middle" fill="#222" font-weight="normal"  stroke="#222" stroke-width="0.12">500 ng/mL</text>
<text transform="translate(28,40.3) rotate(-90)" font-size="9.6" text-anchor="middle" fill="#222">Mock</text>
<text transform="translate(28,93.5) rotate(-90)" font-size="9.6" text-anchor="middle" fill="#222">CD44-KO</text>
<line x1="246.3" y1="124.5" x2="259.8" y2="124.5" stroke="#222" stroke-width="1"/>
<line x1="246.3" y1="123" x2="246.3" y2="126" stroke="#222" stroke-width="0.8"/>
<line x1="259.8" y1="123" x2="259.8" y2="126" stroke="#222" stroke-width="0.8"/>
<text x="253" y="134.6" font-size="7" text-anchor="middle" fill="#222" font-weight="normal"  stroke="#222" stroke-width="0.12">100μm</text>
<line x1="347" y1="16.5" x2="347" y2="119.5" stroke="#2a2a2a" stroke-width="1.3"/>
<line x1="347" y1="119.5" x2="520" y2="119.5" stroke="#2a2a2a" stroke-width="1.3"/>
<line x1="344.8" y1="119.5" x2="347" y2="119.5" stroke="#2a2a2a" stroke-width="0.9"/>
<text x="340.9" y="122.2" font-size="7.9" text-anchor="end" fill="#222" font-weight="normal"  stroke="#222" stroke-width="0.12">0</text>
<line x1="344.8" y1="86.0" x2="347" y2="86.0" stroke="#2a2a2a" stroke-width="0.9"/>
<text x="340.9" y="88.7" font-size="7.9" text-anchor="end" fill="#222" font-weight="normal"  stroke="#222" stroke-width="0.12">50</text>
<line x1="344.8" y1="52.5" x2="347" y2="52.5" stroke="#2a2a2a" stroke-width="0.9"/>
<text x="340.9" y="55.2" font-size="7.9" text-anchor="end" fill="#222" font-weight="normal"  stroke="#222" stroke-width="0.12">100</text>
<line x1="344.8" y1="19.0" x2="347" y2="19.0" stroke="#2a2a2a" stroke-width="0.9"/>
<text x="340.9" y="21.7" font-size="7.9" text-anchor="end" fill="#222" font-weight="normal"  stroke="#222" stroke-width="0.12">150</text>
<line x1="347.0" y1="119.5" x2="347.0" y2="121.5" stroke="#2a2a2a" stroke-width="0.9"/>
<text x="347.0" y="131" font-size="7.9" text-anchor="middle" fill="#222" font-weight="normal"  stroke="#222" stroke-width="0.12">0.5</text>
<line x1="401.8" y1="119.5" x2="401.8" y2="121.5" stroke="#2a2a2a" stroke-width="0.9"/>
<text x="401.8" y="131" font-size="7.9" text-anchor="middle" fill="#222" font-weight="normal"  stroke="#222" stroke-width="0.12">5</text>
<line x1="456.6" y1="119.5" x2="456.6" y2="121.5" stroke="#2a2a2a" stroke-width="0.9"/>
<text x="456.6" y="131" font-size="7.9" text-anchor="middle" fill="#222" font-weight="normal"  stroke="#222" stroke-width="0.12">50</text>
<line x1="511.4" y1="119.5" x2="511.4" y2="121.5" stroke="#2a2a2a" stroke-width="0.9"/>
<text x="511.4" y="131" font-size="7.9" text-anchor="middle" fill="#222" font-weight="normal"  stroke="#222" stroke-width="0.12">500</text>
<text transform="translate(321.9,105) rotate(-90)" font-size="9.4" fill="#222" stroke="#222" stroke-width="0.3" lengthAdjust="spacingAndGlyphs" textLength="70.3">Size of cell cluster (μm)</text>
<text x="416.2" y="144.8" font-size="9.4" fill="#222" stroke="#222" stroke-width="0.3" lengthAdjust="spacingAndGlyphs" textLength="33.4">HA (ng/mL)</text>
<polyline points="347.0,119.5 418.3,119.5 456.6,80.2 473.1,50.7 494.9,50.7 511.4,29.7" fill="none" stroke="#1b6590" stroke-width="1.3"/>
<circle cx="347.0" cy="119.5" r="2" fill="#1b6590"/>
<circle cx="418.3" cy="119.5" r="2" fill="#1b6590"/>
<line x1="456.6" y1="71.126" x2="456.6" y2="89.216" stroke="#1b6590" stroke-width="0.8"/>
<line x1="454.8" y1="71.126" x2="458.40000000000003" y2="71.126" stroke="#1b6590" stroke-width="0.8"/>
<line x1="454.8" y1="89.216" x2="458.40000000000003" y2="89.216" stroke="#1b6590" stroke-width="0.8"/>
<circle cx="456.6" cy="80.2" r="2" fill="#1b6590"/>
<line x1="473.0964437623862" y1="41.78" x2="473.0964437623862" y2="59.60199999999999" stroke="#1b6590" stroke-width="0.8"/>
<line x1="471.29644376238616" y1="41.78" x2="474.8964437623862" y2="41.78" stroke="#1b6590" stroke-width="0.8"/>
<line x1="471.29644376238616" y1="59.60199999999999" x2="474.8964437623862" y2="59.60199999999999" stroke="#1b6590" stroke-width="0.8"/>
<circle cx="473.1" cy="50.7" r="2" fill="#1b6590"/>
<line x1="494.9035562376138" y1="37.291" x2="494.9035562376138" y2="64.091" stroke="#1b6590" stroke-width="0.8"/>
<line x1="493.1035562376138" y1="37.291" x2="496.70355623761384" y2="37.291" stroke="#1b6590" stroke-width="0.8"/>
<line x1="493.1035562376138" y1="64.091" x2="496.70355623761384" y2="64.091" stroke="#1b6590" stroke-width="0.8"/>
<circle cx="494.9" cy="50.7" r="2" fill="#1b6590"/>
<line x1="511.4" y1="16.319999999999993" x2="511.4" y2="43.11999999999999" stroke="#1b6590" stroke-width="0.8"/>
<line x1="509.59999999999997" y1="16.319999999999993" x2="513.1999999999999" y2="16.319999999999993" stroke="#1b6590" stroke-width="0.8"/>
<line x1="509.59999999999997" y1="43.11999999999999" x2="513.1999999999999" y2="43.11999999999999" stroke="#1b6590" stroke-width="0.8"/>
<circle cx="511.4" cy="29.7" r="2" fill="#1b6590"/>
<polyline points="347.0,119.5 418.3,119.5 456.6,119.5 473.1,119.5 494.9,119.5 511.4,119.5" fill="none" stroke="#de1a4b" stroke-width="1.3"/>
<rect x="345.0" y="117.5" width="4" height="4" fill="#de1a4b"/>
<rect x="416.3" y="117.5" width="4" height="4" fill="#de1a4b"/>
<rect x="454.6" y="117.5" width="4" height="4" fill="#de1a4b"/>
<rect x="471.1" y="117.5" width="4" height="4" fill="#de1a4b"/>
<rect x="492.9" y="117.5" width="4" height="4" fill="#de1a4b"/>
<rect x="509.4" y="117.5" width="4" height="4" fill="#de1a4b"/>
<line x1="355" y1="19.2" x2="367.5" y2="19.2" stroke="#1b6590" stroke-width="1.4"/>
<circle cx="361.5" cy="19.2" r="2" fill="#1b6590"/>
<text x="370.9" y="21.4" font-size="7.5" text-anchor="start" fill="#222" font-weight="normal"  stroke="#222" stroke-width="0.12">Mock</text>
<line x1="355" y1="30.9" x2="367.5" y2="30.9" stroke="#de1a4b" stroke-width="1.4"/>
<rect x="359.5" y="28.9" width="4" height="4" fill="#de1a4b"/>
<text x="370.9" y="33.5" font-size="7.5" text-anchor="start" fill="#222" font-weight="normal"  stroke="#222" stroke-width="0.12">CD44-KO</text>
<line x1="53.2" y1="193.5" x2="53.2" y2="295.3" stroke="#2a2a2a" stroke-width="1.3"/>
<line x1="53.2" y1="295.3" x2="250" y2="295.3" stroke="#2a2a2a" stroke-width="1.3"/>
<line x1="51.0" y1="295.3" x2="53.2" y2="295.3" stroke="#2a2a2a" stroke-width="0.9"/>
<text x="47.6" y="298.40000000000003" font-size="7.9" text-anchor="end" fill="#222" font-weight="normal"  stroke="#222" stroke-width="0.12">0</text>
<line x1="51.0" y1="275.62" x2="53.2" y2="275.62" stroke="#2a2a2a" stroke-width="0.9"/>
<text x="47.6" y="278.72" font-size="7.9" text-anchor="end" fill="#222" font-weight="normal"  stroke="#222" stroke-width="0.12">20</text>
<line x1="51.0" y1="255.94" x2="53.2" y2="255.94" stroke="#2a2a2a" stroke-width="0.9"/>
<text x="47.6" y="259.04" font-size="7.9" text-anchor="end" fill="#222" font-weight="normal"  stroke="#222" stroke-width="0.12">40</text>
<line x1="51.0" y1="236.26000000000002" x2="53.2" y2="236.26000000000002" stroke="#2a2a2a" stroke-width="0.9"/>
<text x="47.6" y="239.36" font-size="7.9" text-anchor="end" fill="#222" font-weight="normal"  stroke="#222" stroke-width="0.12">60</text>
<line x1="51.0" y1="216.58" x2="53.2" y2="216.58" stroke="#2a2a2a" stroke-width="0.9"/>
<text x="47.6" y="219.68" font-size="7.9" text-anchor="end" fill="#222" font-weight="normal"  stroke="#222" stroke-width="0.12">80</text>
<line x1="51.0" y1="196.9" x2="53.2" y2="196.9" stroke="#2a2a2a" stroke-width="0.9"/>
<text x="47.6" y="200.0" font-size="7.9" text-anchor="end" fill="#222" font-weight="normal"  stroke="#222" stroke-width="0.12">100</text>
<line x1="53.2" y1="295.3" x2="53.2" y2="297.5" stroke="#2a2a2a" stroke-width="0.9"/>
<text x="53.2" y="306.2" font-size="7.9" text-anchor="middle" fill="#222" font-weight="normal"  stroke="#222" stroke-width="0.12">0</text>
<line x1="85.4" y1="295.3" x2="85.4" y2="297.5" stroke="#2a2a2a" stroke-width="0.9"/>
<text x="85.4" y="306.2" font-size="7.9" text-anchor="middle" fill="#222" font-weight="normal"  stroke="#222" stroke-width="0.12">2</text>
<line x1="117.60000000000001" y1="295.3" x2="117.60000000000001" y2="297.5" stroke="#2a2a2a" stroke-width="0.9"/>
<text x="117.60000000000001" y="306.2" font-size="7.9" text-anchor="middle" fill="#222" font-weight="normal"  stroke="#222" stroke-width="0.12">4</text>
<line x1="149.8" y1="295.3" x2="149.8" y2="297.5" stroke="#2a2a2a" stroke-width="0.9"/>
<text x="149.8" y="306.2" font-size="7.9" text-anchor="middle" fill="#222" font-weight="normal"  stroke="#222" stroke-width="0.12">6</text>
<line x1="182.0" y1="295.3" x2="182.0" y2="297.5" stroke="#2a2a2a" stroke-width="0.9"/>
<text x="182.0" y="306.2" font-size="7.9" text-anchor="middle" fill="#222" font-weight="normal"  stroke="#222" stroke-width="0.12">8</text>
<line x1="214.2" y1="295.3" x2="214.2" y2="297.5" stroke="#2a2a2a" stroke-width="0.9"/>
<text x="214.2" y="306.2" font-size="7.9" text-anchor="middle" fill="#222" font-weight="normal"  stroke="#222" stroke-width="0.12">10</text>
<line x1="246.40000000000003" y1="295.3" x2="246.40000000000003" y2="297.5" stroke="#2a2a2a" stroke-width="0.9"/>
<text x="246.40000000000003" y="306.2" font-size="7.9" text-anchor="middle" fill="#222" font-weight="normal"  stroke="#222" stroke-width="0.12">12</text>
<text transform="translate(28.9,271.9) rotate(-90)" font-size="9.4" fill="#222" stroke="#222" stroke-width="0.3" lengthAdjust="spacingAndGlyphs" textLength="55.6">Overall survival (%)</text>
<text x="109.6" y="319.3" font-size="9.4" fill="#222" stroke="#222" stroke-width="0.3" lengthAdjust="spacingAndGlyphs" textLength="85">Time after treatment (weeks)</text>
<text x="61.9" y="288.8" font-size="8.3" text-anchor="start" fill="#222" font-weight="normal"  stroke="#222" stroke-width="0.12"><tspan font-style="italic">P</tspan>=0.8154</text>
<path d="M53.2,196.3 H149.8 V220.9 H182.0 V245.5 H198.1 V282.4 H214.2 V294.7 H246.4" fill="none" stroke="#1b6590" stroke-width="1.3"/>
<path d="M53.2,197.2 H149.8 V221.8 H165.9 V234.1 H182.0 V258.7 H198.1 V271.0 H214.2 V283.3 H230.3 V295.6 H246.4" fill="none" stroke="#de1a4b" stroke-width="1.3"/>
<line x1="53.2" y1="197.0" x2="150.4" y2="197.0" stroke="#8e1a4a" stroke-width="1.9"/>
<rect x="115.7" y="194.4" width="3.8" height="3.8" fill="#1b6590"/>
<rect x="147.9" y="219.0" width="3.8" height="3.8" fill="#1b6590"/>
<rect x="164.0" y="219.0" width="3.8" height="3.8" fill="#1b6590"/>
<rect x="180.1" y="243.6" width="3.8" height="3.8" fill="#1b6590"/>
<rect x="196.2" y="280.5" width="3.8" height="3.8" fill="#1b6590"/>
<rect x="212.3" y="292.8" width="3.8" height="3.8" fill="#1b6590"/>
<rect x="244.5" y="292.8" width="3.8" height="3.8" fill="#1b6590"/>
<circle cx="117.6" cy="196.9" r="2.1" fill="#de1a4b"/>
<circle cx="149.8" cy="221.5" r="2.1" fill="#de1a4b"/>
<circle cx="165.9" cy="233.8" r="2.1" fill="#de1a4b"/>
<circle cx="182.0" cy="258.4" r="2.1" fill="#de1a4b"/>
<circle cx="198.1" cy="270.7" r="2.1" fill="#de1a4b"/>
<circle cx="214.2" cy="283.0" r="2.1" fill="#de1a4b"/>
<circle cx="230.3" cy="295.3" r="2.1" fill="#de1a4b"/>
<circle cx="246.4" cy="295.3" r="2.1" fill="#de1a4b"/>
<rect x="125.2" y="178" width="3.6" height="3.6" fill="#1b6590"/>
<text x="132.9" y="182.4" font-size="7.2" text-anchor="start" fill="#222" font-weight="normal"  stroke="#222" stroke-width="0.12">PBS</text>
<circle cx="158.3" cy="179.8" r="2.1" fill="#de1a4b"/>
<text x="164" y="182.4" font-size="7.2" text-anchor="start" fill="#222" font-weight="normal"  stroke="#222" stroke-width="0.12">HA</text>
<rect x="220" y="181.8" width="74.30000000000001" height="14.6" fill="#0a69a0"/>
<text x="257.15" y="192" font-size="8" text-anchor="middle" fill="#fff" font-weight="normal" >EMD</text>
<rect x="220" y="196.5" width="74.30000000000001" height="15" fill="#deecf2"/>
<text x="224.7" y="207.0" font-size="8.2" text-anchor="start" fill="#222" font-weight="normal"  stroke="#222" stroke-width="0.12">PBS</text>
<text x="290" y="207.0" font-size="8.2" text-anchor="end" fill="#222" font-weight="normal"  stroke="#222" stroke-width="0.12">4/8</text>
<rect x="220" y="211.5" width="74.30000000000001" height="15" fill="#bad5e2"/>
<text x="230.4" y="222.0" font-size="8.2" text-anchor="start" fill="#222" font-weight="normal"  stroke="#222" stroke-width="0.12">Liver</text>
<text x="290" y="222.0" font-size="8.2" text-anchor="end" fill="#222" font-weight="normal"  stroke="#222" stroke-width="0.12">4/8</text>
<rect x="220" y="226.5" width="74.30000000000001" height="15" fill="#deecf2"/>
<text x="224.7" y="237.0" font-size="8.2" text-anchor="start" fill="#222" font-weight="normal"  stroke="#222" stroke-width="0.12">HA</text>
<text x="290" y="237.0" font-size="8.2" text-anchor="end" fill="#222" font-weight="normal"  stroke="#222" stroke-width="0.12">3/8</text>
<rect x="220" y="241.5" width="74.30000000000001" height="15" fill="#bad5e2"/>
<text x="230.4" y="252.0" font-size="8.2" text-anchor="start" fill="#222" font-weight="normal"  stroke="#222" stroke-width="0.12">Liver</text>
<text x="290" y="252.0" font-size="8.2" text-anchor="end" fill="#222" font-weight="normal"  stroke="#222" stroke-width="0.12">3/8</text>
<rect x="335.4" y="181.8" width="155.5" height="14.7" fill="#0a69a0"/>
<text x="354.85" y="191.9" font-size="8.4" text-anchor="middle" fill="#fff" font-weight="normal" >PBS</text>
<text x="393.75" y="191.9" font-size="8.4" text-anchor="middle" fill="#fff" font-weight="normal" >EMD</text>
<text x="432.79999999999995" y="191.9" font-size="8.4" text-anchor="middle" fill="#fff" font-weight="normal" >HA</text>
<text x="471.65" y="191.9" font-size="8.4" text-anchor="middle" fill="#fff" font-weight="normal" >EMD</text>
<rect x="335.4" y="196.5" width="155.5" height="15" fill="#deecf2"/>
<text x="354.85" y="206.8" font-size="8" text-anchor="middle" fill="#262626" font-weight="bold" >#1</text>
<text x="393.75" y="206.8" font-size="8" text-anchor="middle" fill="#262626" font-weight="normal" stroke="#262626" stroke-width="0.25">1</text>
<text x="432.79999999999995" y="206.8" font-size="8" text-anchor="middle" fill="#262626" font-weight="bold" >#1</text>
<text x="471.65" y="206.8" font-size="8" text-anchor="middle" fill="#262626" font-weight="normal" stroke="#262626" stroke-width="0.25">0</text>
<rect x="335.4" y="211.5" width="155.5" height="15" fill="#bad5e2"/>
<text x="354.85" y="221.8" font-size="8" text-anchor="middle" fill="#262626" font-weight="bold" >#2</text>
<text x="393.75" y="221.8" font-size="8" text-anchor="middle" fill="#262626" font-weight="normal" stroke="#262626" stroke-width="0.25">0</text>
<text x="432.79999999999995" y="221.8" font-size="8" text-anchor="middle" fill="#262626" font-weight="bold" >#2</text>
<text x="471.65" y="221.8" font-size="8" text-anchor="middle" fill="#262626" font-weight="normal" stroke="#262626" stroke-width="0.25">1</text>
<rect x="335.4" y="226.5" width="155.5" height="15" fill="#deecf2"/>
<text x="354.85" y="236.8" font-size="8" text-anchor="middle" fill="#262626" font-weight="bold" >#3</text>
<text x="393.75" y="236.8" font-size="8" text-anchor="middle" fill="#262626" font-weight="normal" stroke="#262626" stroke-width="0.25">1</text>
<text x="432.79999999999995" y="236.8" font-size="8" text-anchor="middle" fill="#262626" font-weight="bold" >#3</text>
<text x="471.65" y="236.8" font-size="8" text-anchor="middle" fill="#262626" font-weight="normal" stroke="#262626" stroke-width="0.25">0</text>
<rect x="335.4" y="241.5" width="155.5" height="15" fill="#bad5e2"/>
<text x="354.85" y="251.8" font-size="8" text-anchor="middle" fill="#262626" font-weight="bold" >#4</text>
<text x="393.75" y="251.8" font-size="8" text-anchor="middle" fill="#262626" font-weight="normal" stroke="#262626" stroke-width="0.25">0</text>
<text x="432.79999999999995" y="251.8" font-size="8" text-anchor="middle" fill="#262626" font-weight="bold" >#4</text>
<text x="471.65" y="251.8" font-size="8" text-anchor="middle" fill="#262626" font-weight="normal" stroke="#262626" stroke-width="0.25">0</text>
<rect x="335.4" y="256.5" width="155.5" height="15" fill="#deecf2"/>
<text x="354.85" y="266.8" font-size="8" text-anchor="middle" fill="#262626" font-weight="bold" >#5</text>
<text x="393.75" y="266.8" font-size="8" text-anchor="middle" fill="#262626" font-weight="normal" stroke="#262626" stroke-width="0.25">1</text>
<text x="432.79999999999995" y="266.8" font-size="8" text-anchor="middle" fill="#262626" font-weight="bold" >#5</text>
<text x="471.65" y="266.8" font-size="8" text-anchor="middle" fill="#262626" font-weight="normal" stroke="#262626" stroke-width="0.25">1</text>
<rect x="335.4" y="271.5" width="155.5" height="15" fill="#bad5e2"/>
<text x="354.85" y="281.8" font-size="8" text-anchor="middle" fill="#262626" font-weight="bold" >#6</text>
<text x="393.75" y="281.8" font-size="8" text-anchor="middle" fill="#262626" font-weight="normal" stroke="#262626" stroke-width="0.25">0</text>
<text x="432.79999999999995" y="281.8" font-size="8" text-anchor="middle" fill="#262626" font-weight="bold" >#6</text>
<text x="471.65" y="281.8" font-size="8" text-anchor="middle" fill="#262626" font-weight="normal" stroke="#262626" stroke-width="0.25">0</text>
<rect x="335.4" y="286.5" width="155.5" height="15" fill="#deecf2"/>
<text x="354.85" y="296.8" font-size="8" text-anchor="middle" fill="#262626" font-weight="bold" >#7</text>
<text x="393.75" y="296.8" font-size="8" text-anchor="middle" fill="#262626" font-weight="normal" stroke="#262626" stroke-width="0.25">1</text>
<text x="432.79999999999995" y="296.8" font-size="8" text-anchor="middle" fill="#262626" font-weight="bold" >#7</text>
<text x="471.65" y="296.8" font-size="8" text-anchor="middle" fill="#262626" font-weight="normal" stroke="#262626" stroke-width="0.25">1</text>
<rect x="335.4" y="301.5" width="155.5" height="15" fill="#bad5e2"/>
<text x="354.85" y="311.8" font-size="8" text-anchor="middle" fill="#262626" font-weight="bold" >#8</text>
<text x="393.75" y="311.8" font-size="8" text-anchor="middle" fill="#262626" font-weight="normal" stroke="#262626" stroke-width="0.25">0</text>
<text x="432.79999999999995" y="311.8" font-size="8" text-anchor="middle" fill="#262626" font-weight="bold" >#8</text>
<text x="471.65" y="311.8" font-size="8" text-anchor="middle" fill="#262626" font-weight="normal" stroke="#262626" stroke-width="0.25">0</text>
<line x1="374.3" y1="181.8" x2="374.3" y2="316.5" stroke="#ffffff" stroke-width="0.8"/>
<line x1="413.2" y1="181.8" x2="413.2" y2="316.5" stroke="#ffffff" stroke-width="0.8"/>
<line x1="452.4" y1="181.8" x2="452.4" y2="316.5" stroke="#ffffff" stroke-width="0.8"/>
<path d="M393.8,180.4 V176 H471.6 V180.4" fill="none" stroke="#333" stroke-width="0.9"/>
<text x="417.6" y="171.1" font-size="8.3" text-anchor="start" fill="#222" font-weight="normal" letter-spacing="0.3" stroke="#222" stroke-width="0.12"><tspan font-style="italic">P</tspan>=0.64</text>
<rect x="335.3" y="508.3" width="155.89999999999998" height="14.7" fill="#0a69a0"/>
<text x="353.6" y="518.4" font-size="8.4" text-anchor="middle" fill="#fff" font-weight="normal" >IgG</text>
<text x="390.65" y="518.4" font-size="8.4" text-anchor="middle" fill="#fff" font-weight="normal" >EMD</text>
<text x="431.9" y="518.4" font-size="8.4" text-anchor="middle" fill="#fff" font-weight="normal" >Anti-CD44</text>
<text x="472.79999999999995" y="518.4" font-size="8.4" text-anchor="middle" fill="#fff" font-weight="normal" >EMD</text>
<rect x="335.3" y="523.0" width="155.89999999999998" height="15" fill="#deecf2"/>
<text x="353.6" y="533.3" font-size="8" text-anchor="middle" fill="#262626" font-weight="bold" >#1</text>
<text x="390.65" y="533.3" font-size="8" text-anchor="middle" fill="#262626" font-weight="normal" stroke="#262626" stroke-width="0.25">1</text>
<text x="431.9" y="533.3" font-size="8" text-anchor="middle" fill="#262626" font-weight="bold" >#1</text>
<text x="472.79999999999995" y="533.3" font-size="8" text-anchor="middle" fill="#262626" font-weight="normal" stroke="#262626" stroke-width="0.25">0</text>
<rect x="335.3" y="538.0" width="155.89999999999998" height="15" fill="#bad5e2"/>
<text x="353.6" y="548.3" font-size="8" text-anchor="middle" fill="#262626" font-weight="bold" >#2</text>
<text x="390.65" y="548.3" font-size="8" text-anchor="middle" fill="#262626" font-weight="normal" stroke="#262626" stroke-width="0.25">1</text>
<text x="431.9" y="548.3" font-size="8" text-anchor="middle" fill="#262626" font-weight="bold" >#2</text>
<text x="472.79999999999995" y="548.3" font-size="8" text-anchor="middle" fill="#262626" font-weight="normal" stroke="#262626" stroke-width="0.25">2</text>
<rect x="335.3" y="553.0" width="155.89999999999998" height="15" fill="#deecf2"/>
<text x="353.6" y="563.3" font-size="8" text-anchor="middle" fill="#262626" font-weight="bold" >#3</text>
<text x="390.65" y="563.3" font-size="8" text-anchor="middle" fill="#262626" font-weight="normal" stroke="#262626" stroke-width="0.25">1</text>
<text x="431.9" y="563.3" font-size="8" text-anchor="middle" fill="#262626" font-weight="bold" >#3</text>
<text x="472.79999999999995" y="563.3" font-size="8" text-anchor="middle" fill="#262626" font-weight="normal" stroke="#262626" stroke-width="0.25">0</text>
<rect x="335.3" y="568.0" width="155.89999999999998" height="15" fill="#bad5e2"/>
<text x="353.6" y="578.3" font-size="8" text-anchor="middle" fill="#262626" font-weight="bold" >#4</text>
<text x="390.65" y="578.3" font-size="8" text-anchor="middle" fill="#262626" font-weight="normal" stroke="#262626" stroke-width="0.25">2</text>
<text x="431.9" y="578.3" font-size="8" text-anchor="middle" fill="#262626" font-weight="bold" >#4</text>
<text x="472.79999999999995" y="578.3" font-size="8" text-anchor="middle" fill="#262626" font-weight="normal" stroke="#262626" stroke-width="0.25">1</text>
<rect x="335.3" y="583.0" width="155.89999999999998" height="15" fill="#deecf2"/>
<text x="353.6" y="593.3" font-size="8" text-anchor="middle" fill="#262626" font-weight="bold" >#5</text>
<text x="390.65" y="593.3" font-size="8" text-anchor="middle" fill="#262626" font-weight="normal" stroke="#262626" stroke-width="0.25">1</text>
<text x="431.9" y="593.3" font-size="8" text-anchor="middle" fill="#262626" font-weight="bold" >#5</text>
<text x="472.79999999999995" y="593.3" font-size="8" text-anchor="middle" fill="#262626" font-weight="normal" stroke="#262626" stroke-width="0.25">0</text>
<rect x="335.3" y="598.0" width="155.89999999999998" height="15" fill="#bad5e2"/>
<text x="353.6" y="608.3" font-size="8" text-anchor="middle" fill="#262626" font-weight="bold" >#6</text>
<text x="390.65" y="608.3" font-size="8" text-anchor="middle" fill="#262626" font-weight="normal" stroke="#262626" stroke-width="0.25">1</text>
<text x="431.9" y="608.3" font-size="8" text-anchor="middle" fill="#262626" font-weight="bold" >#6</text>
<text x="472.79999999999995" y="608.3" font-size="8" text-anchor="middle" fill="#262626" font-weight="normal" stroke="#262626" stroke-width="0.25">0</text>
<rect x="335.3" y="613.0" width="155.89999999999998" height="15" fill="#deecf2"/>
<text x="353.6" y="623.3" font-size="8" text-anchor="middle" fill="#262626" font-weight="bold" >#7</text>
<text x="390.65" y="623.3" font-size="8" text-anchor="middle" fill="#262626" font-weight="normal" stroke="#262626" stroke-width="0.25">1</text>
<text x="431.9" y="623.3" font-size="8" text-anchor="middle" fill="#262626" font-weight="bold" >#7</text>
<text x="472.79999999999995" y="623.3" font-size="8" text-anchor="middle" fill="#262626" font-weight="normal" stroke="#262626" stroke-width="0.25">0</text>
<rect x="335.3" y="628.0" width="155.89999999999998" height="15" fill="#bad5e2"/>
<text x="353.6" y="638.3" font-size="8" text-anchor="middle" fill="#262626" font-weight="bold" >#8</text>
<text x="390.65" y="638.3" font-size="8" text-anchor="middle" fill="#262626" font-weight="normal" stroke="#262626" stroke-width="0.25">3</text>
<text x="431.9" y="638.3" font-size="8" text-anchor="middle" fill="#262626" font-weight="bold" >#8</text>
<text x="472.79999999999995" y="638.3" font-size="8" text-anchor="middle" fill="#262626" font-weight="normal" stroke="#262626" stroke-width="0.25">1</text>
<line x1="371.9" y1="508.3" x2="371.9" y2="643.0" stroke="#ffffff" stroke-width="0.8"/>
<line x1="409.4" y1="508.3" x2="409.4" y2="643.0" stroke="#ffffff" stroke-width="0.8"/>
<line x1="454.4" y1="508.3" x2="454.4" y2="643.0" stroke="#ffffff" stroke-width="0.8"/>
<path d="M390.7,506.8 V502 H472.9 V506.8" fill="none" stroke="#333" stroke-width="0.9"/>
<text x="409.7" y="497.8" font-size="8.3" text-anchor="start" fill="#de1a4b" font-weight="normal" letter-spacing="0.25" stroke="#de1a4b" stroke-width="0.12"><tspan font-style="italic">P</tspan>=0.02191</text>
<line x1="53.8" y1="352.5" x2="53.8" y2="447.3" stroke="#2a2a2a" stroke-width="1.3"/>
<line x1="53.8" y1="447.3" x2="250" y2="447.3" stroke="#2a2a2a" stroke-width="1.3"/>
<line x1="51.599999999999994" y1="447.3" x2="53.8" y2="447.3" stroke="#2a2a2a" stroke-width="0.9"/>
<text x="47.6" y="450.2" font-size="8.1" text-anchor="end" fill="#222" font-weight="normal"  stroke="#222" stroke-width="0.12">0</text>
<line x1="51.599999999999994" y1="417.40000000000003" x2="53.8" y2="417.40000000000003" stroke="#2a2a2a" stroke-width="0.9"/>
<text x="47.6" y="420.3" font-size="8.1" text-anchor="end" fill="#222" font-weight="normal"  stroke="#222" stroke-width="0.12">50</text>
<line x1="51.599999999999994" y1="387.5" x2="53.8" y2="387.5" stroke="#2a2a2a" stroke-width="0.9"/>
<text x="47.6" y="390.4" font-size="8.1" text-anchor="end" fill="#222" font-weight="normal"  stroke="#222" stroke-width="0.12">100</text>
<line x1="51.599999999999994" y1="357.6" x2="53.8" y2="357.6" stroke="#2a2a2a" stroke-width="0.9"/>
<text x="47.6" y="360.5" font-size="8.1" text-anchor="end" fill="#222" font-weight="normal"  stroke="#222" stroke-width="0.12">150</text>
<line x1="53.8" y1="447.3" x2="53.8" y2="449.5" stroke="#2a2a2a" stroke-width="0.9"/>
<text x="53.8" y="459.2" font-size="8.1" text-anchor="middle" fill="#222" font-weight="normal"  stroke="#222" stroke-width="0.12">0</text>
<line x1="101.65" y1="447.3" x2="101.65" y2="449.5" stroke="#2a2a2a" stroke-width="0.9"/>
<text x="101.65" y="459.2" font-size="8.1" text-anchor="middle" fill="#222" font-weight="normal"  stroke="#222" stroke-width="0.12">2.5</text>
<line x1="149.5" y1="447.3" x2="149.5" y2="449.5" stroke="#2a2a2a" stroke-width="0.9"/>
<text x="149.5" y="459.2" font-size="8.1" text-anchor="middle" fill="#222" font-weight="normal"  stroke="#222" stroke-width="0.12">5</text>
<line x1="197.35000000000002" y1="447.3" x2="197.35000000000002" y2="449.5" stroke="#2a2a2a" stroke-width="0.9"/>
<text x="197.35000000000002" y="459.2" font-size="8.1" text-anchor="middle" fill="#222" font-weight="normal"  stroke="#222" stroke-width="0.12">7.5</text>
<line x1="245.2" y1="447.3" x2="245.2" y2="449.5" stroke="#2a2a2a" stroke-width="0.9"/>
<text x="245.2" y="459.2" font-size="8.1" text-anchor="middle" fill="#222" font-weight="normal"  stroke="#222" stroke-width="0.12">10</text>
<text transform="translate(28.9,435.9) rotate(-90)" font-size="9.4" fill="#222" stroke="#222" stroke-width="0.3" lengthAdjust="spacingAndGlyphs" textLength="71.2">Size of cell cluster (μm)</text>
<text x="110" y="472.3" font-size="9.4" fill="#222" stroke="#222" stroke-width="0.3" lengthAdjust="spacingAndGlyphs" textLength="83.3">Anti-CD44 antibody (μg/mL)</text>
<line x1="53.8" y1="357.30100000000004" x2="53.8" y2="374.045" stroke="#de1a4b" stroke-width="0.8"/>
<line x1="52.0" y1="357.30100000000004" x2="55.599999999999994" y2="357.30100000000004" stroke="#de1a4b" stroke-width="0.8"/>
<line x1="52.0" y1="374.045" x2="55.599999999999994" y2="374.045" stroke="#de1a4b" stroke-width="0.8"/>
<line x1="101.65" y1="373.447" x2="101.65" y2="397.96500000000003" stroke="#de1a4b" stroke-width="0.8"/>
<line x1="99.85000000000001" y1="373.447" x2="103.45" y2="373.447" stroke="#de1a4b" stroke-width="0.8"/>
<line x1="99.85000000000001" y1="397.96500000000003" x2="103.45" y2="397.96500000000003" stroke="#de1a4b" stroke-width="0.8"/>
<line x1="149.5" y1="397.96500000000003" x2="149.5" y2="415.307" stroke="#de1a4b" stroke-width="0.8"/>
<line x1="147.7" y1="397.96500000000003" x2="151.3" y2="397.96500000000003" stroke="#de1a4b" stroke-width="0.8"/>
<line x1="147.7" y1="415.307" x2="151.3" y2="415.307" stroke="#de1a4b" stroke-width="0.8"/>
<polyline points="53.8,365.7 101.7,385.7 149.5,406.6 245.2,447.3" fill="none" stroke="#de1a4b" stroke-width="1.3"/>
<circle cx="53.8" cy="365.7" r="2.1" fill="#de1a4b"/>
<circle cx="101.7" cy="385.7" r="2.1" fill="#de1a4b"/>
<circle cx="149.5" cy="406.6" r="2.1" fill="#de1a4b"/>
<circle cx="245.2" cy="447.3" r="2.1" fill="#de1a4b"/>
<circle cx="101.7" cy="368.8" r="0.95" fill="#1a1a1a"/>
<circle cx="149.5" cy="392.8" r="0.95" fill="#1a1a1a"/>
<circle cx="245.2" cy="439.6" r="0.95" fill="#1a1a1a"/>
<line x1="346.4" y1="354.2" x2="346.4" y2="447.1" stroke="#2a2a2a" stroke-width="1.3"/>
<line x1="346.4" y1="447.1" x2="518" y2="447.1" stroke="#2a2a2a" stroke-width="1.3"/>
<line x1="344.2" y1="447.1" x2="346.4" y2="447.1" stroke="#2a2a2a" stroke-width="0.9"/>
<text x="341" y="450.0" font-size="8.1" text-anchor="end" fill="#222" font-weight="normal"  stroke="#222" stroke-width="0.12">0</text>
<line x1="344.2" y1="417.33500000000004" x2="346.4" y2="417.33500000000004" stroke="#2a2a2a" stroke-width="0.9"/>
<text x="341" y="420.235" font-size="8.1" text-anchor="end" fill="#222" font-weight="normal"  stroke="#222" stroke-width="0.12">50</text>
<line x1="344.2" y1="387.57" x2="346.4" y2="387.57" stroke="#2a2a2a" stroke-width="0.9"/>
<text x="341" y="390.46999999999997" font-size="8.1" text-anchor="end" fill="#222" font-weight="normal"  stroke="#222" stroke-width="0.12">100</text>
<line x1="344.2" y1="357.805" x2="346.4" y2="357.805" stroke="#2a2a2a" stroke-width="0.9"/>
<text x="341" y="360.705" font-size="8.1" text-anchor="end" fill="#222" font-weight="normal"  stroke="#222" stroke-width="0.12">150</text>
<line x1="346.4" y1="447.1" x2="346.4" y2="449.3" stroke="#2a2a2a" stroke-width="0.9"/>
<text x="346.4" y="459.2" font-size="8.1" text-anchor="middle" fill="#222" font-weight="normal"  stroke="#222" stroke-width="0.12">0</text>
<line x1="387.625" y1="447.1" x2="387.625" y2="449.3" stroke="#2a2a2a" stroke-width="0.9"/>
<text x="387.625" y="459.2" font-size="8.1" text-anchor="middle" fill="#222" font-weight="normal"  stroke="#222" stroke-width="0.12">5</text>
<line x1="428.84999999999997" y1="447.1" x2="428.84999999999997" y2="449.3" stroke="#2a2a2a" stroke-width="0.9"/>
<text x="428.84999999999997" y="459.2" font-size="8.1" text-anchor="middle" fill="#222" font-weight="normal"  stroke="#222" stroke-width="0.12">10</text>
<line x1="470.07499999999993" y1="447.1" x2="470.07499999999993" y2="449.3" stroke="#2a2a2a" stroke-width="0.9"/>
<text x="470.07499999999993" y="459.2" font-size="8.1" text-anchor="middle" fill="#222" font-weight="normal"  stroke="#222" stroke-width="0.12">15</text>
<line x1="511.29999999999995" y1="447.1" x2="511.29999999999995" y2="449.3" stroke="#2a2a2a" stroke-width="0.9"/>
<text x="511.29999999999995" y="459.2" font-size="8.1" text-anchor="middle" fill="#222" font-weight="normal"  stroke="#222" stroke-width="0.12">20</text>
<text transform="translate(321.8,430) rotate(-90)" font-size="9.4" fill="#222" stroke="#222" stroke-width="0.3" lengthAdjust="spacingAndGlyphs" textLength="58.3">Relative cell number</text>
<text x="406.1" y="472.5" font-size="9.4" fill="#222" stroke="#222" stroke-width="0.3" lengthAdjust="spacingAndGlyphs" textLength="52.5">Antibody (μg/mL)</text>
<line x1="356.70624999999995" y1="382.39089" x2="356.70624999999995" y2="389.17731000000003" stroke="#de1a4b" stroke-width="0.8"/>
<line x1="354.90624999999994" y1="382.39089" x2="358.50624999999997" y2="382.39089" stroke="#de1a4b" stroke-width="0.8"/>
<line x1="354.90624999999994" y1="389.17731000000003" x2="358.50624999999997" y2="389.17731000000003" stroke="#de1a4b" stroke-width="0.8"/>
<line x1="367.0125" y1="376.49742000000003" x2="367.0125" y2="390.54650000000004" stroke="#de1a4b" stroke-width="0.8"/>
<line x1="365.2125" y1="376.49742000000003" x2="368.8125" y2="376.49742000000003" stroke="#de1a4b" stroke-width="0.8"/>
<line x1="365.2125" y1="390.54650000000004" x2="368.8125" y2="390.54650000000004" stroke="#de1a4b" stroke-width="0.8"/>
<line x1="387.625" y1="380.24781" x2="387.625" y2="385.01021000000003" stroke="#de1a4b" stroke-width="0.8"/>
<line x1="385.825" y1="380.24781" x2="389.425" y2="380.24781" stroke="#de1a4b" stroke-width="0.8"/>
<line x1="385.825" y1="385.01021000000003" x2="389.425" y2="385.01021000000003" stroke="#de1a4b" stroke-width="0.8"/>
<line x1="428.84999999999997" y1="381.25982" x2="428.84999999999997" y2="393.76112" stroke="#de1a4b" stroke-width="0.8"/>
<line x1="427.04999999999995" y1="381.25982" x2="430.65" y2="381.25982" stroke="#de1a4b" stroke-width="0.8"/>
<line x1="427.04999999999995" y1="393.76112" x2="430.65" y2="393.76112" stroke="#de1a4b" stroke-width="0.8"/>
<line x1="511.29999999999995" y1="382.03371000000004" x2="511.29999999999995" y2="396.08279000000005" stroke="#de1a4b" stroke-width="0.8"/>
<line x1="509.49999999999994" y1="382.03371000000004" x2="513.0999999999999" y2="382.03371000000004" stroke="#de1a4b" stroke-width="0.8"/>
<line x1="509.49999999999994" y1="396.08279000000005" x2="513.0999999999999" y2="396.08279000000005" stroke="#de1a4b" stroke-width="0.8"/>
<polyline points="346.4,387.6 356.7,385.8 367.0,383.5 387.6,382.6 428.8,387.5 511.3,389.1" fill="none" stroke="#de1a4b" stroke-width="1.3"/>
<rect x="344.4" y="385.6" width="4" height="4" fill="#de1a4b"/>
<rect x="354.7" y="383.8" width="4" height="4" fill="#de1a4b"/>
<rect x="365.0" y="381.5" width="4" height="4" fill="#de1a4b"/>
<rect x="385.6" y="380.6" width="4" height="4" fill="#de1a4b"/>
<rect x="426.8" y="385.5" width="4" height="4" fill="#de1a4b"/>
<rect x="509.3" y="387.1" width="4" height="4" fill="#de1a4b"/>
<line x1="356.70624999999995" y1="377.98567" x2="356.70624999999995" y2="385.96269" stroke="#1b6590" stroke-width="0.8"/>
<line x1="354.90624999999994" y1="377.98567" x2="358.50624999999997" y2="377.98567" stroke="#1b6590" stroke-width="0.8"/>
<line x1="354.90624999999994" y1="385.96269" x2="358.50624999999997" y2="385.96269" stroke="#1b6590" stroke-width="0.8"/>
<line x1="367.0125" y1="382.45042" x2="367.0125" y2="391.49898" stroke="#1b6590" stroke-width="0.8"/>
<line x1="365.2125" y1="382.45042" x2="368.8125" y2="382.45042" stroke="#1b6590" stroke-width="0.8"/>
<line x1="365.2125" y1="391.49898" x2="368.8125" y2="391.49898" stroke="#1b6590" stroke-width="0.8"/>
<line x1="387.625" y1="377.68802000000005" x2="387.625" y2="391.49898" stroke="#1b6590" stroke-width="0.8"/>
<line x1="385.825" y1="377.68802000000005" x2="389.425" y2="377.68802000000005" stroke="#1b6590" stroke-width="0.8"/>
<line x1="385.825" y1="391.49898" x2="389.425" y2="391.49898" stroke="#1b6590" stroke-width="0.8"/>
<line x1="428.84999999999997" y1="376.61648" x2="428.84999999999997" y2="389.71308" stroke="#1b6590" stroke-width="0.8"/>
<line x1="427.04999999999995" y1="376.61648" x2="430.65" y2="376.61648" stroke="#1b6590" stroke-width="0.8"/>
<line x1="427.04999999999995" y1="389.71308" x2="430.65" y2="389.71308" stroke="#1b6590" stroke-width="0.8"/>
<line x1="511.29999999999995" y1="376.49742000000003" x2="511.29999999999995" y2="392.45146" stroke="#1b6590" stroke-width="0.8"/>
<line x1="509.49999999999994" y1="376.49742000000003" x2="513.0999999999999" y2="376.49742000000003" stroke="#1b6590" stroke-width="0.8"/>
<line x1="509.49999999999994" y1="392.45146" x2="513.0999999999999" y2="392.45146" stroke="#1b6590" stroke-width="0.8"/>
<polyline points="346.4,387.6 356.7,382.0 367.0,387.0 387.6,384.6 428.8,383.2 511.3,384.5" fill="none" stroke="#1b6590" stroke-width="1.3"/>
<circle cx="346.4" cy="387.6" r="2.1" fill="#1b6590"/>
<circle cx="356.7" cy="382.0" r="2.1" fill="#1b6590"/>
<circle cx="367.0" cy="387.0" r="2.1" fill="#1b6590"/>
<circle cx="387.6" cy="384.6" r="2.1" fill="#1b6590"/>
<circle cx="428.8" cy="383.2" r="2.1" fill="#1b6590"/>
<circle cx="511.3" cy="384.5" r="2.1" fill="#1b6590"/>
<line x1="465.6" y1="425.2" x2="477" y2="425.2" stroke="#de1a4b" stroke-width="1.3"/>
<rect x="469.3" y="423.2" width="4" height="4" fill="#de1a4b"/>
<text x="481.9" y="428.2" font-size="7.4" text-anchor="start" fill="#222" font-weight="normal"  stroke="#222" stroke-width="0.12">IgG</text>
<line x1="465.6" y1="438.1" x2="477" y2="438.1" stroke="#1b6590" stroke-width="1.3"/>
<circle cx="471.3" cy="438.1" r="2.1" fill="#1b6590"/>
<text x="481.9" y="440.6" font-size="7.4" text-anchor="start" fill="#222" font-weight="normal"  stroke="#222" stroke-width="0.12">Anti-CD44</text>
</svg>
</body></html>
